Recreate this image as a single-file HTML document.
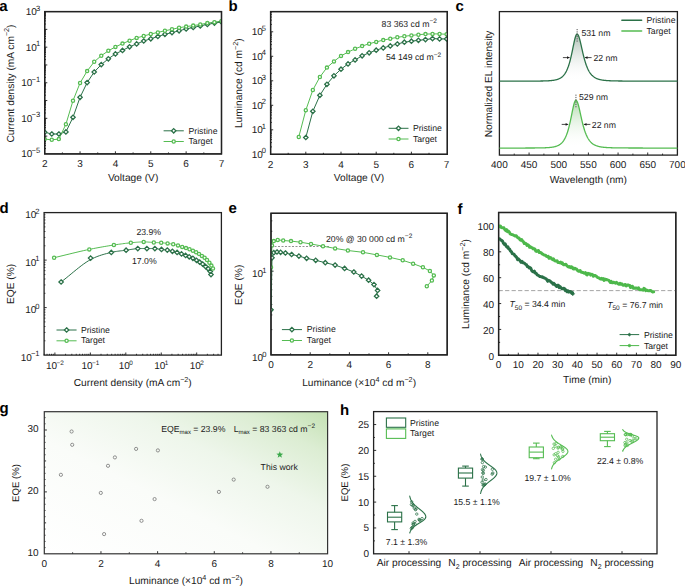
<!DOCTYPE html><html><head><meta charset="utf-8"><style>html,body{margin:0;padding:0;background:#fff;}svg{display:block;font-family:"Liberation Sans",sans-serif;text-rendering:geometricPrecision;}</style></head><body>
<svg width="685" height="586" viewBox="0 0 685 586">
<defs>
<clipPath id="ca"><rect x="44.7" y="11.6" width="176.8" height="142.3"/></clipPath>
<clipPath id="ce"><rect x="271.0" y="213.3" width="176.2" height="141.55"/></clipPath>
<clipPath id="cf"><rect x="498.6" y="212.5" width="177.2" height="142.8"/></clipPath>
<clipPath id="cb"><rect x="270.6" y="11.6" width="176.7" height="142.7"/></clipPath>
<linearGradient id="gp" x1="0" y1="0" x2="0" y2="1"><stop offset="0" stop-color="#a9bcb0"/><stop offset="1" stop-color="#ffffff" stop-opacity="0"/></linearGradient>
<linearGradient id="gt" x1="0" y1="0" x2="0" y2="1"><stop offset="0" stop-color="#b0d9ab"/><stop offset="1" stop-color="#ffffff" stop-opacity="0"/></linearGradient>
<linearGradient id="gg" x1="1" y1="0" x2="0" y2="1"><stop offset="0" stop-color="#c4e1b3"/><stop offset="0.15" stop-color="#dcedd3"/><stop offset="0.35" stop-color="#eef6eb"/><stop offset="0.6" stop-color="#fafcf9"/><stop offset="1" stop-color="#ffffff"/></linearGradient>
</defs>
<rect width="685" height="586" fill="#fff"/>
<text x="-0.8" y="10.7" font-size="15" font-weight="bold" fill="#000">a</text>
<line x1="62.38" y1="153.90" x2="62.38" y2="152.40" stroke="#1a1a1a" stroke-width="0.9"/>
<line x1="80.06" y1="153.90" x2="80.06" y2="151.30" stroke="#1a1a1a" stroke-width="0.9"/>
<line x1="97.74" y1="153.90" x2="97.74" y2="152.40" stroke="#1a1a1a" stroke-width="0.9"/>
<line x1="115.42" y1="153.90" x2="115.42" y2="151.30" stroke="#1a1a1a" stroke-width="0.9"/>
<line x1="133.10" y1="153.90" x2="133.10" y2="152.40" stroke="#1a1a1a" stroke-width="0.9"/>
<line x1="150.78" y1="153.90" x2="150.78" y2="151.30" stroke="#1a1a1a" stroke-width="0.9"/>
<line x1="168.46" y1="153.90" x2="168.46" y2="152.40" stroke="#1a1a1a" stroke-width="0.9"/>
<line x1="186.14" y1="153.90" x2="186.14" y2="151.30" stroke="#1a1a1a" stroke-width="0.9"/>
<line x1="203.82" y1="153.90" x2="203.82" y2="152.40" stroke="#1a1a1a" stroke-width="0.9"/>
<line x1="44.70" y1="148.55" x2="46.00" y2="148.55" stroke="#1a1a1a" stroke-width="0.9"/>
<line x1="44.70" y1="145.41" x2="46.00" y2="145.41" stroke="#1a1a1a" stroke-width="0.9"/>
<line x1="44.70" y1="143.19" x2="46.00" y2="143.19" stroke="#1a1a1a" stroke-width="0.9"/>
<line x1="44.70" y1="141.47" x2="46.00" y2="141.47" stroke="#1a1a1a" stroke-width="0.9"/>
<line x1="44.70" y1="140.06" x2="46.00" y2="140.06" stroke="#1a1a1a" stroke-width="0.9"/>
<line x1="44.70" y1="138.87" x2="46.00" y2="138.87" stroke="#1a1a1a" stroke-width="0.9"/>
<line x1="44.70" y1="137.84" x2="46.00" y2="137.84" stroke="#1a1a1a" stroke-width="0.9"/>
<line x1="44.70" y1="136.93" x2="46.00" y2="136.93" stroke="#1a1a1a" stroke-width="0.9"/>
<line x1="44.70" y1="136.11" x2="47.30" y2="136.11" stroke="#1a1a1a" stroke-width="0.9"/>
<line x1="44.70" y1="130.76" x2="46.00" y2="130.76" stroke="#1a1a1a" stroke-width="0.9"/>
<line x1="44.70" y1="127.63" x2="46.00" y2="127.63" stroke="#1a1a1a" stroke-width="0.9"/>
<line x1="44.70" y1="125.40" x2="46.00" y2="125.40" stroke="#1a1a1a" stroke-width="0.9"/>
<line x1="44.70" y1="123.68" x2="46.00" y2="123.68" stroke="#1a1a1a" stroke-width="0.9"/>
<line x1="44.70" y1="122.27" x2="46.00" y2="122.27" stroke="#1a1a1a" stroke-width="0.9"/>
<line x1="44.70" y1="121.08" x2="46.00" y2="121.08" stroke="#1a1a1a" stroke-width="0.9"/>
<line x1="44.70" y1="120.05" x2="46.00" y2="120.05" stroke="#1a1a1a" stroke-width="0.9"/>
<line x1="44.70" y1="119.14" x2="46.00" y2="119.14" stroke="#1a1a1a" stroke-width="0.9"/>
<line x1="44.70" y1="118.33" x2="47.30" y2="118.33" stroke="#1a1a1a" stroke-width="0.9"/>
<line x1="44.70" y1="112.97" x2="46.00" y2="112.97" stroke="#1a1a1a" stroke-width="0.9"/>
<line x1="44.70" y1="109.84" x2="46.00" y2="109.84" stroke="#1a1a1a" stroke-width="0.9"/>
<line x1="44.70" y1="107.62" x2="46.00" y2="107.62" stroke="#1a1a1a" stroke-width="0.9"/>
<line x1="44.70" y1="105.89" x2="46.00" y2="105.89" stroke="#1a1a1a" stroke-width="0.9"/>
<line x1="44.70" y1="104.48" x2="46.00" y2="104.48" stroke="#1a1a1a" stroke-width="0.9"/>
<line x1="44.70" y1="103.29" x2="46.00" y2="103.29" stroke="#1a1a1a" stroke-width="0.9"/>
<line x1="44.70" y1="102.26" x2="46.00" y2="102.26" stroke="#1a1a1a" stroke-width="0.9"/>
<line x1="44.70" y1="101.35" x2="46.00" y2="101.35" stroke="#1a1a1a" stroke-width="0.9"/>
<line x1="44.70" y1="100.54" x2="47.30" y2="100.54" stroke="#1a1a1a" stroke-width="0.9"/>
<line x1="44.70" y1="95.18" x2="46.00" y2="95.18" stroke="#1a1a1a" stroke-width="0.9"/>
<line x1="44.70" y1="92.05" x2="46.00" y2="92.05" stroke="#1a1a1a" stroke-width="0.9"/>
<line x1="44.70" y1="89.83" x2="46.00" y2="89.83" stroke="#1a1a1a" stroke-width="0.9"/>
<line x1="44.70" y1="88.10" x2="46.00" y2="88.10" stroke="#1a1a1a" stroke-width="0.9"/>
<line x1="44.70" y1="86.70" x2="46.00" y2="86.70" stroke="#1a1a1a" stroke-width="0.9"/>
<line x1="44.70" y1="85.51" x2="46.00" y2="85.51" stroke="#1a1a1a" stroke-width="0.9"/>
<line x1="44.70" y1="84.47" x2="46.00" y2="84.47" stroke="#1a1a1a" stroke-width="0.9"/>
<line x1="44.70" y1="83.56" x2="46.00" y2="83.56" stroke="#1a1a1a" stroke-width="0.9"/>
<line x1="44.70" y1="82.75" x2="47.30" y2="82.75" stroke="#1a1a1a" stroke-width="0.9"/>
<line x1="44.70" y1="77.40" x2="46.00" y2="77.40" stroke="#1a1a1a" stroke-width="0.9"/>
<line x1="44.70" y1="74.26" x2="46.00" y2="74.26" stroke="#1a1a1a" stroke-width="0.9"/>
<line x1="44.70" y1="72.04" x2="46.00" y2="72.04" stroke="#1a1a1a" stroke-width="0.9"/>
<line x1="44.70" y1="70.32" x2="46.00" y2="70.32" stroke="#1a1a1a" stroke-width="0.9"/>
<line x1="44.70" y1="68.91" x2="46.00" y2="68.91" stroke="#1a1a1a" stroke-width="0.9"/>
<line x1="44.70" y1="67.72" x2="46.00" y2="67.72" stroke="#1a1a1a" stroke-width="0.9"/>
<line x1="44.70" y1="66.69" x2="46.00" y2="66.69" stroke="#1a1a1a" stroke-width="0.9"/>
<line x1="44.70" y1="65.78" x2="46.00" y2="65.78" stroke="#1a1a1a" stroke-width="0.9"/>
<line x1="44.70" y1="64.96" x2="47.30" y2="64.96" stroke="#1a1a1a" stroke-width="0.9"/>
<line x1="44.70" y1="59.61" x2="46.00" y2="59.61" stroke="#1a1a1a" stroke-width="0.9"/>
<line x1="44.70" y1="56.48" x2="46.00" y2="56.48" stroke="#1a1a1a" stroke-width="0.9"/>
<line x1="44.70" y1="54.25" x2="46.00" y2="54.25" stroke="#1a1a1a" stroke-width="0.9"/>
<line x1="44.70" y1="52.53" x2="46.00" y2="52.53" stroke="#1a1a1a" stroke-width="0.9"/>
<line x1="44.70" y1="51.12" x2="46.00" y2="51.12" stroke="#1a1a1a" stroke-width="0.9"/>
<line x1="44.70" y1="49.93" x2="46.00" y2="49.93" stroke="#1a1a1a" stroke-width="0.9"/>
<line x1="44.70" y1="48.90" x2="46.00" y2="48.90" stroke="#1a1a1a" stroke-width="0.9"/>
<line x1="44.70" y1="47.99" x2="46.00" y2="47.99" stroke="#1a1a1a" stroke-width="0.9"/>
<line x1="44.70" y1="47.18" x2="47.30" y2="47.18" stroke="#1a1a1a" stroke-width="0.9"/>
<line x1="44.70" y1="41.82" x2="46.00" y2="41.82" stroke="#1a1a1a" stroke-width="0.9"/>
<line x1="44.70" y1="38.69" x2="46.00" y2="38.69" stroke="#1a1a1a" stroke-width="0.9"/>
<line x1="44.70" y1="36.47" x2="46.00" y2="36.47" stroke="#1a1a1a" stroke-width="0.9"/>
<line x1="44.70" y1="34.74" x2="46.00" y2="34.74" stroke="#1a1a1a" stroke-width="0.9"/>
<line x1="44.70" y1="33.33" x2="46.00" y2="33.33" stroke="#1a1a1a" stroke-width="0.9"/>
<line x1="44.70" y1="32.14" x2="46.00" y2="32.14" stroke="#1a1a1a" stroke-width="0.9"/>
<line x1="44.70" y1="31.11" x2="46.00" y2="31.11" stroke="#1a1a1a" stroke-width="0.9"/>
<line x1="44.70" y1="30.20" x2="46.00" y2="30.20" stroke="#1a1a1a" stroke-width="0.9"/>
<line x1="44.70" y1="29.39" x2="47.30" y2="29.39" stroke="#1a1a1a" stroke-width="0.9"/>
<line x1="44.70" y1="24.03" x2="46.00" y2="24.03" stroke="#1a1a1a" stroke-width="0.9"/>
<line x1="44.70" y1="20.90" x2="46.00" y2="20.90" stroke="#1a1a1a" stroke-width="0.9"/>
<line x1="44.70" y1="18.68" x2="46.00" y2="18.68" stroke="#1a1a1a" stroke-width="0.9"/>
<line x1="44.70" y1="16.95" x2="46.00" y2="16.95" stroke="#1a1a1a" stroke-width="0.9"/>
<line x1="44.70" y1="15.55" x2="46.00" y2="15.55" stroke="#1a1a1a" stroke-width="0.9"/>
<line x1="44.70" y1="14.36" x2="46.00" y2="14.36" stroke="#1a1a1a" stroke-width="0.9"/>
<line x1="44.70" y1="13.32" x2="46.00" y2="13.32" stroke="#1a1a1a" stroke-width="0.9"/>
<line x1="44.70" y1="12.41" x2="46.00" y2="12.41" stroke="#1a1a1a" stroke-width="0.9"/>
<rect x="44.7" y="11.6" width="176.80" height="142.30" fill="none" stroke="#222" stroke-width="1.3"/>
<text x="44.70" y="167.20" font-size="10.0" text-anchor="middle" fill="#1a1a1a" >2</text>
<text x="80.06" y="167.20" font-size="10.0" text-anchor="middle" fill="#1a1a1a" >3</text>
<text x="115.42" y="167.20" font-size="10.0" text-anchor="middle" fill="#1a1a1a" >4</text>
<text x="150.78" y="167.20" font-size="10.0" text-anchor="middle" fill="#1a1a1a" >5</text>
<text x="186.14" y="167.20" font-size="10.0" text-anchor="middle" fill="#1a1a1a" >6</text>
<text x="221.50" y="167.20" font-size="10.0" text-anchor="middle" fill="#1a1a1a" >7</text>
<text x="40.20" y="15.00" font-size="10.0" text-anchor="end" fill="#1a1a1a" >10<tspan font-size="7.6" dy="-4.4" dx="-0.9">3</tspan></text>
<text x="40.20" y="50.58" font-size="10.0" text-anchor="end" fill="#1a1a1a" >10<tspan font-size="7.6" dy="-4.4" dx="-0.9">1</tspan></text>
<text x="40.20" y="86.15" font-size="10.0" text-anchor="end" fill="#1a1a1a" >10<tspan font-size="7.6" dy="-4.4" dx="-0.9">−1</tspan></text>
<text x="40.20" y="121.73" font-size="10.0" text-anchor="end" fill="#1a1a1a" >10<tspan font-size="7.6" dy="-4.4" dx="-0.9">−3</tspan></text>
<text x="40.20" y="157.30" font-size="10.0" text-anchor="end" fill="#1a1a1a" >10<tspan font-size="7.6" dy="-4.4" dx="-0.9">−5</tspan></text>
<text x="133.10" y="181.00" font-size="10.2" text-anchor="middle" fill="#1a1a1a" >Voltage (V)</text>
<text transform="translate(13.6,83.5) rotate(-90)" font-size="10.2" text-anchor="middle" fill="#1a1a1a">Current density (mA cm<tspan font-size="7.2" dy="-4.2" dx="0">−2</tspan><tspan dy="4.2">)</tspan></text>
<g clip-path="url(#ca)">
<polyline points="44.70,132.20 51.77,134.00 58.84,134.00 65.92,131.90 72.99,117.30 80.06,97.30 87.13,82.60 94.20,72.00 101.28,64.60 108.35,58.80 115.42,53.90 122.49,50.40 129.56,46.80 136.64,43.90 143.71,41.00 150.78,38.80 157.85,36.50 164.92,34.30 172.00,32.60 179.07,30.80 186.14,28.90 193.21,27.50 200.28,25.90 207.36,24.40 214.43,23.10 221.50,21.90" fill="none" stroke="#2b7148" stroke-width="1.0" stroke-linejoin="round" stroke-linecap="round" />
<polyline points="44.70,139.10 51.77,139.80 58.84,139.10 65.92,124.20 72.99,100.70 80.06,83.00 87.13,71.10 94.20,61.80 101.28,55.70 108.35,50.80 115.42,46.90 122.49,43.60 129.56,40.70 136.64,37.90 143.71,36.00 150.78,34.00 157.85,32.40 164.92,30.80 172.00,29.30 179.07,27.70 186.14,26.60 193.21,25.60 200.28,24.50 207.36,23.10 214.43,22.20 221.50,21.00" fill="none" stroke="#55bc52" stroke-width="1.0" stroke-linejoin="round" stroke-linecap="round" />
<path d="M44.70 130.00L46.90 132.20L44.70 134.40L42.50 132.20Z" fill="white" stroke="#2b7148" stroke-width="1.3"/>
<path d="M51.77 131.80L53.97 134.00L51.77 136.20L49.57 134.00Z" fill="white" stroke="#2b7148" stroke-width="1.3"/>
<path d="M58.84 131.80L61.04 134.00L58.84 136.20L56.64 134.00Z" fill="white" stroke="#2b7148" stroke-width="1.3"/>
<path d="M65.92 129.70L68.12 131.90L65.92 134.10L63.72 131.90Z" fill="white" stroke="#2b7148" stroke-width="1.3"/>
<path d="M72.99 115.10L75.19 117.30L72.99 119.50L70.79 117.30Z" fill="white" stroke="#2b7148" stroke-width="1.3"/>
<path d="M80.06 95.10L82.26 97.30L80.06 99.50L77.86 97.30Z" fill="white" stroke="#2b7148" stroke-width="1.3"/>
<path d="M87.13 80.40L89.33 82.60L87.13 84.80L84.93 82.60Z" fill="white" stroke="#2b7148" stroke-width="1.3"/>
<path d="M94.20 69.80L96.40 72.00L94.20 74.20L92.00 72.00Z" fill="white" stroke="#2b7148" stroke-width="1.3"/>
<path d="M101.28 62.40L103.48 64.60L101.28 66.80L99.08 64.60Z" fill="white" stroke="#2b7148" stroke-width="1.3"/>
<path d="M108.35 56.60L110.55 58.80L108.35 61.00L106.15 58.80Z" fill="white" stroke="#2b7148" stroke-width="1.3"/>
<path d="M115.42 51.70L117.62 53.90L115.42 56.10L113.22 53.90Z" fill="white" stroke="#2b7148" stroke-width="1.3"/>
<path d="M122.49 48.20L124.69 50.40L122.49 52.60L120.29 50.40Z" fill="white" stroke="#2b7148" stroke-width="1.3"/>
<path d="M129.56 44.60L131.76 46.80L129.56 49.00L127.36 46.80Z" fill="white" stroke="#2b7148" stroke-width="1.3"/>
<path d="M136.64 41.70L138.84 43.90L136.64 46.10L134.44 43.90Z" fill="white" stroke="#2b7148" stroke-width="1.3"/>
<path d="M143.71 38.80L145.91 41.00L143.71 43.20L141.51 41.00Z" fill="white" stroke="#2b7148" stroke-width="1.3"/>
<path d="M150.78 36.60L152.98 38.80L150.78 41.00L148.58 38.80Z" fill="white" stroke="#2b7148" stroke-width="1.3"/>
<path d="M157.85 34.30L160.05 36.50L157.85 38.70L155.65 36.50Z" fill="white" stroke="#2b7148" stroke-width="1.3"/>
<path d="M164.92 32.10L167.12 34.30L164.92 36.50L162.72 34.30Z" fill="white" stroke="#2b7148" stroke-width="1.3"/>
<path d="M172.00 30.40L174.20 32.60L172.00 34.80L169.80 32.60Z" fill="white" stroke="#2b7148" stroke-width="1.3"/>
<path d="M179.07 28.60L181.27 30.80L179.07 33.00L176.87 30.80Z" fill="white" stroke="#2b7148" stroke-width="1.3"/>
<path d="M186.14 26.70L188.34 28.90L186.14 31.10L183.94 28.90Z" fill="white" stroke="#2b7148" stroke-width="1.3"/>
<path d="M193.21 25.30L195.41 27.50L193.21 29.70L191.01 27.50Z" fill="white" stroke="#2b7148" stroke-width="1.3"/>
<path d="M200.28 23.70L202.48 25.90L200.28 28.10L198.08 25.90Z" fill="white" stroke="#2b7148" stroke-width="1.3"/>
<path d="M207.36 22.20L209.56 24.40L207.36 26.60L205.16 24.40Z" fill="white" stroke="#2b7148" stroke-width="1.3"/>
<path d="M214.43 20.90L216.63 23.10L214.43 25.30L212.23 23.10Z" fill="white" stroke="#2b7148" stroke-width="1.3"/>
<path d="M221.50 19.70L223.70 21.90L221.50 24.10L219.30 21.90Z" fill="white" stroke="#2b7148" stroke-width="1.3"/>
<circle cx="44.70" cy="139.10" r="1.6" fill="white" stroke="#55bc52" stroke-width="1.3"/>
<circle cx="51.77" cy="139.80" r="1.6" fill="white" stroke="#55bc52" stroke-width="1.3"/>
<circle cx="58.84" cy="139.10" r="1.6" fill="white" stroke="#55bc52" stroke-width="1.3"/>
<circle cx="65.92" cy="124.20" r="1.6" fill="white" stroke="#55bc52" stroke-width="1.3"/>
<circle cx="72.99" cy="100.70" r="1.6" fill="white" stroke="#55bc52" stroke-width="1.3"/>
<circle cx="80.06" cy="83.00" r="1.6" fill="white" stroke="#55bc52" stroke-width="1.3"/>
<circle cx="87.13" cy="71.10" r="1.6" fill="white" stroke="#55bc52" stroke-width="1.3"/>
<circle cx="94.20" cy="61.80" r="1.6" fill="white" stroke="#55bc52" stroke-width="1.3"/>
<circle cx="101.28" cy="55.70" r="1.6" fill="white" stroke="#55bc52" stroke-width="1.3"/>
<circle cx="108.35" cy="50.80" r="1.6" fill="white" stroke="#55bc52" stroke-width="1.3"/>
<circle cx="115.42" cy="46.90" r="1.6" fill="white" stroke="#55bc52" stroke-width="1.3"/>
<circle cx="122.49" cy="43.60" r="1.6" fill="white" stroke="#55bc52" stroke-width="1.3"/>
<circle cx="129.56" cy="40.70" r="1.6" fill="white" stroke="#55bc52" stroke-width="1.3"/>
<circle cx="136.64" cy="37.90" r="1.6" fill="white" stroke="#55bc52" stroke-width="1.3"/>
<circle cx="143.71" cy="36.00" r="1.6" fill="white" stroke="#55bc52" stroke-width="1.3"/>
<circle cx="150.78" cy="34.00" r="1.6" fill="white" stroke="#55bc52" stroke-width="1.3"/>
<circle cx="157.85" cy="32.40" r="1.6" fill="white" stroke="#55bc52" stroke-width="1.3"/>
<circle cx="164.92" cy="30.80" r="1.6" fill="white" stroke="#55bc52" stroke-width="1.3"/>
<circle cx="172.00" cy="29.30" r="1.6" fill="white" stroke="#55bc52" stroke-width="1.3"/>
<circle cx="179.07" cy="27.70" r="1.6" fill="white" stroke="#55bc52" stroke-width="1.3"/>
<circle cx="186.14" cy="26.60" r="1.6" fill="white" stroke="#55bc52" stroke-width="1.3"/>
<circle cx="193.21" cy="25.60" r="1.6" fill="white" stroke="#55bc52" stroke-width="1.3"/>
<circle cx="200.28" cy="24.50" r="1.6" fill="white" stroke="#55bc52" stroke-width="1.3"/>
<circle cx="207.36" cy="23.10" r="1.6" fill="white" stroke="#55bc52" stroke-width="1.3"/>
<circle cx="214.43" cy="22.20" r="1.6" fill="white" stroke="#55bc52" stroke-width="1.3"/>
<circle cx="221.50" cy="21.00" r="1.6" fill="white" stroke="#55bc52" stroke-width="1.3"/>
</g>
<polyline points="164.00,130.80 183.40,130.80" fill="none" stroke="#2b7148" stroke-width="1.0" stroke-linejoin="round" stroke-linecap="round" />
<path d="M173.70 128.60L175.90 130.80L173.70 133.00L171.50 130.80Z" fill="white" stroke="#2b7148" stroke-width="1.3"/>
<text x="188.50" y="133.80" font-size="8.7" text-anchor="start" fill="#1a1a1a" >Pristine</text>
<polyline points="164.00,141.50 183.40,141.50" fill="none" stroke="#55bc52" stroke-width="1.0" stroke-linejoin="round" stroke-linecap="round" />
<circle cx="173.70" cy="141.50" r="1.6" fill="white" stroke="#55bc52" stroke-width="1.3"/>
<text x="188.50" y="144.40" font-size="8.7" text-anchor="start" fill="#1a1a1a" >Target</text>
<rect x="44.7" y="11.6" width="176.80" height="142.30" fill="none" stroke="#222" stroke-width="1.3"/>
<text x="228.4" y="10.5" font-size="15" font-weight="bold" fill="#000">b</text>
<line x1="288.20" y1="154.30" x2="288.20" y2="152.80" stroke="#1a1a1a" stroke-width="0.9"/>
<line x1="305.80" y1="154.30" x2="305.80" y2="151.70" stroke="#1a1a1a" stroke-width="0.9"/>
<line x1="323.40" y1="154.30" x2="323.40" y2="152.80" stroke="#1a1a1a" stroke-width="0.9"/>
<line x1="341.00" y1="154.30" x2="341.00" y2="151.70" stroke="#1a1a1a" stroke-width="0.9"/>
<line x1="358.60" y1="154.30" x2="358.60" y2="152.80" stroke="#1a1a1a" stroke-width="0.9"/>
<line x1="376.20" y1="154.30" x2="376.20" y2="151.70" stroke="#1a1a1a" stroke-width="0.9"/>
<line x1="393.80" y1="154.30" x2="393.80" y2="152.80" stroke="#1a1a1a" stroke-width="0.9"/>
<line x1="411.40" y1="154.30" x2="411.40" y2="151.70" stroke="#1a1a1a" stroke-width="0.9"/>
<line x1="429.00" y1="154.30" x2="429.00" y2="152.80" stroke="#1a1a1a" stroke-width="0.9"/>
<line x1="270.60" y1="146.92" x2="271.90" y2="146.92" stroke="#1a1a1a" stroke-width="0.9"/>
<line x1="270.60" y1="142.61" x2="271.90" y2="142.61" stroke="#1a1a1a" stroke-width="0.9"/>
<line x1="270.60" y1="139.55" x2="271.90" y2="139.55" stroke="#1a1a1a" stroke-width="0.9"/>
<line x1="270.60" y1="137.18" x2="271.90" y2="137.18" stroke="#1a1a1a" stroke-width="0.9"/>
<line x1="270.60" y1="135.24" x2="271.90" y2="135.24" stroke="#1a1a1a" stroke-width="0.9"/>
<line x1="270.60" y1="133.60" x2="271.90" y2="133.60" stroke="#1a1a1a" stroke-width="0.9"/>
<line x1="270.60" y1="132.17" x2="271.90" y2="132.17" stroke="#1a1a1a" stroke-width="0.9"/>
<line x1="270.60" y1="130.92" x2="271.90" y2="130.92" stroke="#1a1a1a" stroke-width="0.9"/>
<line x1="270.60" y1="129.80" x2="273.20" y2="129.80" stroke="#1a1a1a" stroke-width="0.9"/>
<line x1="270.60" y1="122.42" x2="271.90" y2="122.42" stroke="#1a1a1a" stroke-width="0.9"/>
<line x1="270.60" y1="118.11" x2="271.90" y2="118.11" stroke="#1a1a1a" stroke-width="0.9"/>
<line x1="270.60" y1="115.05" x2="271.90" y2="115.05" stroke="#1a1a1a" stroke-width="0.9"/>
<line x1="270.60" y1="112.68" x2="271.90" y2="112.68" stroke="#1a1a1a" stroke-width="0.9"/>
<line x1="270.60" y1="110.74" x2="271.90" y2="110.74" stroke="#1a1a1a" stroke-width="0.9"/>
<line x1="270.60" y1="109.10" x2="271.90" y2="109.10" stroke="#1a1a1a" stroke-width="0.9"/>
<line x1="270.60" y1="107.67" x2="271.90" y2="107.67" stroke="#1a1a1a" stroke-width="0.9"/>
<line x1="270.60" y1="106.42" x2="271.90" y2="106.42" stroke="#1a1a1a" stroke-width="0.9"/>
<line x1="270.60" y1="105.30" x2="273.20" y2="105.30" stroke="#1a1a1a" stroke-width="0.9"/>
<line x1="270.60" y1="97.92" x2="271.90" y2="97.92" stroke="#1a1a1a" stroke-width="0.9"/>
<line x1="270.60" y1="93.61" x2="271.90" y2="93.61" stroke="#1a1a1a" stroke-width="0.9"/>
<line x1="270.60" y1="90.55" x2="271.90" y2="90.55" stroke="#1a1a1a" stroke-width="0.9"/>
<line x1="270.60" y1="88.18" x2="271.90" y2="88.18" stroke="#1a1a1a" stroke-width="0.9"/>
<line x1="270.60" y1="86.24" x2="271.90" y2="86.24" stroke="#1a1a1a" stroke-width="0.9"/>
<line x1="270.60" y1="84.60" x2="271.90" y2="84.60" stroke="#1a1a1a" stroke-width="0.9"/>
<line x1="270.60" y1="83.17" x2="271.90" y2="83.17" stroke="#1a1a1a" stroke-width="0.9"/>
<line x1="270.60" y1="81.92" x2="271.90" y2="81.92" stroke="#1a1a1a" stroke-width="0.9"/>
<line x1="270.60" y1="80.80" x2="273.20" y2="80.80" stroke="#1a1a1a" stroke-width="0.9"/>
<line x1="270.60" y1="73.42" x2="271.90" y2="73.42" stroke="#1a1a1a" stroke-width="0.9"/>
<line x1="270.60" y1="69.11" x2="271.90" y2="69.11" stroke="#1a1a1a" stroke-width="0.9"/>
<line x1="270.60" y1="66.05" x2="271.90" y2="66.05" stroke="#1a1a1a" stroke-width="0.9"/>
<line x1="270.60" y1="63.68" x2="271.90" y2="63.68" stroke="#1a1a1a" stroke-width="0.9"/>
<line x1="270.60" y1="61.74" x2="271.90" y2="61.74" stroke="#1a1a1a" stroke-width="0.9"/>
<line x1="270.60" y1="60.10" x2="271.90" y2="60.10" stroke="#1a1a1a" stroke-width="0.9"/>
<line x1="270.60" y1="58.67" x2="271.90" y2="58.67" stroke="#1a1a1a" stroke-width="0.9"/>
<line x1="270.60" y1="57.42" x2="271.90" y2="57.42" stroke="#1a1a1a" stroke-width="0.9"/>
<line x1="270.60" y1="56.30" x2="273.20" y2="56.30" stroke="#1a1a1a" stroke-width="0.9"/>
<line x1="270.60" y1="48.92" x2="271.90" y2="48.92" stroke="#1a1a1a" stroke-width="0.9"/>
<line x1="270.60" y1="44.61" x2="271.90" y2="44.61" stroke="#1a1a1a" stroke-width="0.9"/>
<line x1="270.60" y1="41.55" x2="271.90" y2="41.55" stroke="#1a1a1a" stroke-width="0.9"/>
<line x1="270.60" y1="39.18" x2="271.90" y2="39.18" stroke="#1a1a1a" stroke-width="0.9"/>
<line x1="270.60" y1="37.24" x2="271.90" y2="37.24" stroke="#1a1a1a" stroke-width="0.9"/>
<line x1="270.60" y1="35.60" x2="271.90" y2="35.60" stroke="#1a1a1a" stroke-width="0.9"/>
<line x1="270.60" y1="34.17" x2="271.90" y2="34.17" stroke="#1a1a1a" stroke-width="0.9"/>
<line x1="270.60" y1="32.92" x2="271.90" y2="32.92" stroke="#1a1a1a" stroke-width="0.9"/>
<line x1="270.60" y1="31.80" x2="273.20" y2="31.80" stroke="#1a1a1a" stroke-width="0.9"/>
<line x1="270.60" y1="24.42" x2="271.90" y2="24.42" stroke="#1a1a1a" stroke-width="0.9"/>
<line x1="270.60" y1="20.11" x2="271.90" y2="20.11" stroke="#1a1a1a" stroke-width="0.9"/>
<line x1="270.60" y1="17.05" x2="271.90" y2="17.05" stroke="#1a1a1a" stroke-width="0.9"/>
<line x1="270.60" y1="14.68" x2="271.90" y2="14.68" stroke="#1a1a1a" stroke-width="0.9"/>
<line x1="270.60" y1="12.74" x2="271.90" y2="12.74" stroke="#1a1a1a" stroke-width="0.9"/>
<rect x="270.6" y="11.6" width="176.70" height="142.70" fill="none" stroke="#222" stroke-width="1.3"/>
<text x="270.60" y="167.60" font-size="10.0" text-anchor="middle" fill="#1a1a1a" >2</text>
<text x="305.80" y="167.60" font-size="10.0" text-anchor="middle" fill="#1a1a1a" >3</text>
<text x="341.00" y="167.60" font-size="10.0" text-anchor="middle" fill="#1a1a1a" >4</text>
<text x="376.20" y="167.60" font-size="10.0" text-anchor="middle" fill="#1a1a1a" >5</text>
<text x="411.40" y="167.60" font-size="10.0" text-anchor="middle" fill="#1a1a1a" >6</text>
<text x="446.60" y="167.60" font-size="10.0" text-anchor="middle" fill="#1a1a1a" >7</text>
<text x="266.10" y="157.70" font-size="10.0" text-anchor="end" fill="#1a1a1a" >10<tspan font-size="7.6" dy="-4.4" dx="-0.9">0</tspan></text>
<text x="266.10" y="133.20" font-size="10.0" text-anchor="end" fill="#1a1a1a" >10<tspan font-size="7.6" dy="-4.4" dx="-0.9">1</tspan></text>
<text x="266.10" y="108.70" font-size="10.0" text-anchor="end" fill="#1a1a1a" >10<tspan font-size="7.6" dy="-4.4" dx="-0.9">2</tspan></text>
<text x="266.10" y="84.20" font-size="10.0" text-anchor="end" fill="#1a1a1a" >10<tspan font-size="7.6" dy="-4.4" dx="-0.9">3</tspan></text>
<text x="266.10" y="59.70" font-size="10.0" text-anchor="end" fill="#1a1a1a" >10<tspan font-size="7.6" dy="-4.4" dx="-0.9">4</tspan></text>
<text x="266.10" y="35.20" font-size="10.0" text-anchor="end" fill="#1a1a1a" >10<tspan font-size="7.6" dy="-4.4" dx="-0.9">5</tspan></text>
<text x="358.95" y="181.30" font-size="10.2" text-anchor="middle" fill="#1a1a1a" >Voltage (V)</text>
<text transform="translate(242.3,83.2) rotate(-90)" font-size="10.2" text-anchor="middle" fill="#1a1a1a">Luminance (cd m<tspan font-size="7.2" dy="-4.2" dx="0">−2</tspan><tspan dy="4.2">)</tspan></text>
<g clip-path="url(#cb)">
<polyline points="305.80,137.50 312.84,111.30 319.88,95.30 326.92,84.30 333.96,75.80 341.00,69.20 348.04,63.90 355.08,59.90 362.12,55.80 369.16,52.80 376.20,50.20 383.24,47.90 390.28,45.90 397.32,44.00 404.36,42.20 411.40,41.20 418.44,40.30 425.48,39.60 432.52,38.60 439.56,38.90 446.60,38.90" fill="none" stroke="#2b7148" stroke-width="1.0" stroke-linejoin="round" stroke-linecap="round" />
<polyline points="298.76,137.00 305.80,110.20 312.84,90.00 319.88,77.00 326.92,67.60 333.96,61.40 341.00,55.90 348.04,52.10 355.08,48.80 362.12,46.10 369.16,43.70 376.20,41.90 383.24,40.10 390.28,38.70 397.32,37.30 404.36,36.30 411.40,35.40 418.44,34.70 425.48,34.10 432.52,33.90 439.56,33.90 446.60,34.30" fill="none" stroke="#55bc52" stroke-width="1.0" stroke-linejoin="round" stroke-linecap="round" />
<path d="M305.80 135.30L308.00 137.50L305.80 139.70L303.60 137.50Z" fill="white" stroke="#2b7148" stroke-width="1.3"/>
<path d="M312.84 109.10L315.04 111.30L312.84 113.50L310.64 111.30Z" fill="white" stroke="#2b7148" stroke-width="1.3"/>
<path d="M319.88 93.10L322.08 95.30L319.88 97.50L317.68 95.30Z" fill="white" stroke="#2b7148" stroke-width="1.3"/>
<path d="M326.92 82.10L329.12 84.30L326.92 86.50L324.72 84.30Z" fill="white" stroke="#2b7148" stroke-width="1.3"/>
<path d="M333.96 73.60L336.16 75.80L333.96 78.00L331.76 75.80Z" fill="white" stroke="#2b7148" stroke-width="1.3"/>
<path d="M341.00 67.00L343.20 69.20L341.00 71.40L338.80 69.20Z" fill="white" stroke="#2b7148" stroke-width="1.3"/>
<path d="M348.04 61.70L350.24 63.90L348.04 66.10L345.84 63.90Z" fill="white" stroke="#2b7148" stroke-width="1.3"/>
<path d="M355.08 57.70L357.28 59.90L355.08 62.10L352.88 59.90Z" fill="white" stroke="#2b7148" stroke-width="1.3"/>
<path d="M362.12 53.60L364.32 55.80L362.12 58.00L359.92 55.80Z" fill="white" stroke="#2b7148" stroke-width="1.3"/>
<path d="M369.16 50.60L371.36 52.80L369.16 55.00L366.96 52.80Z" fill="white" stroke="#2b7148" stroke-width="1.3"/>
<path d="M376.20 48.00L378.40 50.20L376.20 52.40L374.00 50.20Z" fill="white" stroke="#2b7148" stroke-width="1.3"/>
<path d="M383.24 45.70L385.44 47.90L383.24 50.10L381.04 47.90Z" fill="white" stroke="#2b7148" stroke-width="1.3"/>
<path d="M390.28 43.70L392.48 45.90L390.28 48.10L388.08 45.90Z" fill="white" stroke="#2b7148" stroke-width="1.3"/>
<path d="M397.32 41.80L399.52 44.00L397.32 46.20L395.12 44.00Z" fill="white" stroke="#2b7148" stroke-width="1.3"/>
<path d="M404.36 40.00L406.56 42.20L404.36 44.40L402.16 42.20Z" fill="white" stroke="#2b7148" stroke-width="1.3"/>
<path d="M411.40 39.00L413.60 41.20L411.40 43.40L409.20 41.20Z" fill="white" stroke="#2b7148" stroke-width="1.3"/>
<path d="M418.44 38.10L420.64 40.30L418.44 42.50L416.24 40.30Z" fill="white" stroke="#2b7148" stroke-width="1.3"/>
<path d="M425.48 37.40L427.68 39.60L425.48 41.80L423.28 39.60Z" fill="white" stroke="#2b7148" stroke-width="1.3"/>
<path d="M432.52 36.40L434.72 38.60L432.52 40.80L430.32 38.60Z" fill="white" stroke="#2b7148" stroke-width="1.3"/>
<path d="M439.56 36.70L441.76 38.90L439.56 41.10L437.36 38.90Z" fill="white" stroke="#2b7148" stroke-width="1.3"/>
<path d="M446.60 36.70L448.80 38.90L446.60 41.10L444.40 38.90Z" fill="white" stroke="#2b7148" stroke-width="1.3"/>
<circle cx="298.76" cy="137.00" r="1.6" fill="white" stroke="#55bc52" stroke-width="1.3"/>
<circle cx="305.80" cy="110.20" r="1.6" fill="white" stroke="#55bc52" stroke-width="1.3"/>
<circle cx="312.84" cy="90.00" r="1.6" fill="white" stroke="#55bc52" stroke-width="1.3"/>
<circle cx="319.88" cy="77.00" r="1.6" fill="white" stroke="#55bc52" stroke-width="1.3"/>
<circle cx="326.92" cy="67.60" r="1.6" fill="white" stroke="#55bc52" stroke-width="1.3"/>
<circle cx="333.96" cy="61.40" r="1.6" fill="white" stroke="#55bc52" stroke-width="1.3"/>
<circle cx="341.00" cy="55.90" r="1.6" fill="white" stroke="#55bc52" stroke-width="1.3"/>
<circle cx="348.04" cy="52.10" r="1.6" fill="white" stroke="#55bc52" stroke-width="1.3"/>
<circle cx="355.08" cy="48.80" r="1.6" fill="white" stroke="#55bc52" stroke-width="1.3"/>
<circle cx="362.12" cy="46.10" r="1.6" fill="white" stroke="#55bc52" stroke-width="1.3"/>
<circle cx="369.16" cy="43.70" r="1.6" fill="white" stroke="#55bc52" stroke-width="1.3"/>
<circle cx="376.20" cy="41.90" r="1.6" fill="white" stroke="#55bc52" stroke-width="1.3"/>
<circle cx="383.24" cy="40.10" r="1.6" fill="white" stroke="#55bc52" stroke-width="1.3"/>
<circle cx="390.28" cy="38.70" r="1.6" fill="white" stroke="#55bc52" stroke-width="1.3"/>
<circle cx="397.32" cy="37.30" r="1.6" fill="white" stroke="#55bc52" stroke-width="1.3"/>
<circle cx="404.36" cy="36.30" r="1.6" fill="white" stroke="#55bc52" stroke-width="1.3"/>
<circle cx="411.40" cy="35.40" r="1.6" fill="white" stroke="#55bc52" stroke-width="1.3"/>
<circle cx="418.44" cy="34.70" r="1.6" fill="white" stroke="#55bc52" stroke-width="1.3"/>
<circle cx="425.48" cy="34.10" r="1.6" fill="white" stroke="#55bc52" stroke-width="1.3"/>
<circle cx="432.52" cy="33.90" r="1.6" fill="white" stroke="#55bc52" stroke-width="1.3"/>
<circle cx="439.56" cy="33.90" r="1.6" fill="white" stroke="#55bc52" stroke-width="1.3"/>
<circle cx="446.60" cy="34.30" r="1.6" fill="white" stroke="#55bc52" stroke-width="1.3"/>
</g>
<text x="381.60" y="26.50" font-size="8.7" text-anchor="start" fill="#1a1a1a" >83 363 cd m<tspan font-size="6.5" dy="-3.8" dx="0">−2</tspan></text>
<text x="385.90" y="60.40" font-size="8.7" text-anchor="start" fill="#1a1a1a" >54 149 cd m<tspan font-size="6.5" dy="-3.8" dx="0">−2</tspan></text>
<polyline points="389.00,128.30 408.10,128.30" fill="none" stroke="#2b7148" stroke-width="1.0" stroke-linejoin="round" stroke-linecap="round" />
<path d="M398.50 126.10L400.70 128.30L398.50 130.50L396.30 128.30Z" fill="white" stroke="#2b7148" stroke-width="1.3"/>
<text x="412.90" y="131.00" font-size="8.7" text-anchor="start" fill="#1a1a1a" >Pristine</text>
<polyline points="389.00,139.00 408.10,139.00" fill="none" stroke="#55bc52" stroke-width="1.0" stroke-linejoin="round" stroke-linecap="round" />
<circle cx="398.50" cy="139.00" r="1.6" fill="white" stroke="#55bc52" stroke-width="1.3"/>
<text x="412.90" y="141.80" font-size="8.7" text-anchor="start" fill="#1a1a1a" >Target</text>
<rect x="270.6" y="11.6" width="176.70" height="142.70" fill="none" stroke="#222" stroke-width="1.3"/>
<text x="455.5" y="11" font-size="15" font-weight="bold" fill="#000">c</text>
<line x1="514.23" y1="155.10" x2="514.23" y2="153.60" stroke="#1a1a1a" stroke-width="0.9"/>
<line x1="529.07" y1="155.10" x2="529.07" y2="152.50" stroke="#1a1a1a" stroke-width="0.9"/>
<line x1="543.90" y1="155.10" x2="543.90" y2="153.60" stroke="#1a1a1a" stroke-width="0.9"/>
<line x1="558.73" y1="155.10" x2="558.73" y2="152.50" stroke="#1a1a1a" stroke-width="0.9"/>
<line x1="573.57" y1="155.10" x2="573.57" y2="153.60" stroke="#1a1a1a" stroke-width="0.9"/>
<line x1="588.40" y1="155.10" x2="588.40" y2="152.50" stroke="#1a1a1a" stroke-width="0.9"/>
<line x1="603.23" y1="155.10" x2="603.23" y2="153.60" stroke="#1a1a1a" stroke-width="0.9"/>
<line x1="618.07" y1="155.10" x2="618.07" y2="152.50" stroke="#1a1a1a" stroke-width="0.9"/>
<line x1="632.90" y1="155.10" x2="632.90" y2="153.60" stroke="#1a1a1a" stroke-width="0.9"/>
<line x1="647.73" y1="155.10" x2="647.73" y2="152.50" stroke="#1a1a1a" stroke-width="0.9"/>
<line x1="662.57" y1="155.10" x2="662.57" y2="153.60" stroke="#1a1a1a" stroke-width="0.9"/>
<rect x="499.4" y="11.6" width="178.00" height="143.50" fill="none" stroke="#222" stroke-width="1.3"/>
<text x="499.40" y="167.60" font-size="10.0" text-anchor="middle" fill="#1a1a1a" >400</text>
<text x="529.07" y="167.60" font-size="10.0" text-anchor="middle" fill="#1a1a1a" >450</text>
<text x="558.73" y="167.60" font-size="10.0" text-anchor="middle" fill="#1a1a1a" >500</text>
<text x="588.40" y="167.60" font-size="10.0" text-anchor="middle" fill="#1a1a1a" >550</text>
<text x="618.07" y="167.60" font-size="10.0" text-anchor="middle" fill="#1a1a1a" >600</text>
<text x="647.73" y="167.60" font-size="10.0" text-anchor="middle" fill="#1a1a1a" >650</text>
<text x="677.40" y="167.60" font-size="10.0" text-anchor="middle" fill="#1a1a1a" >700</text>
<text x="588.40" y="182.60" font-size="10.2" text-anchor="middle" fill="#1a1a1a" >Wavelength (nm)</text>
<text transform="translate(491.5,84) rotate(-90)" font-size="10.2" text-anchor="middle" fill="#1a1a1a">Normalized EL intensity</text>
<path d="M499.40 81.17 L499.70 81.17 L499.99 81.17 L500.29 81.17 L500.59 81.17 L500.88 81.17 L501.18 81.17 L501.48 81.17 L501.77 81.17 L502.07 81.17 L502.37 81.17 L502.66 81.17 L502.96 81.17 L503.26 81.17 L503.55 81.17 L503.85 81.17 L504.15 81.17 L504.44 81.16 L504.74 81.16 L505.04 81.16 L505.33 81.16 L505.63 81.16 L505.93 81.16 L506.22 81.16 L506.52 81.16 L506.82 81.16 L507.11 81.16 L507.41 81.16 L507.71 81.16 L508.00 81.16 L508.30 81.16 L508.60 81.16 L508.89 81.16 L509.19 81.16 L509.49 81.16 L509.78 81.16 L510.08 81.16 L510.38 81.16 L510.67 81.16 L510.97 81.16 L511.27 81.16 L511.56 81.16 L511.86 81.16 L512.16 81.16 L512.45 81.16 L512.75 81.16 L513.05 81.15 L513.34 81.15 L513.64 81.15 L513.94 81.15 L514.23 81.15 L514.53 81.15 L514.83 81.15 L515.12 81.15 L515.42 81.15 L515.72 81.15 L516.01 81.15 L516.31 81.15 L516.61 81.15 L516.90 81.15 L517.20 81.15 L517.50 81.15 L517.79 81.15 L518.09 81.15 L518.39 81.15 L518.68 81.15 L518.98 81.15 L519.28 81.14 L519.57 81.14 L519.87 81.14 L520.17 81.14 L520.46 81.14 L520.76 81.14 L521.06 81.14 L521.35 81.14 L521.65 81.14 L521.95 81.14 L522.24 81.14 L522.54 81.14 L522.84 81.14 L523.13 81.14 L523.43 81.14 L523.73 81.13 L524.02 81.13 L524.32 81.13 L524.62 81.13 L524.91 81.13 L525.21 81.13 L525.51 81.13 L525.80 81.13 L526.10 81.13 L526.40 81.13 L526.69 81.13 L526.99 81.12 L527.29 81.12 L527.58 81.12 L527.88 81.12 L528.18 81.12 L528.47 81.12 L528.77 81.12 L529.07 81.12 L529.36 81.12 L529.66 81.11 L529.96 81.11 L530.25 81.11 L530.55 81.11 L530.85 81.11 L531.14 81.11 L531.44 81.11 L531.74 81.10 L532.03 81.10 L532.33 81.10 L532.63 81.10 L532.92 81.10 L533.22 81.10 L533.52 81.09 L533.81 81.09 L534.11 81.09 L534.41 81.09 L534.70 81.09 L535.00 81.08 L535.30 81.08 L535.59 81.08 L535.89 81.08 L536.19 81.08 L536.48 81.07 L536.78 81.07 L537.08 81.07 L537.37 81.06 L537.67 81.06 L537.97 81.06 L538.26 81.06 L538.56 81.05 L538.86 81.05 L539.15 81.04 L539.45 81.04 L539.75 81.04 L540.04 81.03 L540.34 81.03 L540.64 81.02 L540.93 81.02 L541.23 81.01 L541.53 81.01 L541.82 81.00 L542.12 81.00 L542.42 80.99 L542.71 80.98 L543.01 80.98 L543.31 80.97 L543.60 80.96 L543.90 80.96 L544.20 80.95 L544.49 80.94 L544.79 80.93 L545.09 80.92 L545.38 80.91 L545.68 80.90 L545.98 80.89 L546.27 80.88 L546.57 80.87 L546.87 80.85 L547.16 80.84 L547.46 80.83 L547.76 80.81 L548.05 80.80 L548.35 80.78 L548.65 80.76 L548.94 80.74 L549.24 80.73 L549.54 80.70 L549.83 80.68 L550.13 80.66 L550.43 80.64 L550.72 80.61 L551.02 80.58 L551.32 80.55 L551.61 80.52 L551.91 80.49 L552.21 80.46 L552.50 80.42 L552.80 80.38 L553.10 80.34 L553.39 80.30 L553.69 80.26 L553.99 80.21 L554.28 80.16 L554.58 80.11 L554.88 80.05 L555.17 79.99 L555.47 79.92 L555.77 79.86 L556.06 79.78 L556.36 79.71 L556.66 79.63 L556.95 79.54 L557.25 79.45 L557.55 79.35 L557.84 79.25 L558.14 79.14 L558.44 79.03 L558.73 78.91 L559.03 78.78 L559.33 78.64 L559.62 78.49 L559.92 78.34 L560.22 78.17 L560.51 78.00 L560.81 77.81 L561.11 77.61 L561.40 77.40 L561.70 77.18 L562.00 76.94 L562.29 76.69 L562.59 76.43 L562.89 76.14 L563.18 75.84 L563.48 75.52 L563.78 75.18 L564.07 74.82 L564.37 74.44 L564.67 74.04 L564.96 73.61 L565.26 73.15 L565.56 72.67 L565.85 72.15 L566.15 71.61 L566.45 71.03 L566.74 70.42 L567.04 69.77 L567.34 69.09 L567.63 68.36 L567.93 67.60 L568.23 66.79 L568.52 65.94 L568.82 65.04 L569.12 64.09 L569.41 63.10 L569.71 62.06 L570.01 60.97 L570.30 59.83 L570.60 58.64 L570.90 57.40 L571.19 56.12 L571.49 54.79 L571.79 53.43 L572.08 52.03 L572.38 50.60 L572.68 49.16 L572.97 47.70 L573.27 46.24 L573.57 44.80 L573.86 43.38 L574.16 42.00 L574.46 40.68 L574.75 39.43 L575.05 38.28 L575.35 37.23 L575.64 36.31 L575.94 35.54 L576.24 34.92 L576.53 34.47 L576.83 34.19 L577.13 34.10 L577.42 34.18 L577.72 34.41 L578.02 34.79 L578.31 35.31 L578.61 35.97 L578.91 36.76 L579.20 37.65 L579.50 38.65 L579.80 39.74 L580.09 40.89 L580.39 42.11 L580.69 43.37 L580.98 44.66 L581.28 45.98 L581.58 47.31 L581.87 48.64 L582.17 49.96 L582.47 51.27 L582.76 52.56 L583.06 53.83 L583.36 55.06 L583.65 56.26 L583.95 57.42 L584.25 58.55 L584.54 59.63 L584.84 60.68 L585.14 61.68 L585.43 62.64 L585.73 63.56 L586.03 64.44 L586.32 65.28 L586.62 66.08 L586.92 66.85 L587.21 67.57 L587.51 68.27 L587.81 68.92 L588.10 69.55 L588.40 70.14 L588.70 70.71 L588.99 71.24 L589.29 71.75 L589.59 72.23 L589.88 72.69 L590.18 73.12 L590.48 73.53 L590.77 73.92 L591.07 74.29 L591.37 74.63 L591.66 74.97 L591.96 75.28 L592.26 75.57 L592.55 75.86 L592.85 76.12 L593.15 76.37 L593.44 76.61 L593.74 76.84 L594.04 77.05 L594.33 77.25 L594.63 77.45 L594.93 77.63 L595.22 77.80 L595.52 77.96 L595.82 78.12 L596.11 78.26 L596.41 78.40 L596.71 78.53 L597.00 78.66 L597.30 78.78 L597.60 78.89 L597.89 79.00 L598.19 79.10 L598.49 79.19 L598.78 79.28 L599.08 79.37 L599.38 79.45 L599.67 79.53 L599.97 79.60 L600.27 79.67 L600.56 79.74 L600.86 79.80 L601.16 79.86 L601.45 79.91 L601.75 79.97 L602.05 80.02 L602.34 80.07 L602.64 80.11 L602.94 80.16 L603.23 80.20 L603.53 80.24 L603.83 80.28 L604.12 80.31 L604.42 80.35 L604.72 80.38 L605.01 80.41 L605.31 80.44 L605.61 80.47 L605.90 80.49 L606.20 80.52 L606.50 80.54 L606.79 80.56 L607.09 80.59 L607.39 80.61 L607.68 80.63 L607.98 80.65 L608.28 80.66 L608.57 80.68 L608.87 80.70 L609.17 80.71 L609.46 80.73 L609.76 80.74 L610.06 80.76 L610.35 80.77 L610.65 80.78 L610.95 80.80 L611.24 80.81 L611.54 80.82 L611.84 80.83 L612.13 80.84 L612.43 80.85 L612.73 80.86 L613.02 80.87 L613.32 80.87 L613.62 80.88 L613.91 80.89 L614.21 80.90 L614.51 80.91 L614.80 80.91 L615.10 80.92 L615.40 80.93 L615.69 80.93 L615.99 80.94 L616.29 80.94 L616.58 80.95 L616.88 80.95 L617.18 80.96 L617.47 80.96 L617.77 80.97 L618.07 80.97 L618.36 80.98 L618.66 80.98 L618.96 80.99 L619.25 80.99 L619.55 80.99 L619.85 81.00 L620.14 81.00 L620.44 81.01 L620.74 81.01 L621.03 81.01 L621.33 81.02 L621.63 81.02 L621.92 81.02 L622.22 81.02 L622.52 81.03 L622.81 81.03 L623.11 81.03 L623.41 81.04 L623.70 81.04 L624.00 81.04 L624.30 81.04 L624.59 81.05 L624.89 81.05 L625.19 81.05 L625.48 81.05 L625.78 81.05 L626.08 81.06 L626.37 81.06 L626.67 81.06 L626.97 81.06 L627.26 81.06 L627.56 81.07 L627.86 81.07 L628.15 81.07 L628.45 81.07 L628.75 81.07 L629.04 81.07 L629.34 81.08 L629.64 81.08 L629.93 81.08 L630.23 81.08 L630.53 81.08 L630.82 81.08 L631.12 81.08 L631.42 81.09 L631.71 81.09 L632.01 81.09 L632.31 81.09 L632.60 81.09 L632.90 81.09 L633.20 81.09 L633.49 81.09 L633.79 81.10 L634.09 81.10 L634.38 81.10 L634.68 81.10 L634.98 81.10 L635.27 81.10 L635.57 81.10 L635.87 81.10 L636.16 81.10 L636.46 81.11 L636.76 81.11 L637.05 81.11 L637.35 81.11 L637.65 81.11 L637.94 81.11 L638.24 81.11 L638.54 81.11 L638.83 81.11 L639.13 81.11 L639.43 81.11 L639.72 81.12 L640.02 81.12 L640.32 81.12 L640.61 81.12 L640.91 81.12 L641.21 81.12 L641.50 81.12 L641.80 81.12 L642.10 81.12 L642.39 81.12 L642.69 81.12 L642.99 81.12 L643.28 81.12 L643.58 81.12 L643.88 81.13 L644.17 81.13 L644.47 81.13 L644.77 81.13 L645.06 81.13 L645.36 81.13 L645.66 81.13 L645.95 81.13 L646.25 81.13 L646.55 81.13 L646.84 81.13 L647.14 81.13 L647.44 81.13 L647.73 81.13 L648.03 81.13 L648.33 81.13 L648.62 81.14 L648.92 81.14 L649.22 81.14 L649.51 81.14 L649.81 81.14 L650.11 81.14 L650.40 81.14 L650.70 81.14 L651.00 81.14 L651.29 81.14 L651.59 81.14 L651.89 81.14 L652.18 81.14 L652.48 81.14 L652.78 81.14 L653.07 81.14 L653.37 81.14 L653.67 81.14 L653.96 81.14 L654.26 81.14 L654.56 81.14 L654.85 81.15 L655.15 81.15 L655.45 81.15 L655.74 81.15 L656.04 81.15 L656.34 81.15 L656.63 81.15 L656.93 81.15 L657.23 81.15 L657.52 81.15 L657.82 81.15 L658.12 81.15 L658.41 81.15 L658.71 81.15 L659.01 81.15 L659.30 81.15 L659.60 81.15 L659.90 81.15 L660.19 81.15 L660.49 81.15 L660.79 81.15 L661.08 81.15 L661.38 81.15 L661.68 81.15 L661.97 81.15 L662.27 81.15 L662.57 81.15 L662.86 81.15 L663.16 81.16 L663.46 81.16 L663.75 81.16 L664.05 81.16 L664.35 81.16 L664.64 81.16 L664.94 81.16 L665.24 81.16 L665.53 81.16 L665.83 81.16 L666.13 81.16 L666.42 81.16 L666.72 81.16 L667.02 81.16 L667.31 81.16 L667.61 81.16 L667.91 81.16 L668.20 81.16 L668.50 81.16 L668.80 81.16 L669.09 81.16 L669.39 81.16 L669.69 81.16 L669.98 81.16 L670.28 81.16 L670.58 81.16 L670.87 81.16 L671.17 81.16 L671.47 81.16 L671.76 81.16 L672.06 81.16 L672.36 81.16 L672.65 81.16 L672.95 81.16 L673.25 81.16 L673.54 81.16 L673.84 81.16 L674.14 81.16 L674.43 81.16 L674.73 81.17 L675.03 81.17 L675.32 81.17 L675.62 81.17 L675.92 81.17 L676.21 81.17 L676.51 81.17 L676.81 81.17 L677.10 81.17 L677.40 81.17 L677.40 81.20 L499.40 81.20Z" fill="url(#gp)" stroke="none"/>
<path d="M499.40 81.17 L499.70 81.17 L499.99 81.17 L500.29 81.17 L500.59 81.17 L500.88 81.17 L501.18 81.17 L501.48 81.17 L501.77 81.17 L502.07 81.17 L502.37 81.17 L502.66 81.17 L502.96 81.17 L503.26 81.17 L503.55 81.17 L503.85 81.17 L504.15 81.17 L504.44 81.16 L504.74 81.16 L505.04 81.16 L505.33 81.16 L505.63 81.16 L505.93 81.16 L506.22 81.16 L506.52 81.16 L506.82 81.16 L507.11 81.16 L507.41 81.16 L507.71 81.16 L508.00 81.16 L508.30 81.16 L508.60 81.16 L508.89 81.16 L509.19 81.16 L509.49 81.16 L509.78 81.16 L510.08 81.16 L510.38 81.16 L510.67 81.16 L510.97 81.16 L511.27 81.16 L511.56 81.16 L511.86 81.16 L512.16 81.16 L512.45 81.16 L512.75 81.16 L513.05 81.15 L513.34 81.15 L513.64 81.15 L513.94 81.15 L514.23 81.15 L514.53 81.15 L514.83 81.15 L515.12 81.15 L515.42 81.15 L515.72 81.15 L516.01 81.15 L516.31 81.15 L516.61 81.15 L516.90 81.15 L517.20 81.15 L517.50 81.15 L517.79 81.15 L518.09 81.15 L518.39 81.15 L518.68 81.15 L518.98 81.15 L519.28 81.14 L519.57 81.14 L519.87 81.14 L520.17 81.14 L520.46 81.14 L520.76 81.14 L521.06 81.14 L521.35 81.14 L521.65 81.14 L521.95 81.14 L522.24 81.14 L522.54 81.14 L522.84 81.14 L523.13 81.14 L523.43 81.14 L523.73 81.13 L524.02 81.13 L524.32 81.13 L524.62 81.13 L524.91 81.13 L525.21 81.13 L525.51 81.13 L525.80 81.13 L526.10 81.13 L526.40 81.13 L526.69 81.13 L526.99 81.12 L527.29 81.12 L527.58 81.12 L527.88 81.12 L528.18 81.12 L528.47 81.12 L528.77 81.12 L529.07 81.12 L529.36 81.12 L529.66 81.11 L529.96 81.11 L530.25 81.11 L530.55 81.11 L530.85 81.11 L531.14 81.11 L531.44 81.11 L531.74 81.10 L532.03 81.10 L532.33 81.10 L532.63 81.10 L532.92 81.10 L533.22 81.10 L533.52 81.09 L533.81 81.09 L534.11 81.09 L534.41 81.09 L534.70 81.09 L535.00 81.08 L535.30 81.08 L535.59 81.08 L535.89 81.08 L536.19 81.08 L536.48 81.07 L536.78 81.07 L537.08 81.07 L537.37 81.06 L537.67 81.06 L537.97 81.06 L538.26 81.06 L538.56 81.05 L538.86 81.05 L539.15 81.04 L539.45 81.04 L539.75 81.04 L540.04 81.03 L540.34 81.03 L540.64 81.02 L540.93 81.02 L541.23 81.01 L541.53 81.01 L541.82 81.00 L542.12 81.00 L542.42 80.99 L542.71 80.98 L543.01 80.98 L543.31 80.97 L543.60 80.96 L543.90 80.96 L544.20 80.95 L544.49 80.94 L544.79 80.93 L545.09 80.92 L545.38 80.91 L545.68 80.90 L545.98 80.89 L546.27 80.88 L546.57 80.87 L546.87 80.85 L547.16 80.84 L547.46 80.83 L547.76 80.81 L548.05 80.80 L548.35 80.78 L548.65 80.76 L548.94 80.74 L549.24 80.73 L549.54 80.70 L549.83 80.68 L550.13 80.66 L550.43 80.64 L550.72 80.61 L551.02 80.58 L551.32 80.55 L551.61 80.52 L551.91 80.49 L552.21 80.46 L552.50 80.42 L552.80 80.38 L553.10 80.34 L553.39 80.30 L553.69 80.26 L553.99 80.21 L554.28 80.16 L554.58 80.11 L554.88 80.05 L555.17 79.99 L555.47 79.92 L555.77 79.86 L556.06 79.78 L556.36 79.71 L556.66 79.63 L556.95 79.54 L557.25 79.45 L557.55 79.35 L557.84 79.25 L558.14 79.14 L558.44 79.03 L558.73 78.91 L559.03 78.78 L559.33 78.64 L559.62 78.49 L559.92 78.34 L560.22 78.17 L560.51 78.00 L560.81 77.81 L561.11 77.61 L561.40 77.40 L561.70 77.18 L562.00 76.94 L562.29 76.69 L562.59 76.43 L562.89 76.14 L563.18 75.84 L563.48 75.52 L563.78 75.18 L564.07 74.82 L564.37 74.44 L564.67 74.04 L564.96 73.61 L565.26 73.15 L565.56 72.67 L565.85 72.15 L566.15 71.61 L566.45 71.03 L566.74 70.42 L567.04 69.77 L567.34 69.09 L567.63 68.36 L567.93 67.60 L568.23 66.79 L568.52 65.94 L568.82 65.04 L569.12 64.09 L569.41 63.10 L569.71 62.06 L570.01 60.97 L570.30 59.83 L570.60 58.64 L570.90 57.40 L571.19 56.12 L571.49 54.79 L571.79 53.43 L572.08 52.03 L572.38 50.60 L572.68 49.16 L572.97 47.70 L573.27 46.24 L573.57 44.80 L573.86 43.38 L574.16 42.00 L574.46 40.68 L574.75 39.43 L575.05 38.28 L575.35 37.23 L575.64 36.31 L575.94 35.54 L576.24 34.92 L576.53 34.47 L576.83 34.19 L577.13 34.10 L577.42 34.18 L577.72 34.41 L578.02 34.79 L578.31 35.31 L578.61 35.97 L578.91 36.76 L579.20 37.65 L579.50 38.65 L579.80 39.74 L580.09 40.89 L580.39 42.11 L580.69 43.37 L580.98 44.66 L581.28 45.98 L581.58 47.31 L581.87 48.64 L582.17 49.96 L582.47 51.27 L582.76 52.56 L583.06 53.83 L583.36 55.06 L583.65 56.26 L583.95 57.42 L584.25 58.55 L584.54 59.63 L584.84 60.68 L585.14 61.68 L585.43 62.64 L585.73 63.56 L586.03 64.44 L586.32 65.28 L586.62 66.08 L586.92 66.85 L587.21 67.57 L587.51 68.27 L587.81 68.92 L588.10 69.55 L588.40 70.14 L588.70 70.71 L588.99 71.24 L589.29 71.75 L589.59 72.23 L589.88 72.69 L590.18 73.12 L590.48 73.53 L590.77 73.92 L591.07 74.29 L591.37 74.63 L591.66 74.97 L591.96 75.28 L592.26 75.57 L592.55 75.86 L592.85 76.12 L593.15 76.37 L593.44 76.61 L593.74 76.84 L594.04 77.05 L594.33 77.25 L594.63 77.45 L594.93 77.63 L595.22 77.80 L595.52 77.96 L595.82 78.12 L596.11 78.26 L596.41 78.40 L596.71 78.53 L597.00 78.66 L597.30 78.78 L597.60 78.89 L597.89 79.00 L598.19 79.10 L598.49 79.19 L598.78 79.28 L599.08 79.37 L599.38 79.45 L599.67 79.53 L599.97 79.60 L600.27 79.67 L600.56 79.74 L600.86 79.80 L601.16 79.86 L601.45 79.91 L601.75 79.97 L602.05 80.02 L602.34 80.07 L602.64 80.11 L602.94 80.16 L603.23 80.20 L603.53 80.24 L603.83 80.28 L604.12 80.31 L604.42 80.35 L604.72 80.38 L605.01 80.41 L605.31 80.44 L605.61 80.47 L605.90 80.49 L606.20 80.52 L606.50 80.54 L606.79 80.56 L607.09 80.59 L607.39 80.61 L607.68 80.63 L607.98 80.65 L608.28 80.66 L608.57 80.68 L608.87 80.70 L609.17 80.71 L609.46 80.73 L609.76 80.74 L610.06 80.76 L610.35 80.77 L610.65 80.78 L610.95 80.80 L611.24 80.81 L611.54 80.82 L611.84 80.83 L612.13 80.84 L612.43 80.85 L612.73 80.86 L613.02 80.87 L613.32 80.87 L613.62 80.88 L613.91 80.89 L614.21 80.90 L614.51 80.91 L614.80 80.91 L615.10 80.92 L615.40 80.93 L615.69 80.93 L615.99 80.94 L616.29 80.94 L616.58 80.95 L616.88 80.95 L617.18 80.96 L617.47 80.96 L617.77 80.97 L618.07 80.97 L618.36 80.98 L618.66 80.98 L618.96 80.99 L619.25 80.99 L619.55 80.99 L619.85 81.00 L620.14 81.00 L620.44 81.01 L620.74 81.01 L621.03 81.01 L621.33 81.02 L621.63 81.02 L621.92 81.02 L622.22 81.02 L622.52 81.03 L622.81 81.03 L623.11 81.03 L623.41 81.04 L623.70 81.04 L624.00 81.04 L624.30 81.04 L624.59 81.05 L624.89 81.05 L625.19 81.05 L625.48 81.05 L625.78 81.05 L626.08 81.06 L626.37 81.06 L626.67 81.06 L626.97 81.06 L627.26 81.06 L627.56 81.07 L627.86 81.07 L628.15 81.07 L628.45 81.07 L628.75 81.07 L629.04 81.07 L629.34 81.08 L629.64 81.08 L629.93 81.08 L630.23 81.08 L630.53 81.08 L630.82 81.08 L631.12 81.08 L631.42 81.09 L631.71 81.09 L632.01 81.09 L632.31 81.09 L632.60 81.09 L632.90 81.09 L633.20 81.09 L633.49 81.09 L633.79 81.10 L634.09 81.10 L634.38 81.10 L634.68 81.10 L634.98 81.10 L635.27 81.10 L635.57 81.10 L635.87 81.10 L636.16 81.10 L636.46 81.11 L636.76 81.11 L637.05 81.11 L637.35 81.11 L637.65 81.11 L637.94 81.11 L638.24 81.11 L638.54 81.11 L638.83 81.11 L639.13 81.11 L639.43 81.11 L639.72 81.12 L640.02 81.12 L640.32 81.12 L640.61 81.12 L640.91 81.12 L641.21 81.12 L641.50 81.12 L641.80 81.12 L642.10 81.12 L642.39 81.12 L642.69 81.12 L642.99 81.12 L643.28 81.12 L643.58 81.12 L643.88 81.13 L644.17 81.13 L644.47 81.13 L644.77 81.13 L645.06 81.13 L645.36 81.13 L645.66 81.13 L645.95 81.13 L646.25 81.13 L646.55 81.13 L646.84 81.13 L647.14 81.13 L647.44 81.13 L647.73 81.13 L648.03 81.13 L648.33 81.13 L648.62 81.14 L648.92 81.14 L649.22 81.14 L649.51 81.14 L649.81 81.14 L650.11 81.14 L650.40 81.14 L650.70 81.14 L651.00 81.14 L651.29 81.14 L651.59 81.14 L651.89 81.14 L652.18 81.14 L652.48 81.14 L652.78 81.14 L653.07 81.14 L653.37 81.14 L653.67 81.14 L653.96 81.14 L654.26 81.14 L654.56 81.14 L654.85 81.15 L655.15 81.15 L655.45 81.15 L655.74 81.15 L656.04 81.15 L656.34 81.15 L656.63 81.15 L656.93 81.15 L657.23 81.15 L657.52 81.15 L657.82 81.15 L658.12 81.15 L658.41 81.15 L658.71 81.15 L659.01 81.15 L659.30 81.15 L659.60 81.15 L659.90 81.15 L660.19 81.15 L660.49 81.15 L660.79 81.15 L661.08 81.15 L661.38 81.15 L661.68 81.15 L661.97 81.15 L662.27 81.15 L662.57 81.15 L662.86 81.15 L663.16 81.16 L663.46 81.16 L663.75 81.16 L664.05 81.16 L664.35 81.16 L664.64 81.16 L664.94 81.16 L665.24 81.16 L665.53 81.16 L665.83 81.16 L666.13 81.16 L666.42 81.16 L666.72 81.16 L667.02 81.16 L667.31 81.16 L667.61 81.16 L667.91 81.16 L668.20 81.16 L668.50 81.16 L668.80 81.16 L669.09 81.16 L669.39 81.16 L669.69 81.16 L669.98 81.16 L670.28 81.16 L670.58 81.16 L670.87 81.16 L671.17 81.16 L671.47 81.16 L671.76 81.16 L672.06 81.16 L672.36 81.16 L672.65 81.16 L672.95 81.16 L673.25 81.16 L673.54 81.16 L673.84 81.16 L674.14 81.16 L674.43 81.16 L674.73 81.17 L675.03 81.17 L675.32 81.17 L675.62 81.17 L675.92 81.17 L676.21 81.17 L676.51 81.17 L676.81 81.17 L677.10 81.17 L677.40 81.17" fill="none" stroke="#2b7148" stroke-width="1.3"/>
<path d="M499.40 148.07 L499.70 148.07 L499.99 148.07 L500.29 148.07 L500.59 148.07 L500.88 148.07 L501.18 148.07 L501.48 148.07 L501.77 148.07 L502.07 148.07 L502.37 148.07 L502.66 148.07 L502.96 148.06 L503.26 148.06 L503.55 148.06 L503.85 148.06 L504.15 148.06 L504.44 148.06 L504.74 148.06 L505.04 148.06 L505.33 148.06 L505.63 148.06 L505.93 148.06 L506.22 148.06 L506.52 148.06 L506.82 148.06 L507.11 148.06 L507.41 148.06 L507.71 148.06 L508.00 148.06 L508.30 148.06 L508.60 148.06 L508.89 148.06 L509.19 148.06 L509.49 148.06 L509.78 148.06 L510.08 148.06 L510.38 148.06 L510.67 148.06 L510.97 148.06 L511.27 148.06 L511.56 148.05 L511.86 148.05 L512.16 148.05 L512.45 148.05 L512.75 148.05 L513.05 148.05 L513.34 148.05 L513.64 148.05 L513.94 148.05 L514.23 148.05 L514.53 148.05 L514.83 148.05 L515.12 148.05 L515.42 148.05 L515.72 148.05 L516.01 148.05 L516.31 148.05 L516.61 148.05 L516.90 148.05 L517.20 148.05 L517.50 148.04 L517.79 148.04 L518.09 148.04 L518.39 148.04 L518.68 148.04 L518.98 148.04 L519.28 148.04 L519.57 148.04 L519.87 148.04 L520.17 148.04 L520.46 148.04 L520.76 148.04 L521.06 148.04 L521.35 148.04 L521.65 148.04 L521.95 148.03 L522.24 148.03 L522.54 148.03 L522.84 148.03 L523.13 148.03 L523.43 148.03 L523.73 148.03 L524.02 148.03 L524.32 148.03 L524.62 148.03 L524.91 148.03 L525.21 148.03 L525.51 148.02 L525.80 148.02 L526.10 148.02 L526.40 148.02 L526.69 148.02 L526.99 148.02 L527.29 148.02 L527.58 148.02 L527.88 148.02 L528.18 148.01 L528.47 148.01 L528.77 148.01 L529.07 148.01 L529.36 148.01 L529.66 148.01 L529.96 148.01 L530.25 148.01 L530.55 148.00 L530.85 148.00 L531.14 148.00 L531.44 148.00 L531.74 148.00 L532.03 148.00 L532.33 147.99 L532.63 147.99 L532.92 147.99 L533.22 147.99 L533.52 147.99 L533.81 147.98 L534.11 147.98 L534.41 147.98 L534.70 147.98 L535.00 147.97 L535.30 147.97 L535.59 147.97 L535.89 147.97 L536.19 147.96 L536.48 147.96 L536.78 147.96 L537.08 147.95 L537.37 147.95 L537.67 147.95 L537.97 147.94 L538.26 147.94 L538.56 147.93 L538.86 147.93 L539.15 147.93 L539.45 147.92 L539.75 147.92 L540.04 147.91 L540.34 147.91 L540.64 147.90 L540.93 147.89 L541.23 147.89 L541.53 147.88 L541.82 147.87 L542.12 147.87 L542.42 147.86 L542.71 147.85 L543.01 147.84 L543.31 147.84 L543.60 147.83 L543.90 147.82 L544.20 147.81 L544.49 147.80 L544.79 147.79 L545.09 147.77 L545.38 147.76 L545.68 147.75 L545.98 147.74 L546.27 147.72 L546.57 147.71 L546.87 147.69 L547.16 147.67 L547.46 147.66 L547.76 147.64 L548.05 147.62 L548.35 147.60 L548.65 147.58 L548.94 147.55 L549.24 147.53 L549.54 147.50 L549.83 147.47 L550.13 147.45 L550.43 147.41 L550.72 147.38 L551.02 147.35 L551.32 147.31 L551.61 147.27 L551.91 147.23 L552.21 147.19 L552.50 147.14 L552.80 147.09 L553.10 147.04 L553.39 146.99 L553.69 146.93 L553.99 146.87 L554.28 146.81 L554.58 146.74 L554.88 146.66 L555.17 146.59 L555.47 146.50 L555.77 146.42 L556.06 146.33 L556.36 146.23 L556.66 146.12 L556.95 146.01 L557.25 145.90 L557.55 145.77 L557.84 145.64 L558.14 145.50 L558.44 145.35 L558.73 145.19 L559.03 145.03 L559.33 144.85 L559.62 144.66 L559.92 144.46 L560.22 144.25 L560.51 144.02 L560.81 143.78 L561.11 143.53 L561.40 143.26 L561.70 142.97 L562.00 142.66 L562.29 142.34 L562.59 142.00 L562.89 141.63 L563.18 141.24 L563.48 140.83 L563.78 140.39 L564.07 139.93 L564.37 139.44 L564.67 138.92 L564.96 138.37 L565.26 137.78 L565.56 137.16 L565.85 136.50 L566.15 135.81 L566.45 135.07 L566.74 134.30 L567.04 133.48 L567.34 132.61 L567.63 131.70 L567.93 130.74 L568.23 129.73 L568.52 128.67 L568.82 127.57 L569.12 126.41 L569.41 125.20 L569.71 123.95 L570.01 122.64 L570.30 121.30 L570.60 119.91 L570.90 118.49 L571.19 117.05 L571.49 115.58 L571.79 114.10 L572.08 112.62 L572.38 111.16 L572.68 109.72 L572.97 108.32 L573.27 106.98 L573.57 105.71 L573.86 104.54 L574.16 103.48 L574.46 102.55 L574.75 101.76 L575.05 101.13 L575.35 100.67 L575.64 100.39 L575.94 100.30 L576.24 100.38 L576.53 100.61 L576.83 101.00 L577.13 101.53 L577.42 102.20 L577.72 103.00 L578.02 103.91 L578.31 104.92 L578.61 106.02 L578.91 107.19 L579.20 108.43 L579.50 109.71 L579.80 111.02 L580.09 112.36 L580.39 113.71 L580.69 115.06 L580.98 116.40 L581.28 117.73 L581.58 119.04 L581.87 120.32 L582.17 121.57 L582.47 122.79 L582.76 123.97 L583.06 125.11 L583.36 126.21 L583.65 127.27 L583.95 128.29 L584.25 129.26 L584.54 130.20 L584.84 131.09 L585.14 131.94 L585.43 132.76 L585.73 133.53 L586.03 134.27 L586.32 134.97 L586.62 135.64 L586.92 136.28 L587.21 136.88 L587.51 137.45 L587.81 137.99 L588.10 138.51 L588.40 139.00 L588.70 139.46 L588.99 139.90 L589.29 140.32 L589.59 140.71 L589.88 141.08 L590.18 141.44 L590.48 141.77 L590.77 142.09 L591.07 142.39 L591.37 142.68 L591.66 142.95 L591.96 143.20 L592.26 143.44 L592.55 143.67 L592.85 143.89 L593.15 144.10 L593.44 144.29 L593.74 144.47 L594.04 144.65 L594.33 144.81 L594.63 144.97 L594.93 145.12 L595.22 145.26 L595.52 145.39 L595.82 145.52 L596.11 145.64 L596.41 145.75 L596.71 145.86 L597.00 145.96 L597.30 146.06 L597.60 146.15 L597.89 146.24 L598.19 146.32 L598.49 146.40 L598.78 146.48 L599.08 146.55 L599.38 146.61 L599.67 146.68 L599.97 146.74 L600.27 146.80 L600.56 146.85 L600.86 146.90 L601.16 146.95 L601.45 147.00 L601.75 147.04 L602.05 147.08 L602.34 147.12 L602.64 147.16 L602.94 147.20 L603.23 147.23 L603.53 147.27 L603.83 147.30 L604.12 147.33 L604.42 147.36 L604.72 147.38 L605.01 147.41 L605.31 147.43 L605.61 147.46 L605.90 147.48 L606.20 147.50 L606.50 147.52 L606.79 147.54 L607.09 147.56 L607.39 147.57 L607.68 147.59 L607.98 147.61 L608.28 147.62 L608.57 147.64 L608.87 147.65 L609.17 147.66 L609.46 147.68 L609.76 147.69 L610.06 147.70 L610.35 147.71 L610.65 147.72 L610.95 147.73 L611.24 147.74 L611.54 147.75 L611.84 147.76 L612.13 147.77 L612.43 147.78 L612.73 147.79 L613.02 147.79 L613.32 147.80 L613.62 147.81 L613.91 147.82 L614.21 147.82 L614.51 147.83 L614.80 147.83 L615.10 147.84 L615.40 147.85 L615.69 147.85 L615.99 147.86 L616.29 147.86 L616.58 147.87 L616.88 147.87 L617.18 147.88 L617.47 147.88 L617.77 147.88 L618.07 147.89 L618.36 147.89 L618.66 147.90 L618.96 147.90 L619.25 147.90 L619.55 147.91 L619.85 147.91 L620.14 147.91 L620.44 147.92 L620.74 147.92 L621.03 147.92 L621.33 147.93 L621.63 147.93 L621.92 147.93 L622.22 147.93 L622.52 147.94 L622.81 147.94 L623.11 147.94 L623.41 147.94 L623.70 147.95 L624.00 147.95 L624.30 147.95 L624.59 147.95 L624.89 147.95 L625.19 147.96 L625.48 147.96 L625.78 147.96 L626.08 147.96 L626.37 147.96 L626.67 147.97 L626.97 147.97 L627.26 147.97 L627.56 147.97 L627.86 147.97 L628.15 147.97 L628.45 147.98 L628.75 147.98 L629.04 147.98 L629.34 147.98 L629.64 147.98 L629.93 147.98 L630.23 147.98 L630.53 147.99 L630.82 147.99 L631.12 147.99 L631.42 147.99 L631.71 147.99 L632.01 147.99 L632.31 147.99 L632.60 147.99 L632.90 148.00 L633.20 148.00 L633.49 148.00 L633.79 148.00 L634.09 148.00 L634.38 148.00 L634.68 148.00 L634.98 148.00 L635.27 148.00 L635.57 148.00 L635.87 148.01 L636.16 148.01 L636.46 148.01 L636.76 148.01 L637.05 148.01 L637.35 148.01 L637.65 148.01 L637.94 148.01 L638.24 148.01 L638.54 148.01 L638.83 148.01 L639.13 148.02 L639.43 148.02 L639.72 148.02 L640.02 148.02 L640.32 148.02 L640.61 148.02 L640.91 148.02 L641.21 148.02 L641.50 148.02 L641.80 148.02 L642.10 148.02 L642.39 148.02 L642.69 148.02 L642.99 148.03 L643.28 148.03 L643.58 148.03 L643.88 148.03 L644.17 148.03 L644.47 148.03 L644.77 148.03 L645.06 148.03 L645.36 148.03 L645.66 148.03 L645.95 148.03 L646.25 148.03 L646.55 148.03 L646.84 148.03 L647.14 148.03 L647.44 148.03 L647.73 148.03 L648.03 148.04 L648.33 148.04 L648.62 148.04 L648.92 148.04 L649.22 148.04 L649.51 148.04 L649.81 148.04 L650.11 148.04 L650.40 148.04 L650.70 148.04 L651.00 148.04 L651.29 148.04 L651.59 148.04 L651.89 148.04 L652.18 148.04 L652.48 148.04 L652.78 148.04 L653.07 148.04 L653.37 148.04 L653.67 148.04 L653.96 148.04 L654.26 148.05 L654.56 148.05 L654.85 148.05 L655.15 148.05 L655.45 148.05 L655.74 148.05 L656.04 148.05 L656.34 148.05 L656.63 148.05 L656.93 148.05 L657.23 148.05 L657.52 148.05 L657.82 148.05 L658.12 148.05 L658.41 148.05 L658.71 148.05 L659.01 148.05 L659.30 148.05 L659.60 148.05 L659.90 148.05 L660.19 148.05 L660.49 148.05 L660.79 148.05 L661.08 148.05 L661.38 148.05 L661.68 148.05 L661.97 148.05 L662.27 148.05 L662.57 148.06 L662.86 148.06 L663.16 148.06 L663.46 148.06 L663.75 148.06 L664.05 148.06 L664.35 148.06 L664.64 148.06 L664.94 148.06 L665.24 148.06 L665.53 148.06 L665.83 148.06 L666.13 148.06 L666.42 148.06 L666.72 148.06 L667.02 148.06 L667.31 148.06 L667.61 148.06 L667.91 148.06 L668.20 148.06 L668.50 148.06 L668.80 148.06 L669.09 148.06 L669.39 148.06 L669.69 148.06 L669.98 148.06 L670.28 148.06 L670.58 148.06 L670.87 148.06 L671.17 148.06 L671.47 148.06 L671.76 148.06 L672.06 148.06 L672.36 148.06 L672.65 148.06 L672.95 148.06 L673.25 148.06 L673.54 148.06 L673.84 148.06 L674.14 148.06 L674.43 148.07 L674.73 148.07 L675.03 148.07 L675.32 148.07 L675.62 148.07 L675.92 148.07 L676.21 148.07 L676.51 148.07 L676.81 148.07 L677.10 148.07 L677.40 148.07 L677.40 148.10 L499.40 148.10Z" fill="url(#gt)" stroke="none"/>
<path d="M499.40 148.07 L499.70 148.07 L499.99 148.07 L500.29 148.07 L500.59 148.07 L500.88 148.07 L501.18 148.07 L501.48 148.07 L501.77 148.07 L502.07 148.07 L502.37 148.07 L502.66 148.07 L502.96 148.06 L503.26 148.06 L503.55 148.06 L503.85 148.06 L504.15 148.06 L504.44 148.06 L504.74 148.06 L505.04 148.06 L505.33 148.06 L505.63 148.06 L505.93 148.06 L506.22 148.06 L506.52 148.06 L506.82 148.06 L507.11 148.06 L507.41 148.06 L507.71 148.06 L508.00 148.06 L508.30 148.06 L508.60 148.06 L508.89 148.06 L509.19 148.06 L509.49 148.06 L509.78 148.06 L510.08 148.06 L510.38 148.06 L510.67 148.06 L510.97 148.06 L511.27 148.06 L511.56 148.05 L511.86 148.05 L512.16 148.05 L512.45 148.05 L512.75 148.05 L513.05 148.05 L513.34 148.05 L513.64 148.05 L513.94 148.05 L514.23 148.05 L514.53 148.05 L514.83 148.05 L515.12 148.05 L515.42 148.05 L515.72 148.05 L516.01 148.05 L516.31 148.05 L516.61 148.05 L516.90 148.05 L517.20 148.05 L517.50 148.04 L517.79 148.04 L518.09 148.04 L518.39 148.04 L518.68 148.04 L518.98 148.04 L519.28 148.04 L519.57 148.04 L519.87 148.04 L520.17 148.04 L520.46 148.04 L520.76 148.04 L521.06 148.04 L521.35 148.04 L521.65 148.04 L521.95 148.03 L522.24 148.03 L522.54 148.03 L522.84 148.03 L523.13 148.03 L523.43 148.03 L523.73 148.03 L524.02 148.03 L524.32 148.03 L524.62 148.03 L524.91 148.03 L525.21 148.03 L525.51 148.02 L525.80 148.02 L526.10 148.02 L526.40 148.02 L526.69 148.02 L526.99 148.02 L527.29 148.02 L527.58 148.02 L527.88 148.02 L528.18 148.01 L528.47 148.01 L528.77 148.01 L529.07 148.01 L529.36 148.01 L529.66 148.01 L529.96 148.01 L530.25 148.01 L530.55 148.00 L530.85 148.00 L531.14 148.00 L531.44 148.00 L531.74 148.00 L532.03 148.00 L532.33 147.99 L532.63 147.99 L532.92 147.99 L533.22 147.99 L533.52 147.99 L533.81 147.98 L534.11 147.98 L534.41 147.98 L534.70 147.98 L535.00 147.97 L535.30 147.97 L535.59 147.97 L535.89 147.97 L536.19 147.96 L536.48 147.96 L536.78 147.96 L537.08 147.95 L537.37 147.95 L537.67 147.95 L537.97 147.94 L538.26 147.94 L538.56 147.93 L538.86 147.93 L539.15 147.93 L539.45 147.92 L539.75 147.92 L540.04 147.91 L540.34 147.91 L540.64 147.90 L540.93 147.89 L541.23 147.89 L541.53 147.88 L541.82 147.87 L542.12 147.87 L542.42 147.86 L542.71 147.85 L543.01 147.84 L543.31 147.84 L543.60 147.83 L543.90 147.82 L544.20 147.81 L544.49 147.80 L544.79 147.79 L545.09 147.77 L545.38 147.76 L545.68 147.75 L545.98 147.74 L546.27 147.72 L546.57 147.71 L546.87 147.69 L547.16 147.67 L547.46 147.66 L547.76 147.64 L548.05 147.62 L548.35 147.60 L548.65 147.58 L548.94 147.55 L549.24 147.53 L549.54 147.50 L549.83 147.47 L550.13 147.45 L550.43 147.41 L550.72 147.38 L551.02 147.35 L551.32 147.31 L551.61 147.27 L551.91 147.23 L552.21 147.19 L552.50 147.14 L552.80 147.09 L553.10 147.04 L553.39 146.99 L553.69 146.93 L553.99 146.87 L554.28 146.81 L554.58 146.74 L554.88 146.66 L555.17 146.59 L555.47 146.50 L555.77 146.42 L556.06 146.33 L556.36 146.23 L556.66 146.12 L556.95 146.01 L557.25 145.90 L557.55 145.77 L557.84 145.64 L558.14 145.50 L558.44 145.35 L558.73 145.19 L559.03 145.03 L559.33 144.85 L559.62 144.66 L559.92 144.46 L560.22 144.25 L560.51 144.02 L560.81 143.78 L561.11 143.53 L561.40 143.26 L561.70 142.97 L562.00 142.66 L562.29 142.34 L562.59 142.00 L562.89 141.63 L563.18 141.24 L563.48 140.83 L563.78 140.39 L564.07 139.93 L564.37 139.44 L564.67 138.92 L564.96 138.37 L565.26 137.78 L565.56 137.16 L565.85 136.50 L566.15 135.81 L566.45 135.07 L566.74 134.30 L567.04 133.48 L567.34 132.61 L567.63 131.70 L567.93 130.74 L568.23 129.73 L568.52 128.67 L568.82 127.57 L569.12 126.41 L569.41 125.20 L569.71 123.95 L570.01 122.64 L570.30 121.30 L570.60 119.91 L570.90 118.49 L571.19 117.05 L571.49 115.58 L571.79 114.10 L572.08 112.62 L572.38 111.16 L572.68 109.72 L572.97 108.32 L573.27 106.98 L573.57 105.71 L573.86 104.54 L574.16 103.48 L574.46 102.55 L574.75 101.76 L575.05 101.13 L575.35 100.67 L575.64 100.39 L575.94 100.30 L576.24 100.38 L576.53 100.61 L576.83 101.00 L577.13 101.53 L577.42 102.20 L577.72 103.00 L578.02 103.91 L578.31 104.92 L578.61 106.02 L578.91 107.19 L579.20 108.43 L579.50 109.71 L579.80 111.02 L580.09 112.36 L580.39 113.71 L580.69 115.06 L580.98 116.40 L581.28 117.73 L581.58 119.04 L581.87 120.32 L582.17 121.57 L582.47 122.79 L582.76 123.97 L583.06 125.11 L583.36 126.21 L583.65 127.27 L583.95 128.29 L584.25 129.26 L584.54 130.20 L584.84 131.09 L585.14 131.94 L585.43 132.76 L585.73 133.53 L586.03 134.27 L586.32 134.97 L586.62 135.64 L586.92 136.28 L587.21 136.88 L587.51 137.45 L587.81 137.99 L588.10 138.51 L588.40 139.00 L588.70 139.46 L588.99 139.90 L589.29 140.32 L589.59 140.71 L589.88 141.08 L590.18 141.44 L590.48 141.77 L590.77 142.09 L591.07 142.39 L591.37 142.68 L591.66 142.95 L591.96 143.20 L592.26 143.44 L592.55 143.67 L592.85 143.89 L593.15 144.10 L593.44 144.29 L593.74 144.47 L594.04 144.65 L594.33 144.81 L594.63 144.97 L594.93 145.12 L595.22 145.26 L595.52 145.39 L595.82 145.52 L596.11 145.64 L596.41 145.75 L596.71 145.86 L597.00 145.96 L597.30 146.06 L597.60 146.15 L597.89 146.24 L598.19 146.32 L598.49 146.40 L598.78 146.48 L599.08 146.55 L599.38 146.61 L599.67 146.68 L599.97 146.74 L600.27 146.80 L600.56 146.85 L600.86 146.90 L601.16 146.95 L601.45 147.00 L601.75 147.04 L602.05 147.08 L602.34 147.12 L602.64 147.16 L602.94 147.20 L603.23 147.23 L603.53 147.27 L603.83 147.30 L604.12 147.33 L604.42 147.36 L604.72 147.38 L605.01 147.41 L605.31 147.43 L605.61 147.46 L605.90 147.48 L606.20 147.50 L606.50 147.52 L606.79 147.54 L607.09 147.56 L607.39 147.57 L607.68 147.59 L607.98 147.61 L608.28 147.62 L608.57 147.64 L608.87 147.65 L609.17 147.66 L609.46 147.68 L609.76 147.69 L610.06 147.70 L610.35 147.71 L610.65 147.72 L610.95 147.73 L611.24 147.74 L611.54 147.75 L611.84 147.76 L612.13 147.77 L612.43 147.78 L612.73 147.79 L613.02 147.79 L613.32 147.80 L613.62 147.81 L613.91 147.82 L614.21 147.82 L614.51 147.83 L614.80 147.83 L615.10 147.84 L615.40 147.85 L615.69 147.85 L615.99 147.86 L616.29 147.86 L616.58 147.87 L616.88 147.87 L617.18 147.88 L617.47 147.88 L617.77 147.88 L618.07 147.89 L618.36 147.89 L618.66 147.90 L618.96 147.90 L619.25 147.90 L619.55 147.91 L619.85 147.91 L620.14 147.91 L620.44 147.92 L620.74 147.92 L621.03 147.92 L621.33 147.93 L621.63 147.93 L621.92 147.93 L622.22 147.93 L622.52 147.94 L622.81 147.94 L623.11 147.94 L623.41 147.94 L623.70 147.95 L624.00 147.95 L624.30 147.95 L624.59 147.95 L624.89 147.95 L625.19 147.96 L625.48 147.96 L625.78 147.96 L626.08 147.96 L626.37 147.96 L626.67 147.97 L626.97 147.97 L627.26 147.97 L627.56 147.97 L627.86 147.97 L628.15 147.97 L628.45 147.98 L628.75 147.98 L629.04 147.98 L629.34 147.98 L629.64 147.98 L629.93 147.98 L630.23 147.98 L630.53 147.99 L630.82 147.99 L631.12 147.99 L631.42 147.99 L631.71 147.99 L632.01 147.99 L632.31 147.99 L632.60 147.99 L632.90 148.00 L633.20 148.00 L633.49 148.00 L633.79 148.00 L634.09 148.00 L634.38 148.00 L634.68 148.00 L634.98 148.00 L635.27 148.00 L635.57 148.00 L635.87 148.01 L636.16 148.01 L636.46 148.01 L636.76 148.01 L637.05 148.01 L637.35 148.01 L637.65 148.01 L637.94 148.01 L638.24 148.01 L638.54 148.01 L638.83 148.01 L639.13 148.02 L639.43 148.02 L639.72 148.02 L640.02 148.02 L640.32 148.02 L640.61 148.02 L640.91 148.02 L641.21 148.02 L641.50 148.02 L641.80 148.02 L642.10 148.02 L642.39 148.02 L642.69 148.02 L642.99 148.03 L643.28 148.03 L643.58 148.03 L643.88 148.03 L644.17 148.03 L644.47 148.03 L644.77 148.03 L645.06 148.03 L645.36 148.03 L645.66 148.03 L645.95 148.03 L646.25 148.03 L646.55 148.03 L646.84 148.03 L647.14 148.03 L647.44 148.03 L647.73 148.03 L648.03 148.04 L648.33 148.04 L648.62 148.04 L648.92 148.04 L649.22 148.04 L649.51 148.04 L649.81 148.04 L650.11 148.04 L650.40 148.04 L650.70 148.04 L651.00 148.04 L651.29 148.04 L651.59 148.04 L651.89 148.04 L652.18 148.04 L652.48 148.04 L652.78 148.04 L653.07 148.04 L653.37 148.04 L653.67 148.04 L653.96 148.04 L654.26 148.05 L654.56 148.05 L654.85 148.05 L655.15 148.05 L655.45 148.05 L655.74 148.05 L656.04 148.05 L656.34 148.05 L656.63 148.05 L656.93 148.05 L657.23 148.05 L657.52 148.05 L657.82 148.05 L658.12 148.05 L658.41 148.05 L658.71 148.05 L659.01 148.05 L659.30 148.05 L659.60 148.05 L659.90 148.05 L660.19 148.05 L660.49 148.05 L660.79 148.05 L661.08 148.05 L661.38 148.05 L661.68 148.05 L661.97 148.05 L662.27 148.05 L662.57 148.06 L662.86 148.06 L663.16 148.06 L663.46 148.06 L663.75 148.06 L664.05 148.06 L664.35 148.06 L664.64 148.06 L664.94 148.06 L665.24 148.06 L665.53 148.06 L665.83 148.06 L666.13 148.06 L666.42 148.06 L666.72 148.06 L667.02 148.06 L667.31 148.06 L667.61 148.06 L667.91 148.06 L668.20 148.06 L668.50 148.06 L668.80 148.06 L669.09 148.06 L669.39 148.06 L669.69 148.06 L669.98 148.06 L670.28 148.06 L670.58 148.06 L670.87 148.06 L671.17 148.06 L671.47 148.06 L671.76 148.06 L672.06 148.06 L672.36 148.06 L672.65 148.06 L672.95 148.06 L673.25 148.06 L673.54 148.06 L673.84 148.06 L674.14 148.06 L674.43 148.07 L674.73 148.07 L675.03 148.07 L675.32 148.07 L675.62 148.07 L675.92 148.07 L676.21 148.07 L676.51 148.07 L676.81 148.07 L677.10 148.07 L677.40 148.07" fill="none" stroke="#55bc52" stroke-width="1.3"/>
<line x1="577.13" y1="29" x2="577.13" y2="42" stroke="#555" stroke-width="1" stroke-dasharray="1.2,1.1"/>
<line x1="575.94" y1="94.6" x2="575.94" y2="107.7" stroke="#555" stroke-width="1" stroke-dasharray="1.2,1.1"/>
<text x="581.40" y="36.10" font-size="8.7" text-anchor="start" fill="#1a1a1a" >531 nm</text>
<text x="579.00" y="99.60" font-size="8.7" text-anchor="start" fill="#1a1a1a" >529 nm</text>
<line x1="562.90" y1="57.60" x2="569.60" y2="57.60" stroke="#1a1a1a" stroke-width="0.8"/>
<path d="M569.60 57.60L567.00 56.20L567.00 59.00Z" fill="#1a1a1a"/>
<line x1="591.60" y1="57.60" x2="584.90" y2="57.60" stroke="#1a1a1a" stroke-width="0.8"/>
<path d="M584.90 57.60L587.50 56.20L587.50 59.00Z" fill="#1a1a1a"/>
<text x="593.40" y="60.60" font-size="8.7" text-anchor="start" fill="#1a1a1a" >22 nm</text>
<line x1="561.70" y1="124.40" x2="568.20" y2="124.40" stroke="#1a1a1a" stroke-width="0.8"/>
<path d="M568.20 124.40L565.60 123.00L565.60 125.80Z" fill="#1a1a1a"/>
<line x1="590.40" y1="124.40" x2="583.90" y2="124.40" stroke="#1a1a1a" stroke-width="0.8"/>
<path d="M583.90 124.40L586.50 123.00L586.50 125.80Z" fill="#1a1a1a"/>
<text x="591.80" y="127.50" font-size="8.7" text-anchor="start" fill="#1a1a1a" >22 nm</text>
<polyline points="621.90,20.30 641.60,20.30" fill="none" stroke="#2b7148" stroke-width="1.6" stroke-linejoin="round" stroke-linecap="round" />
<polyline points="621.90,31.00 641.60,31.00" fill="none" stroke="#55bc52" stroke-width="1.6" stroke-linejoin="round" stroke-linecap="round" />
<text x="646.50" y="23.30" font-size="8.7" text-anchor="start" fill="#1a1a1a" >Pristine</text>
<text x="646.50" y="34.20" font-size="8.7" text-anchor="start" fill="#1a1a1a" >Target</text>
<text x="-0.6" y="212.9" font-size="15" font-weight="bold" fill="#000">d</text>
<line x1="44.23" y1="355.10" x2="44.23" y2="353.80" stroke="#1a1a1a" stroke-width="0.9"/>
<line x1="47.04" y1="355.10" x2="47.04" y2="353.80" stroke="#1a1a1a" stroke-width="0.9"/>
<line x1="49.41" y1="355.10" x2="49.41" y2="353.80" stroke="#1a1a1a" stroke-width="0.9"/>
<line x1="51.46" y1="355.10" x2="51.46" y2="353.80" stroke="#1a1a1a" stroke-width="0.9"/>
<line x1="53.28" y1="355.10" x2="53.28" y2="353.80" stroke="#1a1a1a" stroke-width="0.9"/>
<line x1="54.90" y1="355.10" x2="54.90" y2="352.50" stroke="#1a1a1a" stroke-width="0.9"/>
<line x1="65.57" y1="355.10" x2="65.57" y2="353.80" stroke="#1a1a1a" stroke-width="0.9"/>
<line x1="71.81" y1="355.10" x2="71.81" y2="353.80" stroke="#1a1a1a" stroke-width="0.9"/>
<line x1="76.24" y1="355.10" x2="76.24" y2="353.80" stroke="#1a1a1a" stroke-width="0.9"/>
<line x1="79.68" y1="355.10" x2="79.68" y2="353.80" stroke="#1a1a1a" stroke-width="0.9"/>
<line x1="82.49" y1="355.10" x2="82.49" y2="353.80" stroke="#1a1a1a" stroke-width="0.9"/>
<line x1="84.86" y1="355.10" x2="84.86" y2="353.80" stroke="#1a1a1a" stroke-width="0.9"/>
<line x1="86.91" y1="355.10" x2="86.91" y2="353.80" stroke="#1a1a1a" stroke-width="0.9"/>
<line x1="88.73" y1="355.10" x2="88.73" y2="353.80" stroke="#1a1a1a" stroke-width="0.9"/>
<line x1="90.35" y1="355.10" x2="90.35" y2="352.50" stroke="#1a1a1a" stroke-width="0.9"/>
<line x1="101.02" y1="355.10" x2="101.02" y2="353.80" stroke="#1a1a1a" stroke-width="0.9"/>
<line x1="107.26" y1="355.10" x2="107.26" y2="353.80" stroke="#1a1a1a" stroke-width="0.9"/>
<line x1="111.69" y1="355.10" x2="111.69" y2="353.80" stroke="#1a1a1a" stroke-width="0.9"/>
<line x1="115.13" y1="355.10" x2="115.13" y2="353.80" stroke="#1a1a1a" stroke-width="0.9"/>
<line x1="117.94" y1="355.10" x2="117.94" y2="353.80" stroke="#1a1a1a" stroke-width="0.9"/>
<line x1="120.31" y1="355.10" x2="120.31" y2="353.80" stroke="#1a1a1a" stroke-width="0.9"/>
<line x1="122.36" y1="355.10" x2="122.36" y2="353.80" stroke="#1a1a1a" stroke-width="0.9"/>
<line x1="124.18" y1="355.10" x2="124.18" y2="353.80" stroke="#1a1a1a" stroke-width="0.9"/>
<line x1="125.80" y1="355.10" x2="125.80" y2="352.50" stroke="#1a1a1a" stroke-width="0.9"/>
<line x1="136.47" y1="355.10" x2="136.47" y2="353.80" stroke="#1a1a1a" stroke-width="0.9"/>
<line x1="142.71" y1="355.10" x2="142.71" y2="353.80" stroke="#1a1a1a" stroke-width="0.9"/>
<line x1="147.14" y1="355.10" x2="147.14" y2="353.80" stroke="#1a1a1a" stroke-width="0.9"/>
<line x1="150.58" y1="355.10" x2="150.58" y2="353.80" stroke="#1a1a1a" stroke-width="0.9"/>
<line x1="153.39" y1="355.10" x2="153.39" y2="353.80" stroke="#1a1a1a" stroke-width="0.9"/>
<line x1="155.76" y1="355.10" x2="155.76" y2="353.80" stroke="#1a1a1a" stroke-width="0.9"/>
<line x1="157.81" y1="355.10" x2="157.81" y2="353.80" stroke="#1a1a1a" stroke-width="0.9"/>
<line x1="159.63" y1="355.10" x2="159.63" y2="353.80" stroke="#1a1a1a" stroke-width="0.9"/>
<line x1="161.25" y1="355.10" x2="161.25" y2="352.50" stroke="#1a1a1a" stroke-width="0.9"/>
<line x1="171.92" y1="355.10" x2="171.92" y2="353.80" stroke="#1a1a1a" stroke-width="0.9"/>
<line x1="178.16" y1="355.10" x2="178.16" y2="353.80" stroke="#1a1a1a" stroke-width="0.9"/>
<line x1="182.59" y1="355.10" x2="182.59" y2="353.80" stroke="#1a1a1a" stroke-width="0.9"/>
<line x1="186.03" y1="355.10" x2="186.03" y2="353.80" stroke="#1a1a1a" stroke-width="0.9"/>
<line x1="188.84" y1="355.10" x2="188.84" y2="353.80" stroke="#1a1a1a" stroke-width="0.9"/>
<line x1="191.21" y1="355.10" x2="191.21" y2="353.80" stroke="#1a1a1a" stroke-width="0.9"/>
<line x1="193.26" y1="355.10" x2="193.26" y2="353.80" stroke="#1a1a1a" stroke-width="0.9"/>
<line x1="195.08" y1="355.10" x2="195.08" y2="353.80" stroke="#1a1a1a" stroke-width="0.9"/>
<line x1="196.70" y1="355.10" x2="196.70" y2="352.50" stroke="#1a1a1a" stroke-width="0.9"/>
<line x1="207.37" y1="355.10" x2="207.37" y2="353.80" stroke="#1a1a1a" stroke-width="0.9"/>
<line x1="213.61" y1="355.10" x2="213.61" y2="353.80" stroke="#1a1a1a" stroke-width="0.9"/>
<line x1="218.04" y1="355.10" x2="218.04" y2="353.80" stroke="#1a1a1a" stroke-width="0.9"/>
<line x1="44.10" y1="340.80" x2="45.40" y2="340.80" stroke="#1a1a1a" stroke-width="0.9"/>
<line x1="44.10" y1="332.44" x2="45.40" y2="332.44" stroke="#1a1a1a" stroke-width="0.9"/>
<line x1="44.10" y1="326.50" x2="45.40" y2="326.50" stroke="#1a1a1a" stroke-width="0.9"/>
<line x1="44.10" y1="321.90" x2="45.40" y2="321.90" stroke="#1a1a1a" stroke-width="0.9"/>
<line x1="44.10" y1="318.14" x2="45.40" y2="318.14" stroke="#1a1a1a" stroke-width="0.9"/>
<line x1="44.10" y1="314.96" x2="45.40" y2="314.96" stroke="#1a1a1a" stroke-width="0.9"/>
<line x1="44.10" y1="312.20" x2="45.40" y2="312.20" stroke="#1a1a1a" stroke-width="0.9"/>
<line x1="44.10" y1="309.77" x2="45.40" y2="309.77" stroke="#1a1a1a" stroke-width="0.9"/>
<line x1="44.10" y1="307.60" x2="46.70" y2="307.60" stroke="#1a1a1a" stroke-width="0.9"/>
<line x1="44.10" y1="293.30" x2="45.40" y2="293.30" stroke="#1a1a1a" stroke-width="0.9"/>
<line x1="44.10" y1="284.94" x2="45.40" y2="284.94" stroke="#1a1a1a" stroke-width="0.9"/>
<line x1="44.10" y1="279.00" x2="45.40" y2="279.00" stroke="#1a1a1a" stroke-width="0.9"/>
<line x1="44.10" y1="274.40" x2="45.40" y2="274.40" stroke="#1a1a1a" stroke-width="0.9"/>
<line x1="44.10" y1="270.64" x2="45.40" y2="270.64" stroke="#1a1a1a" stroke-width="0.9"/>
<line x1="44.10" y1="267.46" x2="45.40" y2="267.46" stroke="#1a1a1a" stroke-width="0.9"/>
<line x1="44.10" y1="264.70" x2="45.40" y2="264.70" stroke="#1a1a1a" stroke-width="0.9"/>
<line x1="44.10" y1="262.27" x2="45.40" y2="262.27" stroke="#1a1a1a" stroke-width="0.9"/>
<line x1="44.10" y1="260.10" x2="46.70" y2="260.10" stroke="#1a1a1a" stroke-width="0.9"/>
<line x1="44.10" y1="245.80" x2="45.40" y2="245.80" stroke="#1a1a1a" stroke-width="0.9"/>
<line x1="44.10" y1="237.44" x2="45.40" y2="237.44" stroke="#1a1a1a" stroke-width="0.9"/>
<line x1="44.10" y1="231.50" x2="45.40" y2="231.50" stroke="#1a1a1a" stroke-width="0.9"/>
<line x1="44.10" y1="226.90" x2="45.40" y2="226.90" stroke="#1a1a1a" stroke-width="0.9"/>
<line x1="44.10" y1="223.14" x2="45.40" y2="223.14" stroke="#1a1a1a" stroke-width="0.9"/>
<line x1="44.10" y1="219.96" x2="45.40" y2="219.96" stroke="#1a1a1a" stroke-width="0.9"/>
<line x1="44.10" y1="217.20" x2="45.40" y2="217.20" stroke="#1a1a1a" stroke-width="0.9"/>
<line x1="44.10" y1="214.77" x2="45.40" y2="214.77" stroke="#1a1a1a" stroke-width="0.9"/>
<rect x="44.1" y="212.6" width="177.30" height="142.50" fill="none" stroke="#222" stroke-width="1.3"/>
<text x="54.90" y="369.00" font-size="10.0" text-anchor="middle" fill="#1a1a1a" >10<tspan font-size="6.4" dy="-3.6" dx="-0.6">−2</tspan></text>
<text x="90.35" y="369.00" font-size="10.0" text-anchor="middle" fill="#1a1a1a" >10<tspan font-size="6.4" dy="-3.6" dx="-0.6">−1</tspan></text>
<text x="125.80" y="369.00" font-size="10.0" text-anchor="middle" fill="#1a1a1a" >10<tspan font-size="6.4" dy="-3.6" dx="-0.6">0</tspan></text>
<text x="161.25" y="369.00" font-size="10.0" text-anchor="middle" fill="#1a1a1a" >10<tspan font-size="6.4" dy="-3.6" dx="-0.6">1</tspan></text>
<text x="196.70" y="369.00" font-size="10.0" text-anchor="middle" fill="#1a1a1a" >10<tspan font-size="6.4" dy="-3.6" dx="-0.6">2</tspan></text>
<text x="39.60" y="218.20" font-size="10.0" text-anchor="end" fill="#1a1a1a" >10<tspan font-size="7.6" dy="-4.4" dx="-0.9">2</tspan></text>
<text x="39.60" y="265.70" font-size="10.0" text-anchor="end" fill="#1a1a1a" >10<tspan font-size="7.6" dy="-4.4" dx="-0.9">1</tspan></text>
<text x="39.60" y="313.20" font-size="10.0" text-anchor="end" fill="#1a1a1a" >10<tspan font-size="7.6" dy="-4.4" dx="-0.9">0</tspan></text>
<text x="39.60" y="360.70" font-size="10.0" text-anchor="end" fill="#1a1a1a" >10<tspan font-size="7.6" dy="-4.4" dx="-0.9">−1</tspan></text>
<text x="132.75" y="386.30" font-size="10.2" text-anchor="middle" fill="#1a1a1a" >Current density (mA cm<tspan font-size="7.2" dy="-4.2" dx="0">−2</tspan><tspan dy="4.2">)</tspan></text>
<text transform="translate(13.8,283.9) rotate(-90)" font-size="10.2" text-anchor="middle" fill="#1a1a1a">EQE (%)</text>
<polyline points="61.10,282.00 63.59,280.07 66.11,278.06 68.63,275.99 71.16,273.90 73.69,271.81 76.21,269.75 78.72,267.74 81.21,265.81 83.68,263.98 86.13,262.29 88.53,260.75 90.90,259.40 92.68,258.49 94.44,257.67 96.20,256.92 97.95,256.24 99.68,255.62 101.40,255.05 103.10,254.54 104.78,254.06 106.45,253.61 108.09,253.19 109.71,252.79 111.30,252.40 112.61,252.10 113.90,251.84 115.18,251.61 116.44,251.41 117.70,251.23 118.93,251.07 120.16,250.92 121.37,250.78 122.57,250.64 123.76,250.50 124.93,250.36 126.10,250.20 127.13,250.05 128.15,249.89 129.15,249.74 130.15,249.58 131.14,249.42 132.12,249.27 133.09,249.13 134.06,248.99 135.01,248.87 135.95,248.76 136.88,248.67 137.80,248.60 138.60,248.55 139.39,248.52 140.17,248.51 140.94,248.50 141.70,248.51 142.46,248.52 143.21,248.53 143.95,248.55 144.69,248.57 145.43,248.58 146.17,248.60 146.90,248.60 147.59,248.60 148.27,248.59 148.95,248.58 149.63,248.57 150.31,248.55 150.98,248.54 151.65,248.53 152.31,248.53 152.97,248.54 153.62,248.55 154.26,248.57 154.90,248.60 155.47,248.64 156.04,248.69 156.61,248.75 157.16,248.81 157.72,248.88 158.27,248.96 158.81,249.03 159.36,249.11 159.90,249.19 160.43,249.26 160.97,249.33 161.50,249.40 162.00,249.46 162.49,249.51 162.99,249.56 163.48,249.62 163.96,249.67 164.45,249.72 164.93,249.77 165.41,249.83 165.89,249.89 166.36,249.95 166.83,250.02 167.30,250.10 167.74,250.18 168.17,250.27 168.61,250.36 169.04,250.46 169.46,250.57 169.89,250.67 170.31,250.78 170.73,250.88 171.15,250.99 171.57,251.10 171.98,251.20 172.40,251.30 172.80,251.39 173.20,251.48 173.59,251.57 173.99,251.65 174.38,251.74 174.78,251.83 175.17,251.91 175.56,252.00 175.94,252.10 176.33,252.19 176.72,252.29 177.10,252.40 177.47,252.51 177.85,252.63 178.22,252.74 178.59,252.87 178.96,252.99 179.32,253.12 179.69,253.25 180.05,253.38 180.42,253.51 180.78,253.64 181.14,253.77 181.50,253.90 181.85,254.02 182.20,254.15 182.54,254.27 182.89,254.40 183.23,254.52 183.58,254.65 183.92,254.77 184.26,254.90 184.60,255.02 184.93,255.15 185.27,255.28 185.60,255.40 185.91,255.52 186.21,255.63 186.52,255.75 186.82,255.86 187.12,255.98 187.41,256.10 187.71,256.21 188.01,256.33 188.30,256.44 188.60,256.56 188.90,256.68 189.20,256.80 189.51,256.92 189.82,257.04 190.13,257.16 190.44,257.28 190.75,257.40 191.06,257.52 191.37,257.64 191.68,257.76 191.98,257.89 192.29,258.02 192.60,258.16 192.90,258.30 193.21,258.45 193.51,258.61 193.82,258.77 194.12,258.93 194.42,259.10 194.72,259.27 195.03,259.44 195.32,259.62 195.62,259.79 195.92,259.96 196.21,260.13 196.50,260.30 196.77,260.46 197.05,260.62 197.32,260.77 197.59,260.93 197.86,261.09 198.12,261.25 198.39,261.41 198.65,261.56 198.91,261.72 199.18,261.88 199.44,262.04 199.70,262.20 199.96,262.36 200.21,262.51 200.46,262.66 200.72,262.81 200.97,262.96 201.22,263.12 201.47,263.27 201.72,263.43 201.97,263.59 202.21,263.75 202.46,263.92 202.70,264.10 202.95,264.29 203.20,264.49 203.44,264.69 203.69,264.90 203.93,265.11 204.17,265.33 204.41,265.54 204.65,265.76 204.89,265.97 205.13,266.19 205.36,266.40 205.60,266.60 205.82,266.79 206.05,266.97 206.27,267.15 206.49,267.33 206.72,267.51 206.94,267.68 207.16,267.86 207.37,268.04 207.59,268.22 207.80,268.41 208.00,268.60 208.20,268.80 208.40,269.00 208.59,269.20 208.79,269.41 208.99,269.61 209.18,269.82 209.37,270.03 209.55,270.25 209.72,270.47 209.88,270.70 210.04,270.93 210.18,271.16 210.30,271.40 210.41,271.64 210.50,271.90 210.57,272.16 210.63,272.42 210.69,272.69 210.74,272.96 210.78,273.24 210.82,273.51 210.86,273.79 210.90,274.06 210.95,274.33 211.00,274.60" fill="none" stroke="#2b7148" stroke-width="1.0" stroke-linejoin="round" stroke-linecap="round" />
<polyline points="54.10,257.70 57.05,257.00 60.04,256.28 63.04,255.55 66.06,254.81 69.08,254.08 72.08,253.34 75.07,252.63 78.02,251.92 80.93,251.24 83.79,250.59 86.58,249.98 89.30,249.40 91.51,248.95 93.70,248.51 95.85,248.10 97.98,247.69 100.08,247.31 102.15,246.94 104.19,246.58 106.19,246.24 108.17,245.91 110.11,245.60 112.02,245.29 113.90,245.00 115.42,244.77 116.92,244.54 118.39,244.33 119.84,244.12 121.27,243.93 122.68,243.74 124.07,243.56 125.45,243.39 126.80,243.23 128.15,243.08 129.48,242.94 130.80,242.80 131.94,242.69 133.07,242.58 134.18,242.47 135.28,242.37 136.37,242.27 137.45,242.19 138.52,242.11 139.58,242.04 140.63,241.99 141.66,241.94 142.69,241.91 143.70,241.90 144.59,241.90 145.47,241.93 146.35,241.96 147.22,242.01 148.07,242.07 148.92,242.13 149.76,242.20 150.59,242.27 151.41,242.34 152.22,242.40 153.02,242.46 153.80,242.50 154.46,242.53 155.11,242.56 155.74,242.58 156.37,242.60 156.99,242.62 157.61,242.64 158.21,242.66 158.82,242.68 159.42,242.70 160.01,242.73 160.61,242.76 161.20,242.80 161.75,242.84 162.30,242.88 162.84,242.92 163.39,242.96 163.92,243.01 164.46,243.06 164.99,243.11 165.52,243.16 166.04,243.22 166.57,243.28 167.08,243.34 167.60,243.40 168.08,243.46 168.56,243.53 169.04,243.60 169.51,243.67 169.99,243.74 170.45,243.81 170.92,243.89 171.38,243.97 171.84,244.05 172.30,244.13 172.75,244.21 173.20,244.30 173.62,244.38 174.03,244.46 174.44,244.55 174.84,244.63 175.25,244.72 175.65,244.80 176.05,244.89 176.44,244.99 176.84,245.08 177.23,245.19 177.62,245.29 178.00,245.40 178.36,245.51 178.72,245.63 179.08,245.75 179.43,245.88 179.78,246.01 180.13,246.14 180.48,246.27 180.83,246.40 181.17,246.53 181.51,246.66 181.86,246.78 182.20,246.90 182.52,247.01 182.84,247.11 183.17,247.22 183.48,247.32 183.80,247.42 184.12,247.52 184.44,247.61 184.75,247.71 185.06,247.81 185.38,247.91 185.69,248.00 186.00,248.10 186.30,248.19 186.59,248.28 186.89,248.37 187.18,248.46 187.47,248.54 187.77,248.63 188.06,248.72 188.35,248.81 188.64,248.90 188.93,248.99 189.21,249.09 189.50,249.20 189.79,249.31 190.08,249.43 190.36,249.54 190.65,249.67 190.93,249.79 191.22,249.92 191.50,250.05 191.78,250.18 192.06,250.31 192.34,250.44 192.62,250.57 192.90,250.70 193.17,250.83 193.44,250.96 193.71,251.09 193.98,251.22 194.25,251.35 194.52,251.49 194.79,251.62 195.05,251.76 195.32,251.89 195.58,252.03 195.84,252.16 196.10,252.30 196.35,252.43 196.59,252.56 196.84,252.69 197.08,252.82 197.33,252.95 197.57,253.08 197.81,253.21 198.05,253.34 198.29,253.48 198.52,253.61 198.76,253.75 199.00,253.90 199.25,254.05 199.49,254.21 199.73,254.38 199.98,254.54 200.22,254.71 200.46,254.88 200.70,255.05 200.95,255.22 201.19,255.39 201.42,255.56 201.66,255.73 201.90,255.90 202.13,256.06 202.36,256.22 202.59,256.37 202.82,256.52 203.05,256.68 203.27,256.83 203.50,256.99 203.72,257.14 203.95,257.30 204.17,257.47 204.39,257.63 204.60,257.80 204.81,257.97 205.02,258.14 205.22,258.32 205.43,258.50 205.63,258.68 205.82,258.86 206.02,259.04 206.22,259.23 206.41,259.42 206.61,259.61 206.81,259.80 207.00,260.00 207.21,260.21 207.41,260.42 207.62,260.64 207.82,260.86 208.03,261.09 208.23,261.31 208.43,261.54 208.63,261.77 208.83,262.00 209.02,262.23 209.21,262.47 209.40,262.70 209.58,262.93 209.76,263.17 209.93,263.41 210.11,263.65 210.28,263.89 210.45,264.13 210.61,264.37 210.77,264.62 210.93,264.86 211.09,265.11 211.25,265.35 211.40,265.60 211.55,265.84 211.69,266.08 211.82,266.32 211.96,266.56 212.09,266.80 212.22,267.04 212.35,267.29 212.48,267.53 212.61,267.77 212.74,268.02 212.87,268.26 213.00,268.50" fill="none" stroke="#55bc52" stroke-width="1.0" stroke-linejoin="round" stroke-linecap="round" />
<path d="M61.10 279.80L63.30 282.00L61.10 284.20L58.90 282.00Z" fill="white" stroke="#2b7148" stroke-width="1.3"/>
<path d="M90.60 255.90L92.80 258.10L90.60 260.30L88.40 258.10Z" fill="white" stroke="#2b7148" stroke-width="1.3"/>
<path d="M111.30 250.20L113.50 252.40L111.30 254.60L109.10 252.40Z" fill="white" stroke="#2b7148" stroke-width="1.3"/>
<path d="M126.10 248.00L128.30 250.20L126.10 252.40L123.90 250.20Z" fill="white" stroke="#2b7148" stroke-width="1.3"/>
<path d="M137.80 246.40L140.00 248.60L137.80 250.80L135.60 248.60Z" fill="white" stroke="#2b7148" stroke-width="1.3"/>
<path d="M146.90 246.40L149.10 248.60L146.90 250.80L144.70 248.60Z" fill="white" stroke="#2b7148" stroke-width="1.3"/>
<path d="M154.90 246.40L157.10 248.60L154.90 250.80L152.70 248.60Z" fill="white" stroke="#2b7148" stroke-width="1.3"/>
<path d="M161.50 247.20L163.70 249.40L161.50 251.60L159.30 249.40Z" fill="white" stroke="#2b7148" stroke-width="1.3"/>
<path d="M167.30 247.90L169.50 250.10L167.30 252.30L165.10 250.10Z" fill="white" stroke="#2b7148" stroke-width="1.3"/>
<path d="M172.40 249.10L174.60 251.30L172.40 253.50L170.20 251.30Z" fill="white" stroke="#2b7148" stroke-width="1.3"/>
<path d="M177.10 250.20L179.30 252.40L177.10 254.60L174.90 252.40Z" fill="white" stroke="#2b7148" stroke-width="1.3"/>
<path d="M181.50 251.70L183.70 253.90L181.50 256.10L179.30 253.90Z" fill="white" stroke="#2b7148" stroke-width="1.3"/>
<path d="M185.60 253.20L187.80 255.40L185.60 257.60L183.40 255.40Z" fill="white" stroke="#2b7148" stroke-width="1.3"/>
<path d="M189.20 254.60L191.40 256.80L189.20 259.00L187.00 256.80Z" fill="white" stroke="#2b7148" stroke-width="1.3"/>
<path d="M192.90 256.10L195.10 258.30L192.90 260.50L190.70 258.30Z" fill="white" stroke="#2b7148" stroke-width="1.3"/>
<path d="M196.50 258.10L198.70 260.30L196.50 262.50L194.30 260.30Z" fill="white" stroke="#2b7148" stroke-width="1.3"/>
<path d="M199.70 260.00L201.90 262.20L199.70 264.40L197.50 262.20Z" fill="white" stroke="#2b7148" stroke-width="1.3"/>
<path d="M202.70 261.90L204.90 264.10L202.70 266.30L200.50 264.10Z" fill="white" stroke="#2b7148" stroke-width="1.3"/>
<path d="M205.60 264.40L207.80 266.60L205.60 268.80L203.40 266.60Z" fill="white" stroke="#2b7148" stroke-width="1.3"/>
<path d="M208.20 266.60L210.40 268.80L208.20 271.00L206.00 268.80Z" fill="white" stroke="#2b7148" stroke-width="1.3"/>
<path d="M210.30 269.20L212.50 271.40L210.30 273.60L208.10 271.40Z" fill="white" stroke="#2b7148" stroke-width="1.3"/>
<path d="M211.00 272.40L213.20 274.60L211.00 276.80L208.80 274.60Z" fill="white" stroke="#2b7148" stroke-width="1.3"/>
<circle cx="54.10" cy="257.70" r="1.6" fill="white" stroke="#55bc52" stroke-width="1.3"/>
<circle cx="89.30" cy="249.40" r="1.6" fill="white" stroke="#55bc52" stroke-width="1.3"/>
<circle cx="113.90" cy="245.00" r="1.6" fill="white" stroke="#55bc52" stroke-width="1.3"/>
<circle cx="130.80" cy="242.80" r="1.6" fill="white" stroke="#55bc52" stroke-width="1.3"/>
<circle cx="143.70" cy="241.90" r="1.6" fill="white" stroke="#55bc52" stroke-width="1.3"/>
<circle cx="153.80" cy="242.50" r="1.6" fill="white" stroke="#55bc52" stroke-width="1.3"/>
<circle cx="161.20" cy="242.80" r="1.6" fill="white" stroke="#55bc52" stroke-width="1.3"/>
<circle cx="167.60" cy="243.40" r="1.6" fill="white" stroke="#55bc52" stroke-width="1.3"/>
<circle cx="173.20" cy="244.30" r="1.6" fill="white" stroke="#55bc52" stroke-width="1.3"/>
<circle cx="178.00" cy="245.40" r="1.6" fill="white" stroke="#55bc52" stroke-width="1.3"/>
<circle cx="182.20" cy="246.90" r="1.6" fill="white" stroke="#55bc52" stroke-width="1.3"/>
<circle cx="186.00" cy="248.10" r="1.6" fill="white" stroke="#55bc52" stroke-width="1.3"/>
<circle cx="189.50" cy="249.20" r="1.6" fill="white" stroke="#55bc52" stroke-width="1.3"/>
<circle cx="192.90" cy="250.70" r="1.6" fill="white" stroke="#55bc52" stroke-width="1.3"/>
<circle cx="196.10" cy="252.30" r="1.6" fill="white" stroke="#55bc52" stroke-width="1.3"/>
<circle cx="199.00" cy="253.90" r="1.6" fill="white" stroke="#55bc52" stroke-width="1.3"/>
<circle cx="201.90" cy="255.90" r="1.6" fill="white" stroke="#55bc52" stroke-width="1.3"/>
<circle cx="204.60" cy="257.80" r="1.6" fill="white" stroke="#55bc52" stroke-width="1.3"/>
<circle cx="207.00" cy="260.00" r="1.6" fill="white" stroke="#55bc52" stroke-width="1.3"/>
<circle cx="209.40" cy="262.70" r="1.6" fill="white" stroke="#55bc52" stroke-width="1.3"/>
<circle cx="211.40" cy="265.60" r="1.6" fill="white" stroke="#55bc52" stroke-width="1.3"/>
<circle cx="213.00" cy="268.50" r="1.6" fill="white" stroke="#55bc52" stroke-width="1.3"/>
<text x="136.40" y="234.50" font-size="8.7" text-anchor="start" fill="#1a1a1a" >23.9%</text>
<text x="132.00" y="263.70" font-size="8.7" text-anchor="start" fill="#1a1a1a" >17.0%</text>
<polyline points="56.90,330.00 76.20,330.00" fill="none" stroke="#2b7148" stroke-width="1.0" stroke-linejoin="round" stroke-linecap="round" />
<path d="M66.60 327.80L68.80 330.00L66.60 332.20L64.40 330.00Z" fill="white" stroke="#2b7148" stroke-width="1.3"/>
<text x="80.90" y="332.70" font-size="8.7" text-anchor="start" fill="#1a1a1a" >Pristine</text>
<polyline points="56.90,340.80 76.20,340.80" fill="none" stroke="#55bc52" stroke-width="1.0" stroke-linejoin="round" stroke-linecap="round" />
<circle cx="66.60" cy="340.80" r="1.6" fill="white" stroke="#55bc52" stroke-width="1.3"/>
<text x="80.90" y="343.40" font-size="8.7" text-anchor="start" fill="#1a1a1a" >Target</text>
<text x="228.5" y="213" font-size="15" font-weight="bold" fill="#000">e</text>
<line x1="290.60" y1="354.85" x2="290.60" y2="353.35" stroke="#1a1a1a" stroke-width="0.9"/>
<line x1="310.20" y1="354.85" x2="310.20" y2="352.25" stroke="#1a1a1a" stroke-width="0.9"/>
<line x1="329.80" y1="354.85" x2="329.80" y2="353.35" stroke="#1a1a1a" stroke-width="0.9"/>
<line x1="349.40" y1="354.85" x2="349.40" y2="352.25" stroke="#1a1a1a" stroke-width="0.9"/>
<line x1="369.00" y1="354.85" x2="369.00" y2="353.35" stroke="#1a1a1a" stroke-width="0.9"/>
<line x1="388.60" y1="354.85" x2="388.60" y2="352.25" stroke="#1a1a1a" stroke-width="0.9"/>
<line x1="408.20" y1="354.85" x2="408.20" y2="353.35" stroke="#1a1a1a" stroke-width="0.9"/>
<line x1="427.80" y1="354.85" x2="427.80" y2="352.25" stroke="#1a1a1a" stroke-width="0.9"/>
<line x1="271.00" y1="329.67" x2="272.30" y2="329.67" stroke="#1a1a1a" stroke-width="0.9"/>
<line x1="271.00" y1="314.94" x2="272.30" y2="314.94" stroke="#1a1a1a" stroke-width="0.9"/>
<line x1="271.00" y1="304.49" x2="272.30" y2="304.49" stroke="#1a1a1a" stroke-width="0.9"/>
<line x1="271.00" y1="296.38" x2="272.30" y2="296.38" stroke="#1a1a1a" stroke-width="0.9"/>
<line x1="271.00" y1="289.76" x2="272.30" y2="289.76" stroke="#1a1a1a" stroke-width="0.9"/>
<line x1="271.00" y1="284.16" x2="272.30" y2="284.16" stroke="#1a1a1a" stroke-width="0.9"/>
<line x1="271.00" y1="279.31" x2="272.30" y2="279.31" stroke="#1a1a1a" stroke-width="0.9"/>
<line x1="271.00" y1="275.03" x2="272.30" y2="275.03" stroke="#1a1a1a" stroke-width="0.9"/>
<line x1="271.00" y1="271.20" x2="273.60" y2="271.20" stroke="#1a1a1a" stroke-width="0.9"/>
<line x1="271.00" y1="246.02" x2="272.30" y2="246.02" stroke="#1a1a1a" stroke-width="0.9"/>
<line x1="271.00" y1="231.29" x2="272.30" y2="231.29" stroke="#1a1a1a" stroke-width="0.9"/>
<line x1="271.00" y1="220.84" x2="272.30" y2="220.84" stroke="#1a1a1a" stroke-width="0.9"/>
<rect x="271.0" y="213.3" width="176.20" height="141.55" fill="none" stroke="#222" stroke-width="1.3"/>
<text x="271.00" y="368.40" font-size="10.0" text-anchor="middle" fill="#1a1a1a" >0</text>
<text x="310.20" y="368.40" font-size="10.0" text-anchor="middle" fill="#1a1a1a" >2</text>
<text x="349.40" y="368.40" font-size="10.0" text-anchor="middle" fill="#1a1a1a" >4</text>
<text x="388.60" y="368.40" font-size="10.0" text-anchor="middle" fill="#1a1a1a" >6</text>
<text x="427.80" y="368.40" font-size="10.0" text-anchor="middle" fill="#1a1a1a" >8</text>
<text x="266.50" y="277.30" font-size="10.0" text-anchor="end" fill="#1a1a1a" >10<tspan font-size="7.6" dy="-4.4" dx="-0.9">1</tspan></text>
<text x="266.50" y="360.95" font-size="10.0" text-anchor="end" fill="#1a1a1a" >10<tspan font-size="7.6" dy="-4.4" dx="-0.9">0</tspan></text>
<text x="359.10" y="386.30" font-size="10.2" text-anchor="middle" fill="#1a1a1a" >Luminance (×10<tspan font-size="7.2" dy="-4.2" dx="0">4</tspan><tspan dy="4.2"> cd m</tspan><tspan font-size="7.2" dy="-4.2" dx="0">−2</tspan><tspan dy="4.2">)</tspan></text>
<text transform="translate(242.3,284.8) rotate(-90)" font-size="10.2" text-anchor="middle" fill="#1a1a1a">EQE (%)</text>
<line x1="271.00" y1="246.5" x2="329.7" y2="246.5" stroke="#777" stroke-width="0.8" stroke-dasharray="2,1.5"/>
<g clip-path="url(#ce)">
<polyline points="271.00,309.80 272.00,257.80 273.80,252.70 277.00,252.00 280.60,252.30 285.40,253.00 291.60,254.50 298.90,256.10 306.60,258.30 315.70,260.30 325.30,262.70 335.10,265.10 344.60,268.40 353.80,272.00 361.60,276.10 368.60,280.20 374.00,284.60 377.60,290.40 376.60,296.20" fill="none" stroke="#2b7148" stroke-width="1.0" stroke-linejoin="round" stroke-linecap="round" />
<polyline points="271.00,267.20 272.00,245.40 273.80,241.10 277.70,239.90 283.20,240.50 291.00,241.10 300.50,242.20 311.00,244.00 323.00,246.20 335.10,248.40 347.90,250.50 363.00,252.30 376.90,254.90 390.00,257.40 402.70,260.30 413.10,263.70 422.90,267.30 429.90,271.00 433.80,275.40 431.90,280.50 426.80,286.30" fill="none" stroke="#55bc52" stroke-width="1.0" stroke-linejoin="round" stroke-linecap="round" />
<path d="M271.00 307.60L273.20 309.80L271.00 312.00L268.80 309.80Z" fill="white" stroke="#2b7148" stroke-width="1.3"/>
<path d="M272.00 255.60L274.20 257.80L272.00 260.00L269.80 257.80Z" fill="white" stroke="#2b7148" stroke-width="1.3"/>
<path d="M273.80 250.50L276.00 252.70L273.80 254.90L271.60 252.70Z" fill="white" stroke="#2b7148" stroke-width="1.3"/>
<path d="M277.00 249.80L279.20 252.00L277.00 254.20L274.80 252.00Z" fill="white" stroke="#2b7148" stroke-width="1.3"/>
<path d="M280.60 250.10L282.80 252.30L280.60 254.50L278.40 252.30Z" fill="white" stroke="#2b7148" stroke-width="1.3"/>
<path d="M285.40 250.80L287.60 253.00L285.40 255.20L283.20 253.00Z" fill="white" stroke="#2b7148" stroke-width="1.3"/>
<path d="M291.60 252.30L293.80 254.50L291.60 256.70L289.40 254.50Z" fill="white" stroke="#2b7148" stroke-width="1.3"/>
<path d="M298.90 253.90L301.10 256.10L298.90 258.30L296.70 256.10Z" fill="white" stroke="#2b7148" stroke-width="1.3"/>
<path d="M306.60 256.10L308.80 258.30L306.60 260.50L304.40 258.30Z" fill="white" stroke="#2b7148" stroke-width="1.3"/>
<path d="M315.70 258.10L317.90 260.30L315.70 262.50L313.50 260.30Z" fill="white" stroke="#2b7148" stroke-width="1.3"/>
<path d="M325.30 260.50L327.50 262.70L325.30 264.90L323.10 262.70Z" fill="white" stroke="#2b7148" stroke-width="1.3"/>
<path d="M335.10 262.90L337.30 265.10L335.10 267.30L332.90 265.10Z" fill="white" stroke="#2b7148" stroke-width="1.3"/>
<path d="M344.60 266.20L346.80 268.40L344.60 270.60L342.40 268.40Z" fill="white" stroke="#2b7148" stroke-width="1.3"/>
<path d="M353.80 269.80L356.00 272.00L353.80 274.20L351.60 272.00Z" fill="white" stroke="#2b7148" stroke-width="1.3"/>
<path d="M361.60 273.90L363.80 276.10L361.60 278.30L359.40 276.10Z" fill="white" stroke="#2b7148" stroke-width="1.3"/>
<path d="M368.60 278.00L370.80 280.20L368.60 282.40L366.40 280.20Z" fill="white" stroke="#2b7148" stroke-width="1.3"/>
<path d="M374.00 282.40L376.20 284.60L374.00 286.80L371.80 284.60Z" fill="white" stroke="#2b7148" stroke-width="1.3"/>
<path d="M377.60 288.20L379.80 290.40L377.60 292.60L375.40 290.40Z" fill="white" stroke="#2b7148" stroke-width="1.3"/>
<path d="M376.60 294.00L378.80 296.20L376.60 298.40L374.40 296.20Z" fill="white" stroke="#2b7148" stroke-width="1.3"/>
<circle cx="271.00" cy="267.20" r="1.6" fill="white" stroke="#55bc52" stroke-width="1.3"/>
<circle cx="272.00" cy="245.40" r="1.6" fill="white" stroke="#55bc52" stroke-width="1.3"/>
<circle cx="273.80" cy="241.10" r="1.6" fill="white" stroke="#55bc52" stroke-width="1.3"/>
<circle cx="277.70" cy="239.90" r="1.6" fill="white" stroke="#55bc52" stroke-width="1.3"/>
<circle cx="283.20" cy="240.50" r="1.6" fill="white" stroke="#55bc52" stroke-width="1.3"/>
<circle cx="291.00" cy="241.10" r="1.6" fill="white" stroke="#55bc52" stroke-width="1.3"/>
<circle cx="300.50" cy="242.20" r="1.6" fill="white" stroke="#55bc52" stroke-width="1.3"/>
<circle cx="311.00" cy="244.00" r="1.6" fill="white" stroke="#55bc52" stroke-width="1.3"/>
<circle cx="323.00" cy="246.20" r="1.6" fill="white" stroke="#55bc52" stroke-width="1.3"/>
<circle cx="335.10" cy="248.40" r="1.6" fill="white" stroke="#55bc52" stroke-width="1.3"/>
<circle cx="347.90" cy="250.50" r="1.6" fill="white" stroke="#55bc52" stroke-width="1.3"/>
<circle cx="363.00" cy="252.30" r="1.6" fill="white" stroke="#55bc52" stroke-width="1.3"/>
<circle cx="376.90" cy="254.90" r="1.6" fill="white" stroke="#55bc52" stroke-width="1.3"/>
<circle cx="390.00" cy="257.40" r="1.6" fill="white" stroke="#55bc52" stroke-width="1.3"/>
<circle cx="402.70" cy="260.30" r="1.6" fill="white" stroke="#55bc52" stroke-width="1.3"/>
<circle cx="413.10" cy="263.70" r="1.6" fill="white" stroke="#55bc52" stroke-width="1.3"/>
<circle cx="422.90" cy="267.30" r="1.6" fill="white" stroke="#55bc52" stroke-width="1.3"/>
<circle cx="429.90" cy="271.00" r="1.6" fill="white" stroke="#55bc52" stroke-width="1.3"/>
<circle cx="433.80" cy="275.40" r="1.6" fill="white" stroke="#55bc52" stroke-width="1.3"/>
<circle cx="431.90" cy="280.50" r="1.6" fill="white" stroke="#55bc52" stroke-width="1.3"/>
<circle cx="426.80" cy="286.30" r="1.6" fill="white" stroke="#55bc52" stroke-width="1.3"/>
</g>
<text x="326.00" y="242.20" font-size="8.7" text-anchor="start" fill="#1a1a1a" >20% @ 30 000 cd m<tspan font-size="6.5" dy="-3.8" dx="0">−2</tspan></text>
<polyline points="282.30,329.60 301.60,329.60" fill="none" stroke="#2b7148" stroke-width="1.0" stroke-linejoin="round" stroke-linecap="round" />
<path d="M291.90 327.40L294.10 329.60L291.90 331.80L289.70 329.60Z" fill="white" stroke="#2b7148" stroke-width="1.3"/>
<text x="306.80" y="332.30" font-size="8.7" text-anchor="start" fill="#1a1a1a" >Pristine</text>
<polyline points="282.30,340.50 301.60,340.50" fill="none" stroke="#55bc52" stroke-width="1.0" stroke-linejoin="round" stroke-linecap="round" />
<circle cx="291.90" cy="340.50" r="1.6" fill="white" stroke="#55bc52" stroke-width="1.3"/>
<text x="306.80" y="343.10" font-size="8.7" text-anchor="start" fill="#1a1a1a" >Target</text>
<rect x="271.0" y="213.3" width="176.20" height="141.55" fill="none" stroke="#222" stroke-width="1.3"/>
<text x="457.5" y="213.5" font-size="15" font-weight="bold" fill="#000">f</text>
<line x1="508.44" y1="355.30" x2="508.44" y2="353.80" stroke="#1a1a1a" stroke-width="0.9"/>
<line x1="518.29" y1="355.30" x2="518.29" y2="352.70" stroke="#1a1a1a" stroke-width="0.9"/>
<line x1="528.13" y1="355.30" x2="528.13" y2="353.80" stroke="#1a1a1a" stroke-width="0.9"/>
<line x1="537.98" y1="355.30" x2="537.98" y2="352.70" stroke="#1a1a1a" stroke-width="0.9"/>
<line x1="547.82" y1="355.30" x2="547.82" y2="353.80" stroke="#1a1a1a" stroke-width="0.9"/>
<line x1="557.67" y1="355.30" x2="557.67" y2="352.70" stroke="#1a1a1a" stroke-width="0.9"/>
<line x1="567.51" y1="355.30" x2="567.51" y2="353.80" stroke="#1a1a1a" stroke-width="0.9"/>
<line x1="577.36" y1="355.30" x2="577.36" y2="352.70" stroke="#1a1a1a" stroke-width="0.9"/>
<line x1="587.20" y1="355.30" x2="587.20" y2="353.80" stroke="#1a1a1a" stroke-width="0.9"/>
<line x1="597.04" y1="355.30" x2="597.04" y2="352.70" stroke="#1a1a1a" stroke-width="0.9"/>
<line x1="606.89" y1="355.30" x2="606.89" y2="353.80" stroke="#1a1a1a" stroke-width="0.9"/>
<line x1="616.73" y1="355.30" x2="616.73" y2="352.70" stroke="#1a1a1a" stroke-width="0.9"/>
<line x1="626.58" y1="355.30" x2="626.58" y2="353.80" stroke="#1a1a1a" stroke-width="0.9"/>
<line x1="636.42" y1="355.30" x2="636.42" y2="352.70" stroke="#1a1a1a" stroke-width="0.9"/>
<line x1="646.27" y1="355.30" x2="646.27" y2="353.80" stroke="#1a1a1a" stroke-width="0.9"/>
<line x1="656.11" y1="355.30" x2="656.11" y2="352.70" stroke="#1a1a1a" stroke-width="0.9"/>
<line x1="665.96" y1="355.30" x2="665.96" y2="353.80" stroke="#1a1a1a" stroke-width="0.9"/>
<line x1="498.60" y1="342.37" x2="500.10" y2="342.37" stroke="#1a1a1a" stroke-width="0.9"/>
<line x1="498.60" y1="329.43" x2="501.20" y2="329.43" stroke="#1a1a1a" stroke-width="0.9"/>
<line x1="498.60" y1="316.50" x2="500.10" y2="316.50" stroke="#1a1a1a" stroke-width="0.9"/>
<line x1="498.60" y1="303.56" x2="501.20" y2="303.56" stroke="#1a1a1a" stroke-width="0.9"/>
<line x1="498.60" y1="290.62" x2="500.10" y2="290.62" stroke="#1a1a1a" stroke-width="0.9"/>
<line x1="498.60" y1="277.69" x2="501.20" y2="277.69" stroke="#1a1a1a" stroke-width="0.9"/>
<line x1="498.60" y1="264.75" x2="500.10" y2="264.75" stroke="#1a1a1a" stroke-width="0.9"/>
<line x1="498.60" y1="251.82" x2="501.20" y2="251.82" stroke="#1a1a1a" stroke-width="0.9"/>
<line x1="498.60" y1="238.88" x2="500.10" y2="238.88" stroke="#1a1a1a" stroke-width="0.9"/>
<line x1="498.60" y1="225.95" x2="501.20" y2="225.95" stroke="#1a1a1a" stroke-width="0.9"/>
<rect x="498.6" y="212.5" width="177.20" height="142.80" fill="none" stroke="#222" stroke-width="1.3"/>
<text x="498.60" y="368.40" font-size="10.0" text-anchor="middle" fill="#1a1a1a" >0</text>
<text x="518.29" y="368.40" font-size="10.0" text-anchor="middle" fill="#1a1a1a" >10</text>
<text x="537.98" y="368.40" font-size="10.0" text-anchor="middle" fill="#1a1a1a" >20</text>
<text x="557.67" y="368.40" font-size="10.0" text-anchor="middle" fill="#1a1a1a" >30</text>
<text x="577.36" y="368.40" font-size="10.0" text-anchor="middle" fill="#1a1a1a" >40</text>
<text x="597.04" y="368.40" font-size="10.0" text-anchor="middle" fill="#1a1a1a" >50</text>
<text x="616.73" y="368.40" font-size="10.0" text-anchor="middle" fill="#1a1a1a" >60</text>
<text x="636.42" y="368.40" font-size="10.0" text-anchor="middle" fill="#1a1a1a" >70</text>
<text x="656.11" y="368.40" font-size="10.0" text-anchor="middle" fill="#1a1a1a" >80</text>
<text x="675.80" y="368.40" font-size="10.0" text-anchor="middle" fill="#1a1a1a" >90</text>
<text x="494.10" y="359.70" font-size="10.0" text-anchor="end" fill="#1a1a1a" >0</text>
<text x="494.10" y="333.83" font-size="10.0" text-anchor="end" fill="#1a1a1a" >20</text>
<text x="494.10" y="307.96" font-size="10.0" text-anchor="end" fill="#1a1a1a" >40</text>
<text x="494.10" y="282.09" font-size="10.0" text-anchor="end" fill="#1a1a1a" >60</text>
<text x="494.10" y="256.22" font-size="10.0" text-anchor="end" fill="#1a1a1a" >80</text>
<text x="494.10" y="230.35" font-size="10.0" text-anchor="end" fill="#1a1a1a" >100</text>
<text x="587.20" y="382.90" font-size="10.2" text-anchor="middle" fill="#1a1a1a" >Time (min)</text>
<text transform="translate(469.3,284.0) rotate(-90)" font-size="10.2" text-anchor="middle" fill="#1a1a1a">Luminance (cd m<tspan font-size="7.2" dy="-4.2" dx="0">−2</tspan><tspan dy="4.2">)</tspan></text>
<line x1="498.60" y1="290.62" x2="675.80" y2="290.62" stroke="#999" stroke-width="0.9" stroke-dasharray="4.2,2.3"/>
<g clip-path="url(#cf)">
<polyline points="498.99,238.65 499.88,238.85 500.77,240.05 501.65,240.40 502.54,241.19 503.42,243.18 504.31,244.36 505.20,243.75 506.08,246.05 506.97,247.20 507.85,246.72 508.74,248.90 509.63,249.24 510.51,251.07 511.40,251.72 512.28,253.71 513.17,253.69 514.06,254.19 514.94,255.88 515.83,256.41 516.71,257.54 517.60,259.67 518.49,258.90 519.37,259.91 520.26,261.17 521.14,262.40 522.03,261.34 522.92,262.82 523.80,262.97 524.69,263.34 525.57,264.42 526.46,264.72 527.35,266.54 528.23,266.43 529.12,267.90 530.00,267.62 530.89,268.46 531.78,270.81 532.66,271.47 533.55,272.03 534.43,271.21 535.32,273.04 536.21,273.38 537.09,274.78 537.98,275.09 538.86,275.84 539.75,276.41 540.64,276.43 541.52,276.93 542.41,276.77 543.29,277.73 544.18,277.72 545.07,278.37 545.95,278.59 546.84,279.76 547.72,281.31 548.61,280.37 549.50,280.65 550.38,281.28 551.27,282.47 552.15,282.67 553.04,284.22 553.93,283.43 554.81,284.47 555.70,285.50 556.58,286.38 557.47,285.17 558.36,285.31 559.24,287.60 560.13,286.55 561.01,287.78 561.90,288.74 562.79,288.86 563.67,288.31 564.56,288.58 565.44,290.78 566.33,290.08 567.22,291.74 568.10,290.83 568.99,292.12 569.87,291.46 570.76,291.74 571.65,293.20 572.53,292.67" fill="none" stroke="#2a7148" stroke-width="3.0" stroke-linejoin="round" stroke-linecap="round" />
<polyline points="498.60,225.70 499.49,226.63 500.37,225.99 501.26,227.62 502.14,227.72 503.03,227.73 503.92,227.84 504.80,229.56 505.69,230.59 506.57,229.67 507.46,231.60 508.35,231.05 509.23,231.97 510.12,233.83 511.00,234.21 511.89,234.52 512.78,234.70 513.66,235.23 514.55,235.74 515.43,236.04 516.32,235.81 517.21,237.14 518.09,237.94 518.98,238.00 519.86,239.67 520.75,240.20 521.64,239.47 522.52,241.08 523.41,241.69 524.29,243.46 525.18,243.27 526.07,243.58 526.95,245.39 527.84,244.80 528.72,245.42 529.61,247.25 530.50,246.73 531.38,247.66 532.27,247.70 533.15,248.87 534.04,248.63 534.93,249.05 535.81,251.02 536.70,251.43 537.58,250.65 538.47,250.54 539.36,252.51 540.24,252.57 541.13,252.77 542.01,253.83 542.90,254.22 543.79,254.82 544.67,255.19 545.56,255.20 546.44,256.30 547.33,256.63 548.22,256.30 549.10,258.28 549.99,257.59 550.87,257.69 551.76,259.00 552.65,259.62 553.53,258.86 554.42,260.46 555.30,261.00 556.19,260.93 557.08,260.82 557.96,262.49 558.85,262.45 559.73,262.80 560.62,262.15 561.51,263.35 562.39,262.86 563.28,264.67 564.16,264.70 565.05,264.43 565.94,264.33 566.82,265.60 567.71,266.45 568.59,267.05 569.48,266.58 570.37,267.65 571.25,266.75 572.14,267.05 573.02,268.78 573.91,268.96 574.80,268.24 575.68,268.95 576.57,268.98 577.45,270.31 578.34,271.13 579.23,271.16 580.11,270.50 581.00,271.96 581.88,272.21 582.77,272.47 583.66,272.87 584.54,273.29 585.43,272.61 586.31,274.43 587.20,274.99 588.09,273.30 588.97,273.67 589.86,273.70 590.74,275.09 591.63,274.27 592.52,274.56 593.40,276.27 594.29,275.43 595.17,275.49 596.06,276.15 596.95,276.79 597.83,277.60 598.72,277.83 599.60,278.40 600.49,279.06 601.38,278.32 602.26,279.28 603.15,278.54 604.03,280.45 604.92,279.01 605.81,279.78 606.69,279.56 607.58,279.87 608.46,280.12 609.35,281.05 610.24,282.47 611.12,281.21 612.01,282.66 612.89,282.65 613.78,282.16 614.67,282.70 615.55,283.19 616.44,282.32 617.32,283.18 618.21,283.93 619.10,284.30 619.98,283.22 620.87,284.21 621.75,283.76 622.64,284.84 623.53,285.35 624.41,284.84 625.30,284.44 626.18,285.96 627.07,284.91 627.96,284.89 628.84,285.37 629.73,285.58 630.61,287.52 631.50,286.48 632.39,286.24 633.27,288.17 634.16,287.96 635.04,288.21 635.93,287.92 636.82,288.36 637.70,288.41 638.59,287.93 639.47,289.68 640.36,289.72 641.25,289.72 642.13,289.87 643.02,290.14 643.90,288.41 644.79,288.81 645.68,290.58 646.56,289.92 647.45,290.50 648.33,290.70 649.22,290.82 650.11,290.41 650.99,290.73 651.88,291.40 652.76,291.95 653.65,291.86" fill="none" stroke="#4db84b" stroke-width="3.0" stroke-linejoin="round" stroke-linecap="round" />
</g>
<path d="M572.83 292.06L574.63 293.86L572.83 295.66L571.03 293.86Z" fill="#2a7148" stroke="#2a7148" stroke-width="0.6"/>
<text x="509.50" y="307.10" font-size="8.7" text-anchor="start" fill="#1a1a1a" ><tspan font-style="italic">T</tspan><tspan font-size="6.5" dy="2.5">50</tspan><tspan dy="-2.5"> = 34.4 min</tspan></text>
<text x="607.20" y="307.90" font-size="8.7" text-anchor="start" fill="#1a1a1a" ><tspan font-style="italic">T</tspan><tspan font-size="6.5" dy="2.5">50</tspan><tspan dy="-2.5"> = 76.7 min</tspan></text>
<polyline points="620.00,334.60 638.80,334.60" fill="none" stroke="#2a7148" stroke-width="1.0" stroke-linejoin="round" stroke-linecap="round" />
<path d="M629.40 333.00L631.00 334.60L629.40 336.20L627.80 334.60Z" fill="#2a7148" stroke="#2a7148" stroke-width="0.6"/>
<text x="643.90" y="337.70" font-size="8.7" text-anchor="start" fill="#1a1a1a" >Pristine</text>
<polyline points="620.00,345.60 638.80,345.60" fill="none" stroke="#4db84b" stroke-width="1.0" stroke-linejoin="round" stroke-linecap="round" />
<circle cx="629.40" cy="345.60" r="1.3" fill="#4db84b" stroke="#4db84b" stroke-width="0.6"/>
<text x="643.90" y="348.70" font-size="8.7" text-anchor="start" fill="#1a1a1a" >Target</text>
<rect x="498.6" y="212.5" width="177.20" height="142.80" fill="none" stroke="#222" stroke-width="1.3"/>
<text x="-0.6" y="412.6" font-size="15" font-weight="bold" fill="#000">g</text>
<rect x="44.3" y="411.7" width="283.30" height="142.10" fill="url(#gg)"/>
<line x1="72.63" y1="553.80" x2="72.63" y2="552.30" stroke="#1a1a1a" stroke-width="0.9"/>
<line x1="100.96" y1="553.80" x2="100.96" y2="551.20" stroke="#1a1a1a" stroke-width="0.9"/>
<line x1="129.29" y1="553.80" x2="129.29" y2="552.30" stroke="#1a1a1a" stroke-width="0.9"/>
<line x1="157.62" y1="553.80" x2="157.62" y2="551.20" stroke="#1a1a1a" stroke-width="0.9"/>
<line x1="185.95" y1="553.80" x2="185.95" y2="552.30" stroke="#1a1a1a" stroke-width="0.9"/>
<line x1="214.28" y1="553.80" x2="214.28" y2="551.20" stroke="#1a1a1a" stroke-width="0.9"/>
<line x1="242.61" y1="553.80" x2="242.61" y2="552.30" stroke="#1a1a1a" stroke-width="0.9"/>
<line x1="270.94" y1="553.80" x2="270.94" y2="551.20" stroke="#1a1a1a" stroke-width="0.9"/>
<line x1="299.27" y1="553.80" x2="299.27" y2="552.30" stroke="#1a1a1a" stroke-width="0.9"/>
<line x1="44.30" y1="547.61" x2="45.50" y2="547.61" stroke="#1a1a1a" stroke-width="0.9"/>
<line x1="44.30" y1="541.42" x2="45.50" y2="541.42" stroke="#1a1a1a" stroke-width="0.9"/>
<line x1="44.30" y1="535.23" x2="45.50" y2="535.23" stroke="#1a1a1a" stroke-width="0.9"/>
<line x1="44.30" y1="529.04" x2="45.50" y2="529.04" stroke="#1a1a1a" stroke-width="0.9"/>
<line x1="44.30" y1="522.85" x2="46.10" y2="522.85" stroke="#1a1a1a" stroke-width="0.9"/>
<line x1="44.30" y1="516.66" x2="45.50" y2="516.66" stroke="#1a1a1a" stroke-width="0.9"/>
<line x1="44.30" y1="510.47" x2="45.50" y2="510.47" stroke="#1a1a1a" stroke-width="0.9"/>
<line x1="44.30" y1="504.28" x2="45.50" y2="504.28" stroke="#1a1a1a" stroke-width="0.9"/>
<line x1="44.30" y1="498.09" x2="45.50" y2="498.09" stroke="#1a1a1a" stroke-width="0.9"/>
<line x1="44.30" y1="491.90" x2="46.90" y2="491.90" stroke="#1a1a1a" stroke-width="0.9"/>
<line x1="44.30" y1="485.71" x2="45.50" y2="485.71" stroke="#1a1a1a" stroke-width="0.9"/>
<line x1="44.30" y1="479.52" x2="45.50" y2="479.52" stroke="#1a1a1a" stroke-width="0.9"/>
<line x1="44.30" y1="473.33" x2="45.50" y2="473.33" stroke="#1a1a1a" stroke-width="0.9"/>
<line x1="44.30" y1="467.14" x2="45.50" y2="467.14" stroke="#1a1a1a" stroke-width="0.9"/>
<line x1="44.30" y1="460.95" x2="46.10" y2="460.95" stroke="#1a1a1a" stroke-width="0.9"/>
<line x1="44.30" y1="454.76" x2="45.50" y2="454.76" stroke="#1a1a1a" stroke-width="0.9"/>
<line x1="44.30" y1="448.57" x2="45.50" y2="448.57" stroke="#1a1a1a" stroke-width="0.9"/>
<line x1="44.30" y1="442.38" x2="45.50" y2="442.38" stroke="#1a1a1a" stroke-width="0.9"/>
<line x1="44.30" y1="436.19" x2="45.50" y2="436.19" stroke="#1a1a1a" stroke-width="0.9"/>
<line x1="44.30" y1="430.00" x2="46.90" y2="430.00" stroke="#1a1a1a" stroke-width="0.9"/>
<line x1="44.30" y1="423.81" x2="45.50" y2="423.81" stroke="#1a1a1a" stroke-width="0.9"/>
<line x1="44.30" y1="417.62" x2="45.50" y2="417.62" stroke="#1a1a1a" stroke-width="0.9"/>
<rect x="44.3" y="411.7" width="283.30" height="142.10" fill="none" stroke="#333" stroke-width="1.2"/>
<text x="44.30" y="566.60" font-size="10.0" text-anchor="middle" fill="#1a1a1a" >0</text>
<text x="100.96" y="566.60" font-size="10.0" text-anchor="middle" fill="#1a1a1a" >2</text>
<text x="157.62" y="566.60" font-size="10.0" text-anchor="middle" fill="#1a1a1a" >4</text>
<text x="214.28" y="566.60" font-size="10.0" text-anchor="middle" fill="#1a1a1a" >6</text>
<text x="270.94" y="566.60" font-size="10.0" text-anchor="middle" fill="#1a1a1a" >8</text>
<text x="327.60" y="566.60" font-size="10.0" text-anchor="middle" fill="#1a1a1a" >10</text>
<text x="38.70" y="556.00" font-size="10.0" text-anchor="end" fill="#1a1a1a" >10</text>
<text x="38.70" y="494.10" font-size="10.0" text-anchor="end" fill="#1a1a1a" >20</text>
<text x="38.70" y="432.20" font-size="10.0" text-anchor="end" fill="#1a1a1a" >30</text>
<text x="185.95" y="583.80" font-size="10.2" text-anchor="middle" fill="#1a1a1a" >Luminance (×10<tspan font-size="7.2" dy="-4.2" dx="0">4</tspan><tspan dy="4.2"> cd m</tspan><tspan font-size="7.2" dy="-4.2" dx="0">−2</tspan><tspan dy="4.2">)</tspan></text>
<text transform="translate(18.8,483.0) rotate(-90)" font-size="9.6" text-anchor="middle" fill="#1a1a1a">EQE (%)</text>
<circle cx="71.60" cy="431.50" r="1.6" fill="none" stroke="#777" stroke-width="0.8"/>
<circle cx="72.20" cy="444.80" r="1.6" fill="none" stroke="#777" stroke-width="0.8"/>
<circle cx="60.90" cy="474.80" r="1.6" fill="none" stroke="#777" stroke-width="0.8"/>
<circle cx="100.80" cy="492.90" r="1.6" fill="none" stroke="#777" stroke-width="0.8"/>
<circle cx="108.00" cy="465.80" r="1.6" fill="none" stroke="#777" stroke-width="0.8"/>
<circle cx="114.90" cy="457.40" r="1.6" fill="none" stroke="#777" stroke-width="0.8"/>
<circle cx="136.10" cy="448.90" r="1.6" fill="none" stroke="#777" stroke-width="0.8"/>
<circle cx="157.90" cy="450.40" r="1.6" fill="none" stroke="#777" stroke-width="0.8"/>
<circle cx="154.60" cy="499.10" r="1.6" fill="none" stroke="#777" stroke-width="0.8"/>
<circle cx="141.50" cy="520.80" r="1.6" fill="none" stroke="#777" stroke-width="0.8"/>
<circle cx="104.10" cy="534.10" r="1.6" fill="none" stroke="#777" stroke-width="0.8"/>
<circle cx="218.90" cy="491.90" r="1.6" fill="none" stroke="#777" stroke-width="0.8"/>
<circle cx="233.70" cy="479.60" r="1.6" fill="none" stroke="#777" stroke-width="0.8"/>
<circle cx="267.50" cy="486.80" r="1.6" fill="none" stroke="#777" stroke-width="0.8"/>
<polygon points="279.80,451.20 280.68,453.59 283.22,453.69 281.23,455.26 281.92,457.71 279.80,456.30 277.68,457.71 278.37,455.26 276.38,453.69 278.92,453.59" fill="#3aa84a"/>
<text x="260.60" y="469.90" font-size="8.7" text-anchor="start" fill="#1a1a1a" >This work</text>
<text x="161.20" y="431.50" font-size="8.7" text-anchor="start" fill="#1a1a1a" >EQE<tspan font-size="6.0" dy="2.2">max</tspan><tspan dy="-2.2"> = 23.9%</tspan></text>
<text x="233.70" y="431.50" font-size="8.7" text-anchor="start" fill="#1a1a1a" >L<tspan font-size="6.0" dy="2.2">max</tspan><tspan dy="-2.2"> = 83 363 cd m</tspan><tspan font-size="6.5" dy="-3.8" dx="0">−2</tspan></text>
<text x="340" y="415" font-size="15" font-weight="bold" fill="#000">h</text>
<line x1="373.60" y1="540.88" x2="374.90" y2="540.88" stroke="#1a1a1a" stroke-width="0.9"/>
<line x1="373.60" y1="527.95" x2="376.20" y2="527.95" stroke="#1a1a1a" stroke-width="0.9"/>
<line x1="373.60" y1="515.02" x2="374.90" y2="515.02" stroke="#1a1a1a" stroke-width="0.9"/>
<line x1="373.60" y1="502.10" x2="376.20" y2="502.10" stroke="#1a1a1a" stroke-width="0.9"/>
<line x1="373.60" y1="489.17" x2="374.90" y2="489.17" stroke="#1a1a1a" stroke-width="0.9"/>
<line x1="373.60" y1="476.25" x2="376.20" y2="476.25" stroke="#1a1a1a" stroke-width="0.9"/>
<line x1="373.60" y1="463.32" x2="374.90" y2="463.32" stroke="#1a1a1a" stroke-width="0.9"/>
<line x1="373.60" y1="450.40" x2="376.20" y2="450.40" stroke="#1a1a1a" stroke-width="0.9"/>
<line x1="373.60" y1="437.47" x2="374.90" y2="437.47" stroke="#1a1a1a" stroke-width="0.9"/>
<line x1="373.60" y1="424.55" x2="376.20" y2="424.55" stroke="#1a1a1a" stroke-width="0.9"/>
<line x1="409.00" y1="553.80" x2="409.00" y2="551.20" stroke="#1a1a1a" stroke-width="0.9"/>
<line x1="480.00" y1="553.80" x2="480.00" y2="551.20" stroke="#1a1a1a" stroke-width="0.9"/>
<line x1="551.00" y1="553.80" x2="551.00" y2="551.20" stroke="#1a1a1a" stroke-width="0.9"/>
<line x1="622.00" y1="553.80" x2="622.00" y2="551.20" stroke="#1a1a1a" stroke-width="0.9"/>
<rect x="373.6" y="411.6" width="283.40" height="142.20" fill="none" stroke="#222" stroke-width="1.3"/>
<text x="369.10" y="557.20" font-size="10.0" text-anchor="end" fill="#1a1a1a" >0</text>
<text x="369.10" y="531.35" font-size="10.0" text-anchor="end" fill="#1a1a1a" >5</text>
<text x="369.10" y="505.50" font-size="10.0" text-anchor="end" fill="#1a1a1a" >10</text>
<text x="369.10" y="479.65" font-size="10.0" text-anchor="end" fill="#1a1a1a" >15</text>
<text x="369.10" y="453.80" font-size="10.0" text-anchor="end" fill="#1a1a1a" >20</text>
<text x="369.10" y="427.95" font-size="10.0" text-anchor="end" fill="#1a1a1a" >25</text>
<text transform="translate(348.2,482.6) rotate(-90)" font-size="9.6" text-anchor="middle" fill="#1a1a1a">EQE (%)</text>
<text x="409.00" y="566.30" font-size="10.2" text-anchor="middle" fill="#1a1a1a" >Air processing</text>
<text x="480.00" y="566.30" font-size="10.2" text-anchor="middle" fill="#1a1a1a" >N<tspan font-size="7.0" dy="2.5">2</tspan><tspan dy="-2.5"> processing</tspan></text>
<text x="551.00" y="566.30" font-size="10.2" text-anchor="middle" fill="#1a1a1a" >Air processing</text>
<text x="622.00" y="566.30" font-size="10.2" text-anchor="middle" fill="#1a1a1a" >N<tspan font-size="7.0" dy="2.5">2</tspan><tspan dy="-2.5"> processing</tspan></text>
<rect x="387.50" y="512.20" width="14.20" height="9.70" fill="none" stroke="#2b7148" stroke-width="1.1"/>
<line x1="387.50" y1="517.20" x2="401.70" y2="517.20" stroke="#2b7148" stroke-width="1.1"/>
<line x1="394.60" y1="505.60" x2="394.60" y2="512.20" stroke="#2b7148" stroke-width="1.1"/>
<line x1="394.60" y1="521.90" x2="394.60" y2="529.60" stroke="#2b7148" stroke-width="1.1"/>
<line x1="391.30" y1="505.60" x2="397.90" y2="505.60" stroke="#2b7148" stroke-width="1.1"/>
<line x1="391.30" y1="529.60" x2="397.90" y2="529.60" stroke="#2b7148" stroke-width="1.1"/>
<rect x="458.40" y="468.10" width="14.20" height="10.00" fill="none" stroke="#2b7148" stroke-width="1.1"/>
<line x1="458.40" y1="473.00" x2="472.60" y2="473.00" stroke="#2b7148" stroke-width="1.1"/>
<line x1="465.50" y1="466.10" x2="465.50" y2="468.10" stroke="#2b7148" stroke-width="1.1"/>
<line x1="465.50" y1="478.10" x2="465.50" y2="486.10" stroke="#2b7148" stroke-width="1.1"/>
<line x1="462.20" y1="466.10" x2="468.80" y2="466.10" stroke="#2b7148" stroke-width="1.1"/>
<line x1="462.20" y1="486.10" x2="468.80" y2="486.10" stroke="#2b7148" stroke-width="1.1"/>
<rect x="529.20" y="447.00" width="14.20" height="10.70" fill="none" stroke="#55bc52" stroke-width="1.1"/>
<line x1="529.20" y1="452.10" x2="543.40" y2="452.10" stroke="#55bc52" stroke-width="1.1"/>
<line x1="536.30" y1="443.10" x2="536.30" y2="447.00" stroke="#55bc52" stroke-width="1.1"/>
<line x1="536.30" y1="457.70" x2="536.30" y2="458.70" stroke="#55bc52" stroke-width="1.1"/>
<line x1="533.00" y1="443.10" x2="539.60" y2="443.10" stroke="#55bc52" stroke-width="1.1"/>
<line x1="533.00" y1="458.70" x2="539.60" y2="458.70" stroke="#55bc52" stroke-width="1.1"/>
<rect x="600.30" y="433.70" width="14.20" height="7.00" fill="none" stroke="#55bc52" stroke-width="1.1"/>
<line x1="600.30" y1="437.20" x2="614.50" y2="437.20" stroke="#55bc52" stroke-width="1.1"/>
<line x1="607.40" y1="431.40" x2="607.40" y2="433.70" stroke="#55bc52" stroke-width="1.1"/>
<line x1="607.40" y1="440.70" x2="607.40" y2="446.60" stroke="#55bc52" stroke-width="1.1"/>
<line x1="604.10" y1="431.40" x2="610.70" y2="431.40" stroke="#55bc52" stroke-width="1.1"/>
<line x1="604.10" y1="446.60" x2="610.70" y2="446.60" stroke="#55bc52" stroke-width="1.1"/>
<polyline points="409.77,496.10 409.78,496.18 409.80,496.25 409.81,496.33 409.83,496.41 409.84,496.48 409.86,496.56 409.87,496.64 409.89,496.72 409.91,496.79 409.92,496.87 409.94,496.95 409.96,497.02 409.98,497.10 409.99,497.18 410.01,497.25 410.03,497.33 410.05,497.41 410.07,497.48 410.09,497.56 410.11,497.64 410.14,497.72 410.16,497.79 410.18,497.87 410.20,497.95 410.23,498.02 410.25,498.10 410.27,498.18 410.30,498.25 410.32,498.33 410.35,498.41 410.37,498.48 410.40,498.56 410.43,498.64 410.45,498.71 410.48,498.79 410.51,498.87 410.54,498.94 410.57,499.02 410.60,499.10 410.63,499.18 410.66,499.25 410.69,499.33 410.72,499.41 410.75,499.48 410.78,499.56 410.82,499.64 410.85,499.71 410.89,499.79 410.92,499.87 410.96,499.94 410.99,500.02 411.03,500.10 411.07,500.18 411.11,500.25 411.14,500.33 411.18,500.41 411.22,500.48 411.26,500.56 411.30,500.64 411.34,500.71 411.39,500.79 411.43,500.87 411.47,500.94 411.52,501.02 411.56,501.10 411.61,501.18 411.65,501.25 411.70,501.33 411.74,501.41 411.79,501.48 411.84,501.56 411.89,501.63 411.94,501.71 411.99,501.79 412.04,501.87 412.09,501.94 412.15,502.02 412.20,502.10 412.25,502.18 412.31,502.25 412.36,502.33 412.42,502.41 412.47,502.48 412.53,502.56 412.59,502.64 412.65,502.71 412.70,502.79 412.76,502.87 412.83,502.94 412.89,503.02 412.95,503.10 413.01,503.18 413.07,503.25 413.14,503.33 413.20,503.40 413.26,503.48 413.33,503.56 413.40,503.64 413.47,503.71 413.53,503.79 413.60,503.87 413.67,503.94 413.74,504.02 413.81,504.10 413.88,504.17 413.96,504.25 414.03,504.33 414.10,504.40 414.17,504.48 414.25,504.56 414.33,504.64 414.40,504.71 414.48,504.79 414.56,504.87 414.63,504.94 414.71,505.02 414.79,505.10 414.87,505.17 414.95,505.25 415.03,505.32 415.11,505.40 415.19,505.48 415.28,505.56 415.36,505.63 415.44,505.71 415.53,505.79 415.61,505.87 415.70,505.94 415.78,506.02 415.87,506.09 415.95,506.17 416.04,506.25 416.13,506.33 416.22,506.40 416.31,506.48 416.40,506.56 416.49,506.63 416.58,506.71 416.67,506.79 416.76,506.86 416.85,506.94 416.94,507.02 417.03,507.09 417.12,507.17 417.22,507.25 417.31,507.32 417.40,507.40 417.50,507.48 417.59,507.56 417.69,507.63 417.78,507.71 417.88,507.79 417.97,507.86 418.07,507.94 418.16,508.02 418.26,508.09 418.35,508.17 418.45,508.25 418.54,508.32 418.64,508.40 418.74,508.48 418.83,508.55 418.93,508.63 419.03,508.71 419.12,508.78 419.22,508.86 419.32,508.94 419.41,509.01 419.51,509.09 419.61,509.17 419.70,509.25 419.80,509.32 419.90,509.40 419.99,509.48 420.09,509.55 420.18,509.63 420.28,509.71 420.38,509.78 420.47,509.86 420.57,509.94 420.66,510.01 420.75,510.09 420.85,510.17 420.94,510.24 421.04,510.32 421.13,510.40 421.22,510.47 421.32,510.55 421.41,510.63 421.50,510.71 421.59,510.78 421.68,510.86 421.77,510.94 421.86,511.01 421.95,511.09 422.04,511.17 422.13,511.24 422.21,511.32 422.30,511.40 422.39,511.47 422.47,511.55 422.56,511.63 422.64,511.70 422.73,511.78 422.81,511.86 422.89,511.93 422.97,512.01 423.05,512.09 423.13,512.16 423.21,512.24 423.29,512.32 423.37,512.39 423.44,512.47 423.52,512.55 423.59,512.63 423.67,512.71 423.74,512.78 423.81,512.86 423.88,512.93 423.95,513.01 424.02,513.08 424.08,513.16 424.15,513.24 424.22,513.32 424.28,513.39 424.34,513.47 424.41,513.55 424.47,513.63 424.53,513.70 424.58,513.78 424.64,513.85 424.69,513.93 424.75,514.01 424.80,514.08 424.86,514.16 424.91,514.24 424.96,514.32 425.01,514.39 425.05,514.47 425.10,514.55 425.14,514.63 425.18,514.70 425.22,514.78 425.26,514.85 425.30,514.93 425.34,515.01 425.38,515.08 425.41,515.16 425.45,515.24 425.48,515.32 425.51,515.39 425.54,515.47 425.56,515.55 425.59,515.62 425.61,515.70 425.64,515.78 425.66,515.85 425.68,515.93 425.70,516.01 425.72,516.09 425.73,516.16 425.74,516.24 425.76,516.32 425.77,516.39 425.78,516.47 425.78,516.55 425.79,516.63 425.79,516.70 425.80,516.78 425.80,516.86 425.80,516.93 425.80,517.01 425.79,517.09 425.78,517.17 425.77,517.24 425.76,517.32 425.75,517.40 425.73,517.47 425.71,517.55 425.68,517.63 425.66,517.71 425.63,517.78 425.60,517.86 425.56,517.94 425.53,518.01 425.49,518.09 425.46,518.17 425.42,518.24 425.37,518.32 425.32,518.40 425.27,518.48 425.22,518.56 425.16,518.63 425.11,518.71 425.05,518.79 424.99,518.86 424.92,518.94 424.86,519.01 424.79,519.09 424.73,519.16 424.66,519.24 424.58,519.32 424.50,519.40 424.42,519.48 424.34,519.56 424.26,519.63 424.18,519.71 424.09,519.78 424.01,519.86 423.92,519.94 423.83,520.01 423.74,520.09 423.65,520.16 423.55,520.24 423.45,520.32 423.35,520.40 423.25,520.48 423.15,520.55 423.05,520.63 422.94,520.71 422.84,520.78 422.73,520.86 422.63,520.93 422.52,521.01 422.41,521.09 422.30,521.16 422.18,521.24 422.07,521.32 421.96,521.40 421.84,521.47 421.72,521.55 421.61,521.63 421.49,521.70 421.37,521.78 421.25,521.85 421.14,521.93 421.01,522.01 420.89,522.09 420.77,522.16 420.65,522.24 420.52,522.32 420.40,522.39 420.28,522.47 420.15,522.55 420.03,522.62 419.91,522.70 419.78,522.78 419.66,522.85 419.53,522.93 419.41,523.01 419.28,523.08 419.16,523.16 419.03,523.24 418.91,523.31 418.78,523.39 418.66,523.47 418.53,523.54 418.41,523.62 418.29,523.70 418.16,523.77 418.04,523.85 417.92,523.93 417.80,524.00 417.67,524.08 417.55,524.16 417.43,524.23 417.31,524.31 417.19,524.39 417.07,524.47 416.95,524.54 416.83,524.62 416.71,524.70 416.60,524.77 416.48,524.85 416.37,524.93 416.25,525.00 416.14,525.08 416.03,525.16 415.91,525.23 415.80,525.31 415.69,525.39 415.58,525.46 415.47,525.54 415.36,525.62 415.25,525.70 415.15,525.77 415.05,525.85 414.94,525.92 414.84,526.00 414.74,526.08 414.63,526.15 414.53,526.23 414.43,526.31 414.33,526.39 414.24,526.46 414.14,526.54 414.05,526.62 413.95,526.69 413.86,526.77 413.77,526.85 413.68,526.92 413.59,527.00 413.50,527.08 413.41,527.15 413.33,527.23 413.24,527.31 413.16,527.39 413.07,527.47 412.99,527.54 412.91,527.62 412.84,527.69 412.76,527.77 412.68,527.84 412.61,527.92 412.53,528.00 412.46,528.08 412.38,528.15 412.31,528.23 412.24,528.31 412.17,528.39 412.10,528.46 412.04,528.54 411.97,528.61 411.91,528.69 411.85,528.77 411.78,528.84 411.72,528.92 411.66,529.00 411.60,529.08 411.54,529.15 411.49,529.23 411.43,529.31 411.37,529.39 411.32,529.46 411.27,529.54 411.22,529.61 411.17,529.69 411.12,529.77 411.07,529.84 411.02,529.92 410.97,530.00 410.93,530.08 410.88,530.15 410.83,530.23 410.79,530.31 410.75,530.38 410.71,530.46 410.67,530.54 410.63,530.61 410.59,530.69 410.55,530.77 410.52,530.84 410.48,530.92 410.44,531.00 410.41,531.08 410.37,531.15 410.34,531.23 410.31,531.31 410.28,531.38 410.25,531.46 410.22,531.54 410.19,531.61 410.16,531.69 410.13,531.77 410.10,531.85 410.08,531.92 410.05,532.00 410.02,532.08 410.00,532.15 409.98,532.23 409.95,532.31 409.93,532.38 409.91,532.46 409.89,532.54 409.87,532.61 409.85,532.69 409.83,532.77 409.81,532.85 409.79,532.92 409.77,533.00" fill="none" stroke="#2b7148" stroke-width="1.1" stroke-linejoin="round" stroke-linecap="round" />
<circle cx="415.18" cy="524.34" r="1.2" fill="none" stroke="#2b7148" stroke-width="0.75"/>
<circle cx="413.38" cy="524.23" r="1.2" fill="none" stroke="#2b7148" stroke-width="0.75"/>
<circle cx="415.02" cy="521.41" r="1.2" fill="none" stroke="#2b7148" stroke-width="0.75"/>
<circle cx="418.95" cy="519.37" r="1.2" fill="none" stroke="#2b7148" stroke-width="0.75"/>
<circle cx="422.04" cy="518.53" r="1.2" fill="none" stroke="#2b7148" stroke-width="0.75"/>
<circle cx="416.03" cy="509.05" r="1.2" fill="none" stroke="#2b7148" stroke-width="0.75"/>
<circle cx="415.46" cy="509.70" r="1.2" fill="none" stroke="#2b7148" stroke-width="0.75"/>
<circle cx="419.57" cy="520.20" r="1.2" fill="none" stroke="#2b7148" stroke-width="0.75"/>
<circle cx="412.98" cy="505.82" r="1.2" fill="none" stroke="#2b7148" stroke-width="0.75"/>
<circle cx="413.11" cy="522.94" r="1.2" fill="none" stroke="#2b7148" stroke-width="0.75"/>
<circle cx="411.38" cy="504.58" r="1.2" fill="none" stroke="#2b7148" stroke-width="0.75"/>
<circle cx="416.77" cy="514.08" r="1.2" fill="none" stroke="#2b7148" stroke-width="0.75"/>
<circle cx="411.67" cy="501.82" r="1.2" fill="none" stroke="#2b7148" stroke-width="0.75"/>
<circle cx="413.20" cy="524.48" r="1.2" fill="none" stroke="#2b7148" stroke-width="0.75"/>
<circle cx="411.33" cy="528.52" r="1.2" fill="none" stroke="#2b7148" stroke-width="0.75"/>
<circle cx="414.31" cy="508.22" r="1.2" fill="none" stroke="#2b7148" stroke-width="0.75"/>
<circle cx="411.98" cy="527.64" r="1.2" fill="none" stroke="#2b7148" stroke-width="0.75"/>
<circle cx="412.48" cy="527.40" r="1.2" fill="none" stroke="#2b7148" stroke-width="0.75"/>
<circle cx="420.02" cy="520.11" r="1.2" fill="none" stroke="#2b7148" stroke-width="0.75"/>
<circle cx="412.98" cy="505.16" r="1.2" fill="none" stroke="#2b7148" stroke-width="0.75"/>
<polyline points="480.58,454.10 480.59,454.18 480.61,454.26 480.63,454.35 480.65,454.43 480.67,454.51 480.69,454.59 480.71,454.68 480.73,454.76 480.75,454.84 480.77,454.92 480.79,455.00 480.81,455.08 480.83,455.17 480.86,455.25 480.88,455.33 480.91,455.41 480.93,455.50 480.96,455.58 480.98,455.66 481.01,455.74 481.04,455.82 481.06,455.91 481.09,455.99 481.12,456.07 481.15,456.15 481.18,456.24 481.21,456.32 481.25,456.40 481.28,456.48 481.31,456.56 481.35,456.65 481.38,456.73 481.42,456.81 481.45,456.89 481.49,456.97 481.52,457.05 481.56,457.14 481.60,457.22 481.64,457.30 481.68,457.39 481.72,457.47 481.77,457.55 481.81,457.63 481.85,457.71 481.90,457.80 481.94,457.88 481.99,457.96 482.03,458.04 482.08,458.12 482.13,458.21 482.18,458.29 482.23,458.37 482.28,458.45 482.33,458.54 482.39,458.62 482.44,458.70 482.50,458.78 482.55,458.86 482.61,458.94 482.66,459.03 482.72,459.11 482.78,459.19 482.84,459.27 482.90,459.36 482.97,459.44 483.03,459.52 483.09,459.60 483.16,459.69 483.22,459.77 483.29,459.85 483.36,459.93 483.42,460.01 483.49,460.09 483.57,460.18 483.64,460.26 483.71,460.34 483.78,460.42 483.86,460.51 483.93,460.59 484.01,460.67 484.09,460.75 484.16,460.83 484.24,460.91 484.32,461.00 484.40,461.08 484.49,461.16 484.57,461.24 484.66,461.33 484.74,461.41 484.83,461.49 484.91,461.57 485.00,461.66 485.09,461.74 485.18,461.82 485.27,461.90 485.36,461.98 485.45,462.06 485.54,462.15 485.64,462.23 485.73,462.31 485.83,462.39 485.93,462.48 486.02,462.56 486.12,462.64 486.22,462.72 486.32,462.80 486.42,462.88 486.52,462.97 486.62,463.05 486.72,463.13 486.83,463.21 486.93,463.30 487.04,463.38 487.14,463.46 487.25,463.54 487.36,463.62 487.46,463.71 487.57,463.79 487.68,463.87 487.79,463.95 487.90,464.03 488.01,464.12 488.12,464.20 488.23,464.28 488.34,464.36 488.45,464.44 488.57,464.53 488.68,464.61 488.79,464.69 488.91,464.77 489.02,464.85 489.13,464.94 489.25,465.02 489.36,465.10 489.48,465.18 489.59,465.26 489.71,465.35 489.82,465.43 489.94,465.51 490.06,465.59 490.17,465.67 490.29,465.76 490.40,465.84 490.52,465.92 490.63,466.00 490.75,466.08 490.86,466.17 490.98,466.25 491.09,466.33 491.21,466.41 491.32,466.49 491.44,466.58 491.55,466.66 491.66,466.74 491.78,466.82 491.89,466.91 492.00,466.99 492.11,467.07 492.22,467.15 492.33,467.23 492.44,467.31 492.55,467.39 492.66,467.48 492.77,467.56 492.88,467.64 492.99,467.72 493.09,467.81 493.20,467.89 493.30,467.97 493.40,468.05 493.51,468.13 493.61,468.21 493.71,468.30 493.81,468.38 493.91,468.46 494.00,468.54 494.10,468.62 494.20,468.71 494.29,468.79 494.39,468.88 494.48,468.96 494.56,469.04 494.65,469.12 494.74,469.20 494.82,469.28 494.91,469.36 494.99,469.44 495.08,469.53 495.16,469.61 495.24,469.69 495.32,469.78 495.39,469.86 495.47,469.94 495.54,470.02 495.61,470.10 495.68,470.18 495.74,470.26 495.81,470.35 495.87,470.43 495.94,470.51 496.00,470.59 496.06,470.68 496.12,470.76 496.17,470.85 496.22,470.92 496.27,471.01 496.32,471.09 496.37,471.17 496.42,471.25 496.46,471.33 496.50,471.41 496.54,471.50 496.58,471.58 496.62,471.66 496.65,471.75 496.68,471.83 496.71,471.91 496.74,471.99 496.76,472.07 496.78,472.15 496.80,472.24 496.82,472.32 496.84,472.40 496.86,472.48 496.87,472.57 496.88,472.65 496.89,472.73 496.89,472.81 496.90,472.90 496.90,472.98 496.90,473.06 496.90,473.14 496.89,473.23 496.89,473.31 496.88,473.39 496.87,473.47 496.86,473.56 496.84,473.64 496.83,473.72 496.81,473.80 496.79,473.88 496.77,473.97 496.75,474.05 496.73,474.13 496.70,474.21 496.67,474.30 496.64,474.38 496.61,474.46 496.58,474.54 496.54,474.62 496.51,474.70 496.47,474.79 496.43,474.87 496.39,474.95 496.35,475.04 496.30,475.12 496.25,475.20 496.21,475.28 496.16,475.37 496.10,475.45 496.05,475.53 496.00,475.61 495.94,475.69 495.89,475.77 495.83,475.85 495.77,475.94 495.71,476.02 495.64,476.10 495.58,476.19 495.51,476.27 495.44,476.35 495.37,476.43 495.30,476.51 495.23,476.59 495.16,476.67 495.09,476.75 495.01,476.84 494.93,476.92 494.86,477.01 494.78,477.09 494.69,477.17 494.61,477.25 494.53,477.33 494.45,477.42 494.36,477.50 494.28,477.58 494.19,477.66 494.11,477.74 494.02,477.82 493.93,477.91 493.83,477.99 493.74,478.07 493.65,478.15 493.56,478.24 493.46,478.32 493.37,478.40 493.27,478.48 493.18,478.56 493.08,478.64 492.98,478.73 492.88,478.81 492.79,478.89 492.69,478.97 492.58,479.06 492.48,479.14 492.38,479.22 492.28,479.30 492.18,479.38 492.07,479.47 491.97,479.55 491.87,479.63 491.77,479.71 491.66,479.79 491.56,479.87 491.45,479.96 491.35,480.04 491.24,480.12 491.13,480.20 491.03,480.29 490.92,480.37 490.82,480.45 490.71,480.53 490.60,480.61 490.50,480.70 490.39,480.78 490.28,480.86 490.18,480.94 490.07,481.02 489.96,481.11 489.86,481.19 489.75,481.27 489.64,481.35 489.54,481.43 489.43,481.52 489.33,481.60 489.22,481.68 489.11,481.76 489.01,481.84 488.91,481.93 488.80,482.01 488.70,482.09 488.59,482.17 488.49,482.25 488.38,482.34 488.28,482.42 488.18,482.50 488.07,482.58 487.97,482.67 487.87,482.75 487.77,482.83 487.67,482.91 487.57,482.99 487.47,483.07 487.37,483.16 487.27,483.24 487.18,483.32 487.08,483.40 486.98,483.48 486.88,483.57 486.79,483.65 486.69,483.73 486.60,483.81 486.51,483.89 486.41,483.98 486.32,484.06 486.23,484.14 486.14,484.22 486.05,484.30 485.96,484.39 485.87,484.47 485.78,484.55 485.69,484.63 485.60,484.72 485.52,484.80 485.43,484.88 485.35,484.96 485.26,485.04 485.18,485.12 485.10,485.21 485.02,485.29 484.94,485.37 484.85,485.45 484.77,485.54 484.69,485.62 484.62,485.70 484.54,485.78 484.47,485.86 484.39,485.95 484.32,486.03 484.24,486.11 484.17,486.19 484.10,486.27 484.03,486.36 483.95,486.44 483.88,486.52 483.81,486.61 483.75,486.69 483.68,486.77 483.61,486.85 483.55,486.93 483.48,487.01 483.42,487.09 483.36,487.18 483.29,487.26 483.23,487.34 483.17,487.42 483.11,487.51 483.05,487.59 482.99,487.67 482.94,487.75 482.88,487.83 482.82,487.92 482.77,488.00 482.71,488.08 482.66,488.16 482.61,488.24 482.56,488.33 482.50,488.41 482.45,488.49 482.40,488.58 482.35,488.66 482.31,488.74 482.26,488.82 482.21,488.90 482.17,488.98 482.12,489.06 482.08,489.15 482.03,489.23 481.99,489.31 481.95,489.39 481.90,489.48 481.86,489.56 481.82,489.64 481.78,489.72 481.74,489.80 481.71,489.89 481.67,489.97 481.63,490.05 481.59,490.13 481.56,490.21 481.52,490.30 481.49,490.38 481.45,490.46 481.42,490.55 481.39,490.63 481.36,490.71 481.33,490.79 481.29,490.87 481.26,490.95 481.24,491.04 481.21,491.12 481.18,491.20 481.15,491.28 481.12,491.37 481.09,491.45 481.07,491.53 481.04,491.61 481.02,491.69 480.99,491.78 480.97,491.86 480.94,491.94 480.92,492.02 480.90,492.10 480.88,492.19 480.85,492.27 480.83,492.35 480.81,492.43 480.79,492.51 480.77,492.60 480.75,492.68 480.73,492.76 480.71,492.84 480.70,492.92 480.68,493.01 480.66,493.09 480.64,493.17 480.63,493.25 480.61,493.34 480.59,493.42 480.58,493.50" fill="none" stroke="#2b7148" stroke-width="1.1" stroke-linejoin="round" stroke-linecap="round" />
<circle cx="482.03" cy="482.29" r="1.2" fill="none" stroke="#2b7148" stroke-width="0.75"/>
<circle cx="483.27" cy="480.04" r="1.2" fill="none" stroke="#2b7148" stroke-width="0.75"/>
<circle cx="483.32" cy="473.40" r="1.2" fill="none" stroke="#2b7148" stroke-width="0.75"/>
<circle cx="483.33" cy="470.39" r="1.2" fill="none" stroke="#2b7148" stroke-width="0.75"/>
<circle cx="482.29" cy="477.02" r="1.2" fill="none" stroke="#2b7148" stroke-width="0.75"/>
<circle cx="492.34" cy="469.25" r="1.2" fill="none" stroke="#2b7148" stroke-width="0.75"/>
<circle cx="483.75" cy="485.21" r="1.2" fill="none" stroke="#2b7148" stroke-width="0.75"/>
<circle cx="484.65" cy="484.65" r="1.2" fill="none" stroke="#2b7148" stroke-width="0.75"/>
<circle cx="485.10" cy="484.01" r="1.2" fill="none" stroke="#2b7148" stroke-width="0.75"/>
<circle cx="482.46" cy="469.61" r="1.2" fill="none" stroke="#2b7148" stroke-width="0.75"/>
<circle cx="492.17" cy="474.14" r="1.2" fill="none" stroke="#2b7148" stroke-width="0.75"/>
<circle cx="482.38" cy="462.58" r="1.2" fill="none" stroke="#2b7148" stroke-width="0.75"/>
<circle cx="482.88" cy="472.87" r="1.2" fill="none" stroke="#2b7148" stroke-width="0.75"/>
<circle cx="482.16" cy="459.10" r="1.2" fill="none" stroke="#2b7148" stroke-width="0.75"/>
<circle cx="482.12" cy="459.10" r="1.2" fill="none" stroke="#2b7148" stroke-width="0.75"/>
<circle cx="483.61" cy="466.57" r="1.2" fill="none" stroke="#2b7148" stroke-width="0.75"/>
<circle cx="492.85" cy="473.00" r="1.2" fill="none" stroke="#2b7148" stroke-width="0.75"/>
<circle cx="483.06" cy="485.11" r="1.2" fill="none" stroke="#2b7148" stroke-width="0.75"/>
<circle cx="485.37" cy="467.08" r="1.2" fill="none" stroke="#2b7148" stroke-width="0.75"/>
<circle cx="485.98" cy="479.51" r="1.2" fill="none" stroke="#2b7148" stroke-width="0.75"/>
<polyline points="551.58,435.00 551.59,435.07 551.61,435.14 551.63,435.21 551.65,435.28 551.67,435.35 551.69,435.42 551.71,435.50 551.73,435.57 551.75,435.64 551.77,435.71 551.79,435.78 551.81,435.85 551.83,435.92 551.85,435.99 551.88,436.06 551.90,436.13 551.93,436.20 551.95,436.27 551.98,436.34 552.00,436.41 552.03,436.48 552.06,436.55 552.09,436.62 552.12,436.70 552.15,436.77 552.18,436.84 552.21,436.91 552.24,436.98 552.27,437.05 552.30,437.12 552.34,437.19 552.37,437.26 552.41,437.33 552.44,437.40 552.48,437.47 552.51,437.54 552.55,437.61 552.59,437.69 552.63,437.76 552.67,437.83 552.71,437.90 552.75,437.97 552.79,438.04 552.84,438.11 552.88,438.18 552.92,438.25 552.97,438.32 553.01,438.39 553.06,438.46 553.11,438.53 553.16,438.60 553.21,438.68 553.26,438.75 553.31,438.82 553.36,438.89 553.42,438.96 553.47,439.03 553.52,439.10 553.58,439.17 553.63,439.24 553.69,439.31 553.75,439.38 553.81,439.45 553.87,439.52 553.93,439.59 553.99,439.67 554.06,439.74 554.12,439.81 554.19,439.88 554.25,439.95 554.32,440.02 554.38,440.08 554.45,440.16 554.52,440.23 554.59,440.30 554.66,440.37 554.74,440.44 554.81,440.51 554.88,440.58 554.96,440.65 555.03,440.72 555.11,440.79 555.19,440.86 555.26,440.93 555.35,441.00 555.43,441.08 555.51,441.15 555.59,441.22 555.68,441.29 555.76,441.36 555.85,441.43 555.93,441.50 556.02,441.57 556.11,441.64 556.19,441.71 556.28,441.78 556.37,441.85 556.47,441.92 556.56,441.99 556.65,442.07 556.75,442.14 556.84,442.21 556.94,442.28 557.04,442.35 557.13,442.42 557.23,442.49 557.33,442.56 557.43,442.63 557.53,442.70 557.63,442.77 557.73,442.84 557.83,442.91 557.94,442.98 558.04,443.05 558.15,443.12 558.25,443.19 558.36,443.26 558.46,443.34 558.57,443.41 558.68,443.48 558.78,443.55 558.89,443.62 559.00,443.69 559.11,443.76 559.22,443.83 559.34,443.90 559.45,443.97 559.56,444.04 559.67,444.11 559.78,444.18 559.89,444.25 560.01,444.32 560.12,444.39 560.23,444.46 560.35,444.54 560.46,444.61 560.58,444.68 560.69,444.75 560.80,444.82 560.92,444.89 561.03,444.96 561.15,445.03 561.26,445.10 561.38,445.17 561.49,445.24 561.60,445.31 561.72,445.38 561.83,445.45 561.95,445.52 562.06,445.59 562.18,445.66 562.29,445.73 562.40,445.80 562.52,445.88 562.63,445.95 562.74,446.02 562.85,446.09 562.96,446.16 563.07,446.23 563.18,446.30 563.29,446.37 563.40,446.44 563.51,446.51 563.62,446.58 563.73,446.65 563.84,446.72 563.94,446.79 564.05,446.87 564.15,446.93 564.26,447.00 564.36,447.07 564.46,447.14 564.56,447.21 564.66,447.28 564.76,447.36 564.86,447.43 564.96,447.50 565.05,447.57 565.15,447.64 565.25,447.71 565.34,447.78 565.42,447.85 565.51,447.92 565.60,447.99 565.69,448.06 565.78,448.13 565.86,448.20 565.95,448.27 566.03,448.34 566.11,448.41 566.19,448.49 566.27,448.56 566.34,448.63 566.42,448.70 566.49,448.77 566.56,448.84 566.63,448.91 566.70,448.98 566.77,449.05 566.83,449.12 566.90,449.19 566.96,449.26 567.02,449.33 567.08,449.41 567.13,449.48 567.18,449.54 567.23,449.61 567.28,449.68 567.33,449.75 567.38,449.82 567.43,449.89 567.47,449.97 567.51,450.04 567.55,450.11 567.59,450.18 567.62,450.25 567.65,450.32 567.68,450.39 567.71,450.46 567.74,450.53 567.76,450.60 567.79,450.67 567.81,450.75 567.83,450.82 567.84,450.89 567.86,450.96 567.87,451.03 567.88,451.10 567.89,451.17 567.89,451.24 567.90,451.31 567.90,451.38 567.90,451.46 567.90,451.53 567.89,451.60 567.89,451.67 567.88,451.74 567.87,451.81 567.86,451.88 567.84,451.95 567.83,452.02 567.81,452.09 567.79,452.16 567.77,452.24 567.75,452.31 567.72,452.38 567.69,452.45 567.67,452.52 567.64,452.59 567.61,452.66 567.57,452.73 567.54,452.80 567.50,452.87 567.46,452.94 567.42,453.01 567.38,453.09 567.33,453.16 567.29,453.23 567.24,453.30 567.19,453.37 567.14,453.44 567.09,453.51 567.04,453.58 566.99,453.64 566.93,453.72 566.87,453.79 566.81,453.86 566.75,453.93 566.68,454.00 566.62,454.08 566.55,454.15 566.48,454.22 566.42,454.29 566.35,454.35 566.28,454.42 566.21,454.49 566.13,454.56 566.06,454.64 565.98,454.71 565.90,454.78 565.82,454.85 565.74,454.92 565.66,454.99 565.57,455.06 565.49,455.13 565.41,455.20 565.32,455.27 565.24,455.34 565.15,455.41 565.06,455.48 564.97,455.56 564.88,455.63 564.78,455.70 564.69,455.77 564.60,455.84 564.50,455.91 564.41,455.98 564.31,456.05 564.22,456.12 564.12,456.19 564.02,456.26 563.92,456.33 563.82,456.40 563.72,456.47 563.62,456.54 563.52,456.61 563.42,456.68 563.32,456.75 563.21,456.82 563.11,456.89 563.01,456.96 562.90,457.03 562.80,457.11 562.69,457.18 562.59,457.25 562.48,457.32 562.38,457.39 562.27,457.46 562.16,457.53 562.06,457.60 561.95,457.67 561.84,457.74 561.73,457.81 561.63,457.88 561.52,457.95 561.41,458.02 561.31,458.09 561.20,458.16 561.09,458.24 560.98,458.31 560.88,458.38 560.77,458.45 560.66,458.52 560.55,458.59 560.45,458.66 560.34,458.73 560.23,458.80 560.13,458.87 560.02,458.94 559.92,459.01 559.81,459.08 559.71,459.15 559.60,459.22 559.50,459.29 559.39,459.36 559.29,459.44 559.18,459.51 559.08,459.58 558.98,459.65 558.88,459.72 558.77,459.79 558.67,459.86 558.57,459.93 558.47,460.00 558.37,460.07 558.27,460.14 558.17,460.21 558.07,460.28 557.98,460.35 557.88,460.42 557.78,460.49 557.69,460.56 557.59,460.63 557.50,460.71 557.41,460.78 557.31,460.85 557.22,460.92 557.13,460.99 557.04,461.06 556.94,461.13 556.85,461.20 556.76,461.27 556.68,461.34 556.59,461.41 556.50,461.48 556.42,461.55 556.33,461.62 556.25,461.69 556.17,461.76 556.08,461.83 556.00,461.91 555.92,461.98 555.83,462.05 555.75,462.12 555.68,462.19 555.60,462.26 555.52,462.33 555.45,462.40 555.37,462.47 555.30,462.54 555.22,462.61 555.15,462.68 555.07,462.75 555.00,462.82 554.93,462.90 554.86,462.97 554.79,463.04 554.72,463.11 554.66,463.18 554.59,463.25 554.53,463.32 554.46,463.39 554.40,463.46 554.33,463.53 554.27,463.60 554.21,463.67 554.14,463.74 554.08,463.81 554.03,463.88 553.97,463.95 553.91,464.02 553.85,464.09 553.80,464.16 553.74,464.24 553.69,464.31 553.63,464.38 553.58,464.45 553.53,464.52 553.48,464.59 553.43,464.66 553.38,464.73 553.33,464.80 553.28,464.87 553.23,464.94 553.19,465.01 553.14,465.08 553.09,465.15 553.05,465.22 553.01,465.30 552.96,465.37 552.92,465.44 552.88,465.51 552.84,465.58 552.80,465.65 552.76,465.72 552.72,465.79 552.68,465.86 552.64,465.93 552.61,466.00 552.57,466.07 552.53,466.14 552.50,466.21 552.46,466.29 552.43,466.36 552.40,466.43 552.37,466.50 552.33,466.57 552.30,466.64 552.27,466.71 552.24,466.78 552.21,466.85 552.18,466.92 552.16,466.99 552.13,467.06 552.10,467.13 552.07,467.20 552.05,467.28 552.02,467.35 552.00,467.42 551.97,467.49 551.95,467.56 551.92,467.63 551.90,467.70 551.88,467.77 551.86,467.84 551.83,467.91 551.81,467.98 551.79,468.05 551.77,468.12 551.75,468.19 551.73,468.26 551.72,468.33 551.70,468.41 551.68,468.48 551.66,468.55 551.65,468.62 551.63,468.69 551.61,468.76 551.59,468.83 551.58,468.90" fill="none" stroke="#55bc52" stroke-width="1.1" stroke-linejoin="round" stroke-linecap="round" />
<circle cx="559.13" cy="459.09" r="1.2" fill="none" stroke="#55bc52" stroke-width="0.75"/>
<circle cx="557.58" cy="455.83" r="1.2" fill="none" stroke="#55bc52" stroke-width="0.75"/>
<circle cx="562.95" cy="451.33" r="1.2" fill="none" stroke="#55bc52" stroke-width="0.75"/>
<circle cx="561.06" cy="446.94" r="1.2" fill="none" stroke="#55bc52" stroke-width="0.75"/>
<circle cx="558.35" cy="447.22" r="1.2" fill="none" stroke="#55bc52" stroke-width="0.75"/>
<circle cx="556.19" cy="443.33" r="1.2" fill="none" stroke="#55bc52" stroke-width="0.75"/>
<circle cx="554.18" cy="454.82" r="1.2" fill="none" stroke="#55bc52" stroke-width="0.75"/>
<circle cx="562.76" cy="448.83" r="1.2" fill="none" stroke="#55bc52" stroke-width="0.75"/>
<circle cx="555.67" cy="459.27" r="1.2" fill="none" stroke="#55bc52" stroke-width="0.75"/>
<circle cx="560.57" cy="446.85" r="1.2" fill="none" stroke="#55bc52" stroke-width="0.75"/>
<circle cx="555.67" cy="453.72" r="1.2" fill="none" stroke="#55bc52" stroke-width="0.75"/>
<circle cx="558.65" cy="456.87" r="1.2" fill="none" stroke="#55bc52" stroke-width="0.75"/>
<circle cx="562.28" cy="449.23" r="1.2" fill="none" stroke="#55bc52" stroke-width="0.75"/>
<circle cx="562.80" cy="456.43" r="1.2" fill="none" stroke="#55bc52" stroke-width="0.75"/>
<circle cx="558.03" cy="448.05" r="1.2" fill="none" stroke="#55bc52" stroke-width="0.75"/>
<circle cx="554.40" cy="462.69" r="1.2" fill="none" stroke="#55bc52" stroke-width="0.75"/>
<circle cx="555.10" cy="446.28" r="1.2" fill="none" stroke="#55bc52" stroke-width="0.75"/>
<circle cx="553.29" cy="448.39" r="1.2" fill="none" stroke="#55bc52" stroke-width="0.75"/>
<circle cx="554.05" cy="444.06" r="1.2" fill="none" stroke="#55bc52" stroke-width="0.75"/>
<circle cx="558.13" cy="452.35" r="1.2" fill="none" stroke="#55bc52" stroke-width="0.75"/>
<polyline points="622.77,429.60 622.79,429.65 622.81,429.69 622.84,429.74 622.86,429.78 622.89,429.83 622.91,429.87 622.93,429.92 622.96,429.96 622.98,430.01 623.01,430.05 623.04,430.10 623.07,430.14 623.10,430.19 623.13,430.24 623.16,430.28 623.20,430.33 623.23,430.37 623.27,430.42 623.30,430.46 623.34,430.51 623.37,430.55 623.41,430.60 623.45,430.64 623.49,430.69 623.53,430.73 623.58,430.78 623.62,430.82 623.67,430.87 623.72,430.92 623.76,430.96 623.81,431.01 623.86,431.05 623.91,431.10 623.96,431.14 624.02,431.18 624.07,431.23 624.13,431.27 624.19,431.32 624.25,431.37 624.31,431.41 624.37,431.46 624.43,431.50 624.50,431.55 624.56,431.59 624.63,431.64 624.69,431.68 624.76,431.73 624.83,431.77 624.90,431.82 624.98,431.86 625.05,431.91 625.13,431.96 625.21,432.00 625.29,432.05 625.37,432.09 625.45,432.14 625.54,432.18 625.62,432.22 625.70,432.27 625.79,432.31 625.88,432.36 625.97,432.41 626.07,432.45 626.17,432.50 626.26,432.54 626.36,432.59 626.46,432.63 626.56,432.68 626.66,432.72 626.76,432.77 626.86,432.81 626.96,432.86 627.07,432.90 627.18,432.95 627.30,432.99 627.41,433.04 627.52,433.09 627.64,433.13 627.75,433.18 627.87,433.22 627.99,433.26 628.10,433.31 628.22,433.35 628.34,433.40 628.47,433.44 628.59,433.49 628.72,433.54 628.85,433.58 628.98,433.63 629.10,433.67 629.23,433.72 629.37,433.76 629.50,433.81 629.63,433.85 629.76,433.90 629.89,433.94 630.03,433.99 630.16,434.03 630.30,434.08 630.44,434.12 630.58,434.17 630.72,434.21 630.86,434.26 631.00,434.30 631.14,434.35 631.28,434.39 631.42,434.44 631.56,434.48 631.70,434.53 631.84,434.57 631.99,434.62 632.13,434.66 632.27,434.71 632.41,434.75 632.56,434.80 632.70,434.84 632.84,434.89 632.98,434.93 633.12,434.98 633.27,435.02 633.40,435.07 633.54,435.11 633.68,435.16 633.82,435.20 633.96,435.25 634.10,435.29 634.23,435.34 634.37,435.38 634.51,435.43 634.64,435.48 634.78,435.52 634.91,435.57 635.04,435.61 635.16,435.66 635.29,435.70 635.42,435.74 635.54,435.79 635.66,435.83 635.79,435.88 635.91,435.92 636.03,435.97 636.15,436.02 636.27,436.06 636.39,436.11 636.49,436.15 636.60,436.20 636.70,436.24 636.80,436.28 636.91,436.33 637.01,436.37 637.11,436.42 637.21,436.46 637.30,436.51 637.40,436.56 637.49,436.60 637.58,436.65 637.66,436.69 637.73,436.74 637.81,436.78 637.88,436.82 637.96,436.87 638.03,436.91 638.10,436.96 638.16,437.00 638.23,437.05 638.29,437.10 638.35,437.14 638.40,437.20 638.44,437.24 638.48,437.28 638.52,437.32 638.56,437.37 638.60,437.41 638.63,437.46 638.66,437.50 638.69,437.55 638.72,437.60 638.74,437.64 638.76,437.69 638.78,437.74 638.79,437.78 638.80,437.83 638.80,437.87 638.80,437.92 638.80,437.96 638.80,438.01 638.80,438.05 638.79,438.10 638.78,438.14 638.77,438.19 638.76,438.24 638.75,438.28 638.74,438.33 638.73,438.37 638.72,438.42 638.70,438.46 638.69,438.51 638.67,438.55 638.65,438.60 638.63,438.64 638.61,438.69 638.58,438.73 638.56,438.78 638.54,438.82 638.51,438.87 638.48,438.92 638.45,438.96 638.42,439.01 638.39,439.05 638.36,439.10 638.32,439.14 638.29,439.19 638.25,439.23 638.22,439.28 638.18,439.32 638.14,439.37 638.10,439.41 638.06,439.46 638.02,439.50 637.97,439.55 637.93,439.60 637.88,439.64 637.83,439.69 637.78,439.73 637.74,439.78 637.69,439.82 637.64,439.86 637.59,439.91 637.53,439.95 637.48,440.00 637.42,440.05 637.37,440.09 637.31,440.14 637.25,440.18 637.19,440.23 637.13,440.27 637.07,440.32 637.01,440.36 636.95,440.41 636.89,440.45 636.82,440.50 636.76,440.54 636.69,440.59 636.62,440.63 636.55,440.68 636.49,440.72 636.42,440.77 636.35,440.81 636.28,440.86 636.21,440.90 636.14,440.95 636.07,440.99 635.99,441.04 635.92,441.08 635.84,441.13 635.76,441.18 635.69,441.22 635.61,441.27 635.53,441.31 635.46,441.36 635.38,441.40 635.30,441.45 635.22,441.49 635.14,441.54 635.06,441.58 634.98,441.63 634.90,441.67 634.82,441.72 634.74,441.76 634.65,441.81 634.57,441.85 634.49,441.90 634.40,441.94 634.32,441.99 634.24,442.03 634.15,442.08 634.07,442.12 633.98,442.17 633.89,442.21 633.81,442.26 633.72,442.30 633.64,442.35 633.55,442.39 633.46,442.44 633.37,442.48 633.29,442.53 633.20,442.57 633.11,442.62 633.03,442.67 632.94,442.71 632.85,442.76 632.76,442.80 632.67,442.85 632.59,442.89 632.50,442.94 632.41,442.98 632.32,443.03 632.23,443.07 632.14,443.12 632.06,443.16 631.97,443.21 631.88,443.25 631.79,443.30 631.70,443.34 631.62,443.39 631.53,443.43 631.44,443.48 631.35,443.52 631.27,443.57 631.18,443.61 631.09,443.66 631.00,443.71 630.92,443.75 630.83,443.80 630.74,443.84 630.66,443.89 630.57,443.93 630.49,443.98 630.40,444.02 630.32,444.07 630.23,444.11 630.14,444.16 630.06,444.20 629.98,444.25 629.89,444.29 629.81,444.34 629.73,444.38 629.64,444.43 629.56,444.47 629.48,444.52 629.40,444.56 629.32,444.61 629.23,444.65 629.15,444.70 629.07,444.74 628.99,444.79 628.91,444.83 628.84,444.88 628.76,444.92 628.68,444.97 628.60,445.01 628.53,445.06 628.45,445.10 628.37,445.15 628.30,445.20 628.22,445.24 628.14,445.29 628.07,445.33 628.00,445.38 627.92,445.42 627.85,445.47 627.78,445.51 627.71,445.56 627.64,445.60 627.56,445.65 627.49,445.69 627.42,445.74 627.35,445.78 627.28,445.83 627.21,445.88 627.15,445.92 627.08,445.96 627.01,446.01 626.95,446.05 626.88,446.10 626.82,446.14 626.75,446.19 626.69,446.23 626.63,446.28 626.56,446.33 626.50,446.37 626.44,446.42 626.38,446.46 626.32,446.51 626.26,446.55 626.20,446.60 626.14,446.64 626.08,446.69 626.02,446.73 625.97,446.78 625.91,446.82 625.85,446.87 625.80,446.91 625.74,446.96 625.69,447.00 625.63,447.05 625.58,447.09 625.53,447.14 625.48,447.18 625.43,447.23 625.38,447.27 625.32,447.32 625.27,447.36 625.22,447.41 625.18,447.46 625.13,447.50 625.08,447.55 625.03,447.59 624.99,447.64 624.94,447.68 624.90,447.73 624.85,447.77 624.81,447.82 624.76,447.86 624.72,447.91 624.68,447.95 624.63,448.00 624.59,448.05 624.55,448.09 624.51,448.13 624.47,448.18 624.43,448.22 624.39,448.27 624.36,448.31 624.32,448.36 624.28,448.40 624.24,448.45 624.21,448.50 624.17,448.54 624.13,448.59 624.10,448.63 624.06,448.68 624.03,448.72 624.00,448.77 623.97,448.81 623.93,448.86 623.90,448.90 623.87,448.95 623.84,448.99 623.81,449.04 623.78,449.08 623.75,449.13 623.72,449.17 623.69,449.22 623.66,449.26 623.63,449.31 623.60,449.35 623.58,449.40 623.55,449.44 623.52,449.49 623.50,449.54 623.47,449.58 623.45,449.63 623.42,449.67 623.40,449.72 623.37,449.76 623.35,449.81 623.33,449.85 623.31,449.90 623.28,449.94 623.26,449.99 623.24,450.03 623.22,450.08 623.20,450.12 623.18,450.17 623.16,450.22 623.14,450.26 623.12,450.30 623.10,450.35 623.08,450.39 623.06,450.44 623.04,450.49 623.02,450.53 623.01,450.58 622.99,450.62 622.97,450.67 622.96,450.71 622.94,450.76 622.92,450.80 622.91,450.85 622.89,450.89 622.88,450.94 622.86,450.98 622.85,451.03 622.84,451.07 622.82,451.12 622.81,451.16 622.79,451.21 622.78,451.25 622.77,451.30" fill="none" stroke="#55bc52" stroke-width="1.1" stroke-linejoin="round" stroke-linecap="round" />
<circle cx="625.24" cy="434.60" r="1.2" fill="none" stroke="#55bc52" stroke-width="0.75"/>
<circle cx="627.46" cy="445.38" r="1.2" fill="none" stroke="#55bc52" stroke-width="0.75"/>
<circle cx="627.58" cy="434.60" r="1.2" fill="none" stroke="#55bc52" stroke-width="0.75"/>
<circle cx="635.79" cy="438.73" r="1.2" fill="none" stroke="#55bc52" stroke-width="0.75"/>
<circle cx="629.98" cy="440.58" r="1.2" fill="none" stroke="#55bc52" stroke-width="0.75"/>
<circle cx="629.41" cy="434.60" r="1.2" fill="none" stroke="#55bc52" stroke-width="0.75"/>
<circle cx="632.61" cy="440.93" r="1.2" fill="none" stroke="#55bc52" stroke-width="0.75"/>
<circle cx="631.14" cy="434.60" r="1.2" fill="none" stroke="#55bc52" stroke-width="0.75"/>
<circle cx="625.90" cy="434.60" r="1.2" fill="none" stroke="#55bc52" stroke-width="0.75"/>
<circle cx="634.21" cy="438.61" r="1.2" fill="none" stroke="#55bc52" stroke-width="0.75"/>
<circle cx="630.37" cy="434.60" r="1.2" fill="none" stroke="#55bc52" stroke-width="0.75"/>
<circle cx="625.95" cy="434.60" r="1.2" fill="none" stroke="#55bc52" stroke-width="0.75"/>
<circle cx="626.73" cy="439.28" r="1.2" fill="none" stroke="#55bc52" stroke-width="0.75"/>
<circle cx="631.77" cy="441.37" r="1.2" fill="none" stroke="#55bc52" stroke-width="0.75"/>
<circle cx="625.46" cy="444.42" r="1.2" fill="none" stroke="#55bc52" stroke-width="0.75"/>
<circle cx="630.45" cy="434.60" r="1.2" fill="none" stroke="#55bc52" stroke-width="0.75"/>
<circle cx="632.39" cy="435.94" r="1.2" fill="none" stroke="#55bc52" stroke-width="0.75"/>
<circle cx="624.93" cy="442.56" r="1.2" fill="none" stroke="#55bc52" stroke-width="0.75"/>
<circle cx="625.09" cy="445.53" r="1.2" fill="none" stroke="#55bc52" stroke-width="0.75"/>
<circle cx="626.99" cy="442.92" r="1.2" fill="none" stroke="#55bc52" stroke-width="0.75"/>
<text x="385.80" y="545.00" font-size="8.7" text-anchor="start" fill="#1a1a1a" >7.1 ± 1.3%</text>
<text x="453.40" y="504.80" font-size="8.7" text-anchor="start" fill="#1a1a1a" >15.5 ± 1.1%</text>
<text x="524.40" y="480.60" font-size="8.7" text-anchor="start" fill="#1a1a1a" >19.7 ± 1.0%</text>
<text x="596.90" y="463.50" font-size="8.7" text-anchor="start" fill="#1a1a1a" >22.4 ± 0.8%</text>
<rect x="386.4" y="418.0" width="19.3" height="9.3" fill="none" stroke="#2b7148" stroke-width="1.1"/>
<rect x="386.4" y="428.9" width="19.3" height="9.5" fill="none" stroke="#55bc52" stroke-width="1.1"/>
<text x="410.00" y="425.90" font-size="8.7" text-anchor="start" fill="#1a1a1a" >Pristine</text>
<text x="410.00" y="436.40" font-size="8.7" text-anchor="start" fill="#1a1a1a" >Target</text>
</svg></body></html>
